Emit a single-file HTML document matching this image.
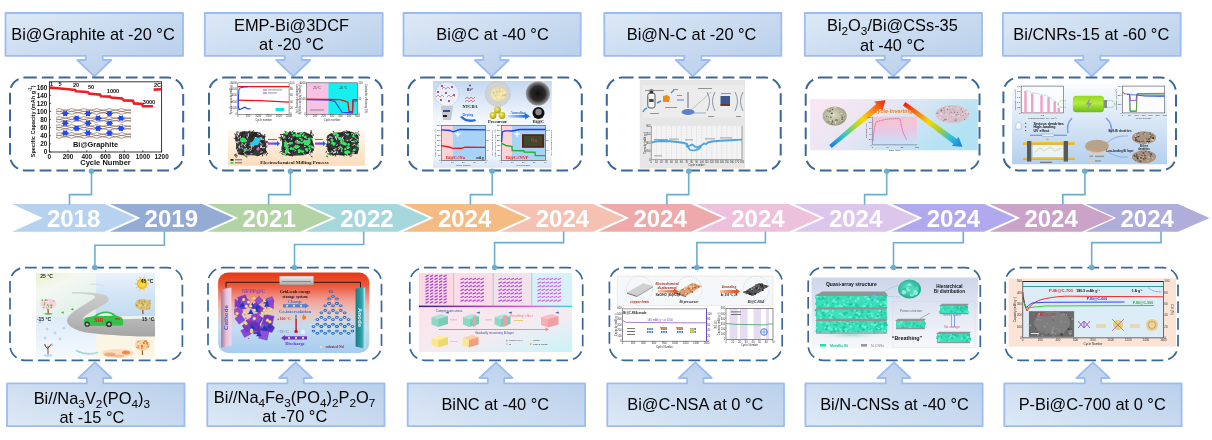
<!DOCTYPE html>
<html><head><meta charset="utf-8"><title>Bi anodes timeline</title>
<style>html,body{margin:0;padding:0;background:#fff;width:1212px;height:440px;overflow:hidden} svg{display:block}</style>
</head><body>
<svg width="1212" height="440" viewBox="0 0 1212 440">
<defs>
 <linearGradient id="cg" x1="0" y1="0" x2="1" y2="1">
  <stop offset="0" stop-color="#dde9f6"/>
  <stop offset="1" stop-color="#b3cbe9"/>
 </linearGradient>
 <linearGradient id="cgu" x1="0" y1="1" x2="1" y2="0">
  <stop offset="0" stop-color="#dde9f6"/>
  <stop offset="1" stop-color="#b3cbe9"/>
 </linearGradient>
</defs>
<path d="M5.5,13.0 H183.0 V55.8 H102.8 V60.0 H111.3 L94.3,76.4 L77.3,60.0 H85.8 V55.8 H5.5 Z" fill="url(#cg)" stroke="#9dbcf4" stroke-width="1.8" stroke-linejoin="round"/>
<path d="M204.8,13.0 H382.7 V55.8 H301.7 V60.0 H310.2 L293.2,76.4 L276.2,60.0 H284.7 V55.8 H204.8 Z" fill="url(#cg)" stroke="#9dbcf4" stroke-width="1.8" stroke-linejoin="round"/>
<path d="M403.5,13.0 H580.7 V55.8 H500.3 V60.0 H508.8 L491.8,76.4 L474.8,60.0 H483.3 V55.8 H403.5 Z" fill="url(#cg)" stroke="#9dbcf4" stroke-width="1.8" stroke-linejoin="round"/>
<path d="M604.3,13.0 H781.3 V55.8 H701.3 V60.0 H709.8 L692.8,76.4 L675.8,60.0 H684.3 V55.8 H604.3 Z" fill="url(#cg)" stroke="#9dbcf4" stroke-width="1.8" stroke-linejoin="round"/>
<path d="M804.8,13.0 H982.0 V55.8 H901.7 V60.0 H910.2 L893.2,76.4 L876.2,60.0 H884.7 V55.8 H804.8 Z" fill="url(#cg)" stroke="#9dbcf4" stroke-width="1.8" stroke-linejoin="round"/>
<path d="M1002.9,13.0 H1180.7 V55.8 H1100.3 V60.0 H1108.8 L1091.8,76.4 L1074.8,60.0 H1083.3 V55.8 H1002.9 Z" fill="url(#cg)" stroke="#9dbcf4" stroke-width="1.8" stroke-linejoin="round"/>
<path d="M7.0,383.4 H86.8 V378.0 H78.5 L95.0,362.3 L111.5,378.0 H103.2 V383.4 H184.5 V426.2 H7.0 Z" fill="url(#cgu)" stroke="#9dbcf4" stroke-width="1.8" stroke-linejoin="round"/>
<path d="M207.3,383.4 H287.40000000000003 V378.0 H279.1 L295.6,362.3 L312.1,378.0 H303.8 V383.4 H384.5 V426.2 H207.3 Z" fill="url(#cgu)" stroke="#9dbcf4" stroke-width="1.8" stroke-linejoin="round"/>
<path d="M407.7,383.4 H487.8 V378.0 H479.5 L496.0,362.3 L512.5,378.0 H504.2 V383.4 H585.1 V426.2 H407.7 Z" fill="url(#cgu)" stroke="#9dbcf4" stroke-width="1.8" stroke-linejoin="round"/>
<path d="M607.3,383.4 H687.0999999999999 V378.0 H678.8 L695.3,362.3 L711.8,378.0 H703.5 V383.4 H784.0 V426.2 H607.3 Z" fill="url(#cgu)" stroke="#9dbcf4" stroke-width="1.8" stroke-linejoin="round"/>
<path d="M805.4,383.4 H885.8 V378.0 H877.5 L894.0,362.3 L910.5,378.0 H902.2 V383.4 H982.6 V426.2 H805.4 Z" fill="url(#cgu)" stroke="#9dbcf4" stroke-width="1.8" stroke-linejoin="round"/>
<path d="M1004.3,383.4 H1084.8 V378.0 H1076.5 L1093.0,362.3 L1109.5,378.0 H1101.2 V383.4 H1181.6 V426.2 H1004.3 Z" fill="url(#cgu)" stroke="#9dbcf4" stroke-width="1.8" stroke-linejoin="round"/>
<text x="93.0" y="40.2" font-family="Liberation Sans, Arial, sans-serif" font-size="16.4" fill="#000" text-anchor="middle">Bi@Graphite at -20 °C</text>
<text x="291.5" y="30.8" font-family="Liberation Sans, Arial, sans-serif" font-size="16.4" fill="#000" text-anchor="middle">EMP-Bi@3DCF</text>
<text x="291.5" y="50.4" font-family="Liberation Sans, Arial, sans-serif" font-size="16.4" fill="#000" text-anchor="middle">at -20 °C</text>
<text x="492.5" y="40.2" font-family="Liberation Sans, Arial, sans-serif" font-size="16.4" fill="#000" text-anchor="middle">Bi@C at -40 °C</text>
<text x="691.6" y="40.2" font-family="Liberation Sans, Arial, sans-serif" font-size="16.4" fill="#000" text-anchor="middle">Bi@N-C at -20 °C</text>
<text x="892.4" y="30.9" font-family="Liberation Sans, Arial, sans-serif" font-size="16.4" fill="#000" text-anchor="middle">Bi<tspan font-size="11.8" dy="4">2</tspan><tspan dy="-4">O</tspan><tspan font-size="11.8" dy="4">3</tspan><tspan dy="-4">/Bi@CSs-35</tspan></text>
<text x="892.5" y="50.6" font-family="Liberation Sans, Arial, sans-serif" font-size="16.4" fill="#000" text-anchor="middle">at -40 °C</text>
<text x="1091.3" y="40.2" font-family="Liberation Sans, Arial, sans-serif" font-size="16.4" fill="#000" text-anchor="middle">Bi/CNRs-15 at -60 °C</text>
<text x="91.9" y="403.8" font-family="Liberation Sans, Arial, sans-serif" font-size="16.4" fill="#000" text-anchor="middle">Bi//Na<tspan font-size="11.8" dy="4">3</tspan><tspan dy="-4">V</tspan><tspan font-size="11.8" dy="4">2</tspan><tspan dy="-4">(PO</tspan><tspan font-size="11.8" dy="4">4</tspan><tspan dy="-4">)</tspan><tspan font-size="11.8" dy="4">3</tspan></text>
<text x="91.9" y="422.5" font-family="Liberation Sans, Arial, sans-serif" font-size="16.4" fill="#000" text-anchor="middle">at -15 °C</text>
<text x="294.6" y="403.0" font-family="Liberation Sans, Arial, sans-serif" font-size="16.4" fill="#000" text-anchor="middle">Bi//Na<tspan font-size="11.8" dy="4">4</tspan><tspan dy="-4">Fe</tspan><tspan font-size="11.8" dy="4">3</tspan><tspan dy="-4">(PO</tspan><tspan font-size="11.8" dy="4">4</tspan><tspan dy="-4">)</tspan><tspan font-size="11.8" dy="4">2</tspan><tspan dy="-4">P</tspan><tspan font-size="11.8" dy="4">2</tspan><tspan dy="-4">O</tspan><tspan font-size="11.8" dy="4">7</tspan></text>
<text x="294.8" y="422.3" font-family="Liberation Sans, Arial, sans-serif" font-size="16.4" fill="#000" text-anchor="middle">at -70 °C</text>
<text x="495.25" y="409.7" font-family="Liberation Sans, Arial, sans-serif" font-size="16.4" fill="#000" text-anchor="middle">BiNC at -40 °C</text>
<text x="695.3" y="409.7" font-family="Liberation Sans, Arial, sans-serif" font-size="16.4" fill="#000" text-anchor="middle">Bi@C-NSA at 0 °C</text>
<text x="894.5" y="409.7" font-family="Liberation Sans, Arial, sans-serif" font-size="16.4" fill="#000" text-anchor="middle">Bi/N-CNSs at -40 °C</text>
<text x="1092.2" y="409.7" font-family="Liberation Sans, Arial, sans-serif" font-size="16.4" fill="#000" text-anchor="middle">P-Bi@C-700 at 0 °C</text>
<polygon points="12.1,203.9 104.5,203.9 135.9,217.9 104.5,231.8 12.1,231.8 42.7,217.9" fill="#b6d2ee"/>
<text x="73.6" y="227.3" font-family="Liberation Sans, Arial, sans-serif" font-weight="bold" font-size="24" fill="#fff" text-anchor="middle">2018</text>
<polygon points="109.85,203.9 202.25,203.9 233.64999999999998,217.9 202.25,231.8 109.85,231.8 140.45,217.9" fill="#94acd4"/>
<text x="171.3" y="227.3" font-family="Liberation Sans, Arial, sans-serif" font-weight="bold" font-size="24" fill="#fff" text-anchor="middle">2019</text>
<polygon points="207.6,203.9 300.0,203.9 331.4,217.9 300.0,231.8 207.6,231.8 238.2,217.9" fill="#b2d3a3"/>
<text x="269.1" y="227.3" font-family="Liberation Sans, Arial, sans-serif" font-weight="bold" font-size="24" fill="#fff" text-anchor="middle">2021</text>
<polygon points="305.35,203.9 397.75,203.9 429.15000000000003,217.9 397.75,231.8 305.35,231.8 335.95000000000005,217.9" fill="#a6d7dc"/>
<text x="366.9" y="227.3" font-family="Liberation Sans, Arial, sans-serif" font-weight="bold" font-size="24" fill="#fff" text-anchor="middle">2022</text>
<polygon points="403.1,203.9 495.5,203.9 526.9,217.9 495.5,231.8 403.1,231.8 433.70000000000005,217.9" fill="#f4bb85"/>
<text x="464.6" y="227.3" font-family="Liberation Sans, Arial, sans-serif" font-weight="bold" font-size="24" fill="#fff" text-anchor="middle">2024</text>
<polygon points="500.85,203.9 593.25,203.9 624.65,217.9 593.25,231.8 500.85,231.8 531.45,217.9" fill="#f5c1b2"/>
<text x="562.4" y="227.3" font-family="Liberation Sans, Arial, sans-serif" font-weight="bold" font-size="24" fill="#fff" text-anchor="middle">2024</text>
<polygon points="598.6,203.9 691.0,203.9 722.4,217.9 691.0,231.8 598.6,231.8 629.2,217.9" fill="#eeaaab"/>
<text x="660.1" y="227.3" font-family="Liberation Sans, Arial, sans-serif" font-weight="bold" font-size="24" fill="#fff" text-anchor="middle">2024</text>
<polygon points="696.35,203.9 788.75,203.9 820.15,217.9 788.75,231.8 696.35,231.8 726.95,217.9" fill="#edc1dc"/>
<text x="757.9" y="227.3" font-family="Liberation Sans, Arial, sans-serif" font-weight="bold" font-size="24" fill="#fff" text-anchor="middle">2024</text>
<polygon points="794.1,203.9 886.5,203.9 917.9,217.9 886.5,231.8 794.1,231.8 824.7,217.9" fill="#dcc6ec"/>
<text x="855.6" y="227.3" font-family="Liberation Sans, Arial, sans-serif" font-weight="bold" font-size="24" fill="#fff" text-anchor="middle">2024</text>
<polygon points="891.85,203.9 984.25,203.9 1015.65,217.9 984.25,231.8 891.85,231.8 922.45,217.9" fill="#b1a9ee"/>
<text x="953.4" y="227.3" font-family="Liberation Sans, Arial, sans-serif" font-weight="bold" font-size="24" fill="#fff" text-anchor="middle">2024</text>
<polygon points="989.6,203.9 1082.0,203.9 1113.4,217.9 1082.0,231.8 989.6,231.8 1020.2,217.9" fill="#cba2c8"/>
<text x="1051.1" y="227.3" font-family="Liberation Sans, Arial, sans-serif" font-weight="bold" font-size="24" fill="#fff" text-anchor="middle">2024</text>
<polygon points="1085.7,203.9 1178.1000000000001,203.9 1209.5,217.9 1178.1000000000001,231.8 1085.7,231.8 1116.3,217.9" fill="#afadd9"/>
<text x="1147.2" y="227.3" font-family="Liberation Sans, Arial, sans-serif" font-weight="bold" font-size="24" fill="#fff" text-anchor="middle">2024</text>
<path d="M91.5,171.3 V194.6 H69.5 V204.5" fill="none" stroke="#6aaed0" stroke-width="1.6"/>
<path d="M290.4,171.3 V194.6 H268.6 V204.5" fill="none" stroke="#6aaed0" stroke-width="1.6"/>
<path d="M492.2,171.3 V194.6 H470.4 V204.5" fill="none" stroke="#6aaed0" stroke-width="1.6"/>
<path d="M688.7,171.3 V194.6 H666.9 V204.5" fill="none" stroke="#6aaed0" stroke-width="1.6"/>
<path d="M886.7,171.3 V194.6 H864.6 V204.5" fill="none" stroke="#6aaed0" stroke-width="1.6"/>
<path d="M1084.9,171.3 V194.6 H1062.8 V204.5" fill="none" stroke="#6aaed0" stroke-width="1.6"/>
<path d="M164.4,231.5 V245.3 H94.9 V267.5" fill="none" stroke="#6aaed0" stroke-width="1.6"/>
<path d="M363.7,231.5 V244.5 H294.5 V267.5" fill="none" stroke="#6aaed0" stroke-width="1.6"/>
<path d="M563.6,231.5 V242.6 H494.6 V267.5" fill="none" stroke="#6aaed0" stroke-width="1.6"/>
<path d="M765.4,231.5 V242.6 H696.9 V267.5" fill="none" stroke="#6aaed0" stroke-width="1.6"/>
<path d="M963.3,231.5 V242.8 H893.5 V267.5" fill="none" stroke="#6aaed0" stroke-width="1.6"/>
<path d="M1161.0,231.5 V242.6 H1091.7 V267.5" fill="none" stroke="#6aaed0" stroke-width="1.6"/>
<rect x="49.4" y="81.8" width="112.19999999999999" height="70.2" fill="#fff" stroke="#222" stroke-width="0.9"/>
<line x1="49.4" y1="152.0" x2="51.199999999999996" y2="152.0" stroke="#222" stroke-width="0.7"/>
<text x="47.4" y="154.3" font-family="Liberation Sans, Arial, sans-serif" font-size="6.4" fill="#111" text-anchor="end" font-weight="bold" >0</text>
<line x1="49.4" y1="143.9" x2="51.199999999999996" y2="143.9" stroke="#222" stroke-width="0.7"/>
<text x="47.4" y="146.2" font-family="Liberation Sans, Arial, sans-serif" font-size="6.4" fill="#111" text-anchor="end" font-weight="bold" >20</text>
<line x1="49.4" y1="135.8" x2="51.199999999999996" y2="135.8" stroke="#222" stroke-width="0.7"/>
<text x="47.4" y="138.1" font-family="Liberation Sans, Arial, sans-serif" font-size="6.4" fill="#111" text-anchor="end" font-weight="bold" >40</text>
<line x1="49.4" y1="127.7" x2="51.199999999999996" y2="127.7" stroke="#222" stroke-width="0.7"/>
<text x="47.4" y="130.0" font-family="Liberation Sans, Arial, sans-serif" font-size="6.4" fill="#111" text-anchor="end" font-weight="bold" >60</text>
<line x1="49.4" y1="119.6" x2="51.199999999999996" y2="119.6" stroke="#222" stroke-width="0.7"/>
<text x="47.4" y="121.9" font-family="Liberation Sans, Arial, sans-serif" font-size="6.4" fill="#111" text-anchor="end" font-weight="bold" >80</text>
<line x1="49.4" y1="111.5" x2="51.199999999999996" y2="111.5" stroke="#222" stroke-width="0.7"/>
<text x="47.4" y="113.8" font-family="Liberation Sans, Arial, sans-serif" font-size="6.4" fill="#111" text-anchor="end" font-weight="bold" >100</text>
<line x1="49.4" y1="103.4" x2="51.199999999999996" y2="103.4" stroke="#222" stroke-width="0.7"/>
<text x="47.4" y="105.7" font-family="Liberation Sans, Arial, sans-serif" font-size="6.4" fill="#111" text-anchor="end" font-weight="bold" >120</text>
<line x1="49.4" y1="95.3" x2="51.199999999999996" y2="95.3" stroke="#222" stroke-width="0.7"/>
<text x="47.4" y="97.6" font-family="Liberation Sans, Arial, sans-serif" font-size="6.4" fill="#111" text-anchor="end" font-weight="bold" >140</text>
<line x1="49.4" y1="87.2" x2="51.199999999999996" y2="87.2" stroke="#222" stroke-width="0.7"/>
<text x="47.4" y="89.5" font-family="Liberation Sans, Arial, sans-serif" font-size="6.4" fill="#111" text-anchor="end" font-weight="bold" >160</text>
<line x1="49.4" y1="152.0" x2="49.4" y2="150.2" stroke="#222" stroke-width="0.7"/>
<text x="49.4" y="159.3" font-family="Liberation Sans, Arial, sans-serif" font-size="6.4" fill="#111" text-anchor="middle" font-weight="bold" >0</text>
<line x1="68.1" y1="152.0" x2="68.1" y2="150.2" stroke="#222" stroke-width="0.7"/>
<text x="68.1" y="159.3" font-family="Liberation Sans, Arial, sans-serif" font-size="6.4" fill="#111" text-anchor="middle" font-weight="bold" >200</text>
<line x1="86.8" y1="152.0" x2="86.8" y2="150.2" stroke="#222" stroke-width="0.7"/>
<text x="86.8" y="159.3" font-family="Liberation Sans, Arial, sans-serif" font-size="6.4" fill="#111" text-anchor="middle" font-weight="bold" >400</text>
<line x1="105.5" y1="152.0" x2="105.5" y2="150.2" stroke="#222" stroke-width="0.7"/>
<text x="105.5" y="159.3" font-family="Liberation Sans, Arial, sans-serif" font-size="6.4" fill="#111" text-anchor="middle" font-weight="bold" >600</text>
<line x1="124.2" y1="152.0" x2="124.2" y2="150.2" stroke="#222" stroke-width="0.7"/>
<text x="124.2" y="159.3" font-family="Liberation Sans, Arial, sans-serif" font-size="6.4" fill="#111" text-anchor="middle" font-weight="bold" >800</text>
<line x1="142.9" y1="152.0" x2="142.9" y2="150.2" stroke="#222" stroke-width="0.7"/>
<text x="142.9" y="159.3" font-family="Liberation Sans, Arial, sans-serif" font-size="6.4" fill="#111" text-anchor="middle" font-weight="bold" >1000</text>
<line x1="161.6" y1="152.0" x2="161.6" y2="150.2" stroke="#222" stroke-width="0.7"/>
<text x="161.6" y="159.3" font-family="Liberation Sans, Arial, sans-serif" font-size="6.4" fill="#111" text-anchor="middle" font-weight="bold" >1200</text>
<text x="105.5" y="165.4" font-family="Liberation Sans, Arial, sans-serif" font-size="7.5" fill="#111" text-anchor="middle" font-weight="bold" >Cycle Number</text>
<text x="0" y="0" font-family="Liberation Sans, Arial, sans-serif" font-size="6.1" font-weight="bold" fill="#111" text-anchor="middle" textLength="71.8" lengthAdjust="spacingAndGlyphs" transform="translate(34.6,121.4) rotate(-90)">Specific Capacity (mAh g<tspan font-size="4.5" dy="-2.5">-1</tspan><tspan dy="2.5">)</tspan></text>
<polyline points="50,87.6 57,88.2 66,89.0 75,90.0 76,91.2 84,91.8 88,92.2 89,93.6 96,94.2 100,94.6 101,96.3 110,96.6 111,97.6 122,98.4 124,100.4 133,100.8 134,103.4 142,104.0 143,106.3 153,106.3" fill="none" stroke="#ee1c24" stroke-width="2.6"/>
<polyline points="153.6,89.6 161.4,89.3" fill="none" stroke="#ee1c24" stroke-width="2.6"/>
<text x="51.5" y="85.6" font-family="Liberation Sans, Arial, sans-serif" font-size="5.6" fill="#111" text-anchor="middle" font-weight="bold" >1</text>
<text x="60.0" y="86.0" font-family="Liberation Sans, Arial, sans-serif" font-size="5.6" fill="#111" text-anchor="middle" font-weight="bold" >5</text>
<text x="76.0" y="87.4" font-family="Liberation Sans, Arial, sans-serif" font-size="5.6" fill="#111" text-anchor="middle" font-weight="bold" >20</text>
<text x="91.0" y="88.6" font-family="Liberation Sans, Arial, sans-serif" font-size="5.6" fill="#111" text-anchor="middle" font-weight="bold" >50</text>
<text x="113.0" y="93.2" font-family="Liberation Sans, Arial, sans-serif" font-size="5.6" fill="#111" text-anchor="middle" font-weight="bold" >1000</text>
<text x="149.0" y="103.8" font-family="Liberation Sans, Arial, sans-serif" font-size="5.6" fill="#111" text-anchor="middle" font-weight="bold" >3000</text>
<text x="157.5" y="86.9" font-family="Liberation Sans, Arial, sans-serif" font-size="5.6" fill="#111" text-anchor="middle" font-weight="bold" >2C</text>
<path d="M56,109.5 Q59.1,107.7 62.2,109.5 Q65.3,111.3 68.5,109.5 Q71.6,107.7 74.8,109.5 Q77.8,111.3 81.0,109.5 Q84.1,107.7 87.2,109.5 Q90.3,111.3 93.5,109.5 Q96.6,107.7 99.8,109.5 Q102.8,111.3 106.0,109.5 Q109.1,107.7 112.2,109.5 Q115.3,111.3 118.5,109.5 Q121.6,107.7 124.8,109.5 Q127.8,111.3 131.0,109.5" fill="none" stroke="#8a6a58" stroke-width="0.7"/>
<path d="M56,110.8 Q59.1,112.6 62.2,110.8 Q65.3,109.0 68.5,110.8 Q71.6,112.6 74.8,110.8 Q77.8,109.0 81.0,110.8 Q84.1,112.6 87.2,110.8 Q90.3,109.0 93.5,110.8 Q96.6,112.6 99.8,110.8 Q102.8,109.0 106.0,110.8 Q109.1,112.6 112.2,110.8 Q115.3,109.0 118.5,110.8 Q121.6,112.6 124.8,110.8 Q127.8,109.0 131.0,110.8" fill="none" stroke="#8a6a58" stroke-width="0.7"/>
<path d="M56,112.1 Q59.1,110.3 62.2,112.1 Q65.3,113.9 68.5,112.1 Q71.6,110.3 74.8,112.1 Q77.8,113.9 81.0,112.1 Q84.1,110.3 87.2,112.1 Q90.3,113.9 93.5,112.1 Q96.6,110.3 99.8,112.1 Q102.8,113.9 106.0,112.1 Q109.1,110.3 112.2,112.1 Q115.3,113.9 118.5,112.1 Q121.6,110.3 124.8,112.1 Q127.8,113.9 131.0,112.1" fill="none" stroke="#8a6a58" stroke-width="0.7"/>
<path d="M56,113.4 Q59.1,115.2 62.2,113.4 Q65.3,111.6 68.5,113.4 Q71.6,115.2 74.8,113.4 Q77.8,111.6 81.0,113.4 Q84.1,115.2 87.2,113.4 Q90.3,111.6 93.5,113.4 Q96.6,115.2 99.8,113.4 Q102.8,111.6 106.0,113.4 Q109.1,115.2 112.2,113.4 Q115.3,111.6 118.5,113.4 Q121.6,115.2 124.8,113.4 Q127.8,111.6 131.0,113.4" fill="none" stroke="#8a6a58" stroke-width="0.7"/>
<path d="M56,117.5 Q59.1,115.7 62.2,117.5 Q65.3,119.3 68.5,117.5 Q71.6,115.7 74.8,117.5 Q77.8,119.3 81.0,117.5 Q84.1,115.7 87.2,117.5 Q90.3,119.3 93.5,117.5 Q96.6,115.7 99.8,117.5 Q102.8,119.3 106.0,117.5 Q109.1,115.7 112.2,117.5 Q115.3,119.3 118.5,117.5 Q121.6,115.7 124.8,117.5 Q127.8,119.3 131.0,117.5" fill="none" stroke="#8a6a58" stroke-width="0.7"/>
<path d="M56,118.8 Q59.1,120.6 62.2,118.8 Q65.3,117.0 68.5,118.8 Q71.6,120.6 74.8,118.8 Q77.8,117.0 81.0,118.8 Q84.1,120.6 87.2,118.8 Q90.3,117.0 93.5,118.8 Q96.6,120.6 99.8,118.8 Q102.8,117.0 106.0,118.8 Q109.1,120.6 112.2,118.8 Q115.3,117.0 118.5,118.8 Q121.6,120.6 124.8,118.8 Q127.8,117.0 131.0,118.8" fill="none" stroke="#8a6a58" stroke-width="0.7"/>
<path d="M56,120.1 Q59.1,118.3 62.2,120.1 Q65.3,121.9 68.5,120.1 Q71.6,118.3 74.8,120.1 Q77.8,121.9 81.0,120.1 Q84.1,118.3 87.2,120.1 Q90.3,121.9 93.5,120.1 Q96.6,118.3 99.8,120.1 Q102.8,121.9 106.0,120.1 Q109.1,118.3 112.2,120.1 Q115.3,121.9 118.5,120.1 Q121.6,118.3 124.8,120.1 Q127.8,121.9 131.0,120.1" fill="none" stroke="#8a6a58" stroke-width="0.7"/>
<path d="M56,121.4 Q59.1,123.2 62.2,121.4 Q65.3,119.6 68.5,121.4 Q71.6,123.2 74.8,121.4 Q77.8,119.6 81.0,121.4 Q84.1,123.2 87.2,121.4 Q90.3,119.6 93.5,121.4 Q96.6,123.2 99.8,121.4 Q102.8,119.6 106.0,121.4 Q109.1,123.2 112.2,121.4 Q115.3,119.6 118.5,121.4 Q121.6,123.2 124.8,121.4 Q127.8,119.6 131.0,121.4" fill="none" stroke="#8a6a58" stroke-width="0.7"/>
<path d="M56,125.5 Q59.1,123.7 62.2,125.5 Q65.3,127.3 68.5,125.5 Q71.6,123.7 74.8,125.5 Q77.8,127.3 81.0,125.5 Q84.1,123.7 87.2,125.5 Q90.3,127.3 93.5,125.5 Q96.6,123.7 99.8,125.5 Q102.8,127.3 106.0,125.5 Q109.1,123.7 112.2,125.5 Q115.3,127.3 118.5,125.5 Q121.6,123.7 124.8,125.5 Q127.8,127.3 131.0,125.5" fill="none" stroke="#8a6a58" stroke-width="0.7"/>
<path d="M56,126.8 Q59.1,128.6 62.2,126.8 Q65.3,125.0 68.5,126.8 Q71.6,128.6 74.8,126.8 Q77.8,125.0 81.0,126.8 Q84.1,128.6 87.2,126.8 Q90.3,125.0 93.5,126.8 Q96.6,128.6 99.8,126.8 Q102.8,125.0 106.0,126.8 Q109.1,128.6 112.2,126.8 Q115.3,125.0 118.5,126.8 Q121.6,128.6 124.8,126.8 Q127.8,125.0 131.0,126.8" fill="none" stroke="#8a6a58" stroke-width="0.7"/>
<path d="M56,128.1 Q59.1,126.3 62.2,128.1 Q65.3,129.9 68.5,128.1 Q71.6,126.3 74.8,128.1 Q77.8,129.9 81.0,128.1 Q84.1,126.3 87.2,128.1 Q90.3,129.9 93.5,128.1 Q96.6,126.3 99.8,128.1 Q102.8,129.9 106.0,128.1 Q109.1,126.3 112.2,128.1 Q115.3,129.9 118.5,128.1 Q121.6,126.3 124.8,128.1 Q127.8,129.9 131.0,128.1" fill="none" stroke="#8a6a58" stroke-width="0.7"/>
<path d="M56,129.4 Q59.1,131.2 62.2,129.4 Q65.3,127.6 68.5,129.4 Q71.6,131.2 74.8,129.4 Q77.8,127.6 81.0,129.4 Q84.1,131.2 87.2,129.4 Q90.3,127.6 93.5,129.4 Q96.6,131.2 99.8,129.4 Q102.8,127.6 106.0,129.4 Q109.1,131.2 112.2,129.4 Q115.3,127.6 118.5,129.4 Q121.6,131.2 124.8,129.4 Q127.8,127.6 131.0,129.4" fill="none" stroke="#8a6a58" stroke-width="0.7"/>
<path d="M56,133.5 Q59.1,131.7 62.2,133.5 Q65.3,135.3 68.5,133.5 Q71.6,131.7 74.8,133.5 Q77.8,135.3 81.0,133.5 Q84.1,131.7 87.2,133.5 Q90.3,135.3 93.5,133.5 Q96.6,131.7 99.8,133.5 Q102.8,135.3 106.0,133.5 Q109.1,131.7 112.2,133.5 Q115.3,135.3 118.5,133.5 Q121.6,131.7 124.8,133.5 Q127.8,135.3 131.0,133.5" fill="none" stroke="#8a6a58" stroke-width="0.7"/>
<path d="M56,134.8 Q59.1,136.6 62.2,134.8 Q65.3,133.0 68.5,134.8 Q71.6,136.6 74.8,134.8 Q77.8,133.0 81.0,134.8 Q84.1,136.6 87.2,134.8 Q90.3,133.0 93.5,134.8 Q96.6,136.6 99.8,134.8 Q102.8,133.0 106.0,134.8 Q109.1,136.6 112.2,134.8 Q115.3,133.0 118.5,134.8 Q121.6,136.6 124.8,134.8 Q127.8,133.0 131.0,134.8" fill="none" stroke="#8a6a58" stroke-width="0.7"/>
<path d="M56,136.1 Q59.1,134.3 62.2,136.1 Q65.3,137.9 68.5,136.1 Q71.6,134.3 74.8,136.1 Q77.8,137.9 81.0,136.1 Q84.1,134.3 87.2,136.1 Q90.3,137.9 93.5,136.1 Q96.6,134.3 99.8,136.1 Q102.8,137.9 106.0,136.1 Q109.1,134.3 112.2,136.1 Q115.3,137.9 118.5,136.1 Q121.6,134.3 124.8,136.1 Q127.8,137.9 131.0,136.1" fill="none" stroke="#8a6a58" stroke-width="0.7"/>
<path d="M56,137.4 Q59.1,139.2 62.2,137.4 Q65.3,135.6 68.5,137.4 Q71.6,139.2 74.8,137.4 Q77.8,135.6 81.0,137.4 Q84.1,139.2 87.2,137.4 Q90.3,135.6 93.5,137.4 Q96.6,139.2 99.8,137.4 Q102.8,135.6 106.0,137.4 Q109.1,139.2 112.2,137.4 Q115.3,135.6 118.5,137.4 Q121.6,139.2 124.8,137.4 Q127.8,135.6 131.0,137.4" fill="none" stroke="#8a6a58" stroke-width="0.7"/>
<polygon points="69.2,113.6 67.1,114.6 67.2,116.5 65.2,115.5 63.2,116.5 63.3,114.5 61.2,113.6 63.3,112.6 63.2,110.7 65.2,111.7 67.2,110.7 67.1,112.7" fill="#1c3cf0"/>
<circle cx="65.2" cy="113.6" r="2.3" fill="#2448f4"/>
<polygon points="92.0,113.6 89.9,114.6 90.0,116.5 88.0,115.5 86.0,116.5 86.1,114.5 84.0,113.6 86.1,112.6 86.0,110.7 88.0,111.7 90.0,110.7 89.9,112.7" fill="#1c3cf0"/>
<circle cx="88.0" cy="113.6" r="2.3" fill="#2448f4"/>
<polygon points="113.5,113.6 111.4,114.6 111.5,116.5 109.5,115.5 107.5,116.5 107.6,114.5 105.5,113.6 107.6,112.6 107.5,110.7 109.5,111.7 111.5,110.7 111.4,112.7" fill="#1c3cf0"/>
<circle cx="109.5" cy="113.6" r="2.3" fill="#2448f4"/>
<polygon points="80.6,118.2 78.5,119.2 78.6,121.1 76.6,120.1 74.6,121.1 74.7,119.1 72.6,118.2 74.7,117.2 74.6,115.3 76.6,116.3 78.6,115.3 78.5,117.3" fill="#1c3cf0"/>
<circle cx="76.6" cy="118.2" r="2.3" fill="#2448f4"/>
<polygon points="102.2,118.2 100.1,119.2 100.2,121.1 98.2,120.1 96.2,121.1 96.3,119.1 94.2,118.2 96.3,117.2 96.2,115.3 98.2,116.3 100.2,115.3 100.1,117.3" fill="#1c3cf0"/>
<circle cx="98.2" cy="118.2" r="2.3" fill="#2448f4"/>
<polygon points="124.9,118.2 122.8,119.2 122.9,121.1 120.9,120.1 118.9,121.1 119.0,119.1 116.9,118.2 119.0,117.2 118.9,115.3 120.9,116.3 122.9,115.3 122.8,117.3" fill="#1c3cf0"/>
<circle cx="120.9" cy="118.2" r="2.3" fill="#2448f4"/>
<polygon points="69.2,123.2 67.1,124.2 67.2,126.1 65.2,125.1 63.2,126.1 63.3,124.1 61.2,123.2 63.3,122.2 63.2,120.3 65.2,121.3 67.2,120.3 67.1,122.3" fill="#1c3cf0"/>
<circle cx="65.2" cy="123.2" r="2.3" fill="#2448f4"/>
<polygon points="92.0,123.2 89.9,124.2 90.0,126.1 88.0,125.1 86.0,126.1 86.1,124.1 84.0,123.2 86.1,122.2 86.0,120.3 88.0,121.3 90.0,120.3 89.9,122.3" fill="#1c3cf0"/>
<circle cx="88.0" cy="123.2" r="2.3" fill="#2448f4"/>
<polygon points="113.5,123.2 111.4,124.2 111.5,126.1 109.5,125.1 107.5,126.1 107.6,124.1 105.5,123.2 107.6,122.2 107.5,120.3 109.5,121.3 111.5,120.3 111.4,122.3" fill="#1c3cf0"/>
<circle cx="109.5" cy="123.2" r="2.3" fill="#2448f4"/>
<polygon points="80.6,128.4 78.5,129.4 78.6,131.3 76.6,130.3 74.6,131.3 74.7,129.3 72.6,128.4 74.7,127.4 74.6,125.5 76.6,126.5 78.6,125.5 78.5,127.5" fill="#1c3cf0"/>
<circle cx="76.6" cy="128.4" r="2.3" fill="#2448f4"/>
<polygon points="102.2,128.4 100.1,129.4 100.2,131.3 98.2,130.3 96.2,131.3 96.3,129.3 94.2,128.4 96.3,127.4 96.2,125.5 98.2,126.5 100.2,125.5 100.1,127.5" fill="#1c3cf0"/>
<circle cx="98.2" cy="128.4" r="2.3" fill="#2448f4"/>
<polygon points="124.9,128.4 122.8,129.4 122.9,131.3 120.9,130.3 118.9,131.3 119.0,129.3 116.9,128.4 119.0,127.4 118.9,125.5 120.9,126.5 122.9,125.5 122.8,127.5" fill="#1c3cf0"/>
<circle cx="120.9" cy="128.4" r="2.3" fill="#2448f4"/>
<polygon points="69.2,133.0 67.1,134.0 67.2,135.9 65.2,134.9 63.2,135.9 63.3,133.9 61.2,133.0 63.3,132.0 63.2,130.1 65.2,131.1 67.2,130.1 67.1,132.1" fill="#1c3cf0"/>
<circle cx="65.2" cy="133.0" r="2.3" fill="#2448f4"/>
<polygon points="92.0,133.0 89.9,134.0 90.0,135.9 88.0,134.9 86.0,135.9 86.1,133.9 84.0,133.0 86.1,132.0 86.0,130.1 88.0,131.1 90.0,130.1 89.9,132.1" fill="#1c3cf0"/>
<circle cx="88.0" cy="133.0" r="2.3" fill="#2448f4"/>
<polygon points="113.5,133.0 111.4,134.0 111.5,135.9 109.5,134.9 107.5,135.9 107.6,133.9 105.5,133.0 107.6,132.0 107.5,130.1 109.5,131.1 111.5,130.1 111.4,132.1" fill="#1c3cf0"/>
<circle cx="109.5" cy="133.0" r="2.3" fill="#2448f4"/>
<text x="95.5" y="146.7" font-family="Liberation Sans, Arial, sans-serif" font-size="7.4" fill="#111" text-anchor="middle" font-weight="bold" >Bi@Graphite</text>
<rect x="237.8" y="82.8" width="51.30000000000001" height="31.5" fill="#fff" stroke="#555" stroke-width="0.6"/>
<line x1="237.8" y1="86.6" x2="289.1" y2="86.6" stroke="#f21010" stroke-width="1.3"/>
<polyline points="237.8,100.2 260,100.6 289,102.2" fill="none" stroke="#f21010" stroke-width="1.2"/>
<polyline points="238.3,106 238.5,96 239,89 241,87.6 244,87 248,86.8" fill="none" stroke="#1830f0" stroke-width="0.9"/>
<polyline points="238.3,106 239,109.5 241,109 243,108 245,107.2 247,108.5 249,109 250.5,108.4" fill="none" stroke="#1830f0" stroke-width="1.1"/>
<rect x="275.6" y="107.9" width="8.6" height="3.2" fill="#00e8e8"/>
<line x1="263" y1="90" x2="267" y2="90" stroke="#f21010" stroke-width="0.8"/><line x1="263" y1="93" x2="267" y2="93" stroke="#1830f0" stroke-width="0.8"/>
<rect x="268" y="89.3" width="14" height="1.2" fill="#aaa"/><rect x="268" y="92.3" width="9" height="1.2" fill="#aaa"/>
<text x="237.0" y="115.2" font-family="Liberation Sans, Arial, sans-serif" font-size="2.7" fill="#333" text-anchor="end" font-weight="normal" >0</text>
<text x="237.0" y="108.9" font-family="Liberation Sans, Arial, sans-serif" font-size="2.7" fill="#333" text-anchor="end" font-weight="normal" >1000</text>
<text x="237.0" y="102.6" font-family="Liberation Sans, Arial, sans-serif" font-size="2.7" fill="#333" text-anchor="end" font-weight="normal" >2000</text>
<text x="237.0" y="96.3" font-family="Liberation Sans, Arial, sans-serif" font-size="2.7" fill="#333" text-anchor="end" font-weight="normal" >3000</text>
<text x="237.0" y="90.0" font-family="Liberation Sans, Arial, sans-serif" font-size="2.7" fill="#333" text-anchor="end" font-weight="normal" >4000</text>
<text x="237.0" y="83.7" font-family="Liberation Sans, Arial, sans-serif" font-size="2.7" fill="#333" text-anchor="end" font-weight="normal" >5000</text>
<text x="289.9" y="115.2" font-family="Liberation Sans, Arial, sans-serif" font-size="2.7" fill="#333" text-anchor="start" font-weight="normal" >0</text>
<text x="289.9" y="108.9" font-family="Liberation Sans, Arial, sans-serif" font-size="2.7" fill="#333" text-anchor="start" font-weight="normal" >20</text>
<text x="289.9" y="102.6" font-family="Liberation Sans, Arial, sans-serif" font-size="2.7" fill="#333" text-anchor="start" font-weight="normal" >40</text>
<text x="289.9" y="96.3" font-family="Liberation Sans, Arial, sans-serif" font-size="2.7" fill="#333" text-anchor="start" font-weight="normal" >60</text>
<text x="289.9" y="90.0" font-family="Liberation Sans, Arial, sans-serif" font-size="2.7" fill="#333" text-anchor="start" font-weight="normal" >80</text>
<text x="289.9" y="83.7" font-family="Liberation Sans, Arial, sans-serif" font-size="2.7" fill="#333" text-anchor="start" font-weight="normal" >100</text>
<text x="237.8" y="117.4" font-family="Liberation Sans, Arial, sans-serif" font-size="2.7" fill="#333" text-anchor="middle" font-weight="normal" >0</text>
<text x="248.1" y="117.4" font-family="Liberation Sans, Arial, sans-serif" font-size="2.7" fill="#333" text-anchor="middle" font-weight="normal" >500</text>
<text x="258.3" y="117.4" font-family="Liberation Sans, Arial, sans-serif" font-size="2.7" fill="#333" text-anchor="middle" font-weight="normal" >1000</text>
<text x="268.6" y="117.4" font-family="Liberation Sans, Arial, sans-serif" font-size="2.7" fill="#333" text-anchor="middle" font-weight="normal" >1500</text>
<text x="278.8" y="117.4" font-family="Liberation Sans, Arial, sans-serif" font-size="2.7" fill="#333" text-anchor="middle" font-weight="normal" >2000</text>
<text x="289.1" y="117.4" font-family="Liberation Sans, Arial, sans-serif" font-size="2.7" fill="#333" text-anchor="middle" font-weight="normal" >2500</text>
<text x="0" y="0" font-family="Liberation Sans, Arial, sans-serif" font-size="2.7" fill="#333" text-anchor="middle" transform="translate(231.9,98.5) rotate(-90)">Specific capacity (mAh g⁻¹)</text>
<text x="0" y="0" font-family="Liberation Sans, Arial, sans-serif" font-size="2.7" fill="#333" text-anchor="middle" transform="translate(296.1,98.5) rotate(90)">Coulombic efficiency (%)</text>
<text x="263.5" y="121.1" font-family="Liberation Sans, Arial, sans-serif" font-size="2.7" fill="#333" text-anchor="middle" font-weight="normal" >Cycle number</text>
<rect x="306.5" y="82.8" width="21.8" height="31.5" fill="#f9c2e4"/>
<rect x="328.3" y="82.8" width="29.19999999999999" height="31.5" fill="#14f0f0"/>
<rect x="306.5" y="82.8" width="51.0" height="31.5" fill="none" stroke="#555" stroke-width="0.6"/>
<polyline points="306.6,99.8 328,100 335,101.5 342,112.3 352.5,112.8 353,101 357.5,101" fill="none" stroke="#1c40f0" stroke-width="1.1"/>
<polyline points="306.6,99.2 320,99.4 328,99.5 340,99.6 345,101 348,102.4 349,111.5 352.5,111.8 353,99.6 357.4,99.6" fill="none" stroke="#f21010" stroke-width="1.3"/>
<text x="305.7" y="115.2" font-family="Liberation Sans, Arial, sans-serif" font-size="2.7" fill="#333" text-anchor="end" font-weight="normal" >0</text>
<text x="305.7" y="99.5" font-family="Liberation Sans, Arial, sans-serif" font-size="2.7" fill="#333" text-anchor="end" font-weight="normal" >500</text>
<text x="305.7" y="83.7" font-family="Liberation Sans, Arial, sans-serif" font-size="2.7" fill="#333" text-anchor="end" font-weight="normal" >1000</text>
<text x="358.3" y="115.2" font-family="Liberation Sans, Arial, sans-serif" font-size="2.7" fill="#333" text-anchor="start" font-weight="normal" >0</text>
<text x="358.3" y="99.5" font-family="Liberation Sans, Arial, sans-serif" font-size="2.7" fill="#333" text-anchor="start" font-weight="normal" >50</text>
<text x="358.3" y="83.7" font-family="Liberation Sans, Arial, sans-serif" font-size="2.7" fill="#333" text-anchor="start" font-weight="normal" >100</text>
<text x="306.5" y="117.4" font-family="Liberation Sans, Arial, sans-serif" font-size="2.7" fill="#333" text-anchor="middle" font-weight="normal" >0</text>
<text x="315.0" y="117.4" font-family="Liberation Sans, Arial, sans-serif" font-size="2.7" fill="#333" text-anchor="middle" font-weight="normal" >100</text>
<text x="323.5" y="117.4" font-family="Liberation Sans, Arial, sans-serif" font-size="2.7" fill="#333" text-anchor="middle" font-weight="normal" >200</text>
<text x="332.0" y="117.4" font-family="Liberation Sans, Arial, sans-serif" font-size="2.7" fill="#333" text-anchor="middle" font-weight="normal" >300</text>
<text x="340.5" y="117.4" font-family="Liberation Sans, Arial, sans-serif" font-size="2.7" fill="#333" text-anchor="middle" font-weight="normal" >400</text>
<text x="349.0" y="117.4" font-family="Liberation Sans, Arial, sans-serif" font-size="2.7" fill="#333" text-anchor="middle" font-weight="normal" >500</text>
<text x="357.5" y="117.4" font-family="Liberation Sans, Arial, sans-serif" font-size="2.7" fill="#333" text-anchor="middle" font-weight="normal" >600</text>
<text x="0" y="0" font-family="Liberation Sans, Arial, sans-serif" font-size="2.7" fill="#333" text-anchor="middle" transform="translate(300.6,98.5) rotate(-90)">Specific capacity (mAh g⁻¹)</text>
<text x="0" y="0" font-family="Liberation Sans, Arial, sans-serif" font-size="2.7" fill="#333" text-anchor="middle" transform="translate(364.5,98.5) rotate(90)">Coulombic efficiency (%)</text>
<text x="332.0" y="121.1" font-family="Liberation Sans, Arial, sans-serif" font-size="2.7" fill="#333" text-anchor="middle" font-weight="normal" >Cycle number</text>
<text x="317.0" y="88.5" font-family="Liberation Sans, Arial, sans-serif" font-size="3.0" fill="#333" text-anchor="middle" font-weight="normal" >25 °C</text>
<text x="343.0" y="88.5" font-family="Liberation Sans, Arial, sans-serif" font-size="3.0" fill="#333" text-anchor="middle" font-weight="normal" >-20 °C</text>
<rect x="310" y="109.5" width="14" height="1" fill="#889"/>
<defs><linearGradient id="t2b" x1="0" y1="0" x2="0" y2="1"><stop offset="0" stop-color="#fffaf4"/><stop offset="1" stop-color="#fbdcbc"/></linearGradient><linearGradient id="t2a" x1="0" y1="0" x2="1" y2="0"><stop offset="0" stop-color="#c040e0"/><stop offset="1" stop-color="#2060f0"/></linearGradient></defs>
<rect x="228" y="129.2" width="137" height="36.5" fill="url(#t2b)"/>
<polygon points="266.2,143.8 266.1,149.2 266.0,152.2 263.3,153.5 261.0,154.8 257.8,155.7 250.8,155.2 243.8,155.6 240.3,155.0 237.5,154.0 237.3,151.3 235.9,149.0 236.1,143.9 234.8,138.3 236.0,135.7 239.0,134.8 239.7,132.1 243.3,131.3 250.7,131.6 257.8,131.9 260.5,133.5 262.5,134.9 265.1,135.9 265.0,138.9" fill="#3a3a3a"/>
<path d="M241.0,137.7 Q240.8,139.1 243.4,138.2 M251.4,147.2 Q251.2,146.3 248.5,147.2 M266.4,155.6 Q265.7,154.5 268.0,153.1 M244.1,133.7 Q245.5,133.2 244.3,131.4 M265.2,152.1 Q266.8,152.0 267.1,152.1 M265.9,141.4 Q267.0,140.5 268.4,142.6 M237.7,139.9 Q236.2,138.9 240.7,139.2 M238.2,133.4 Q238.4,133.2 238.7,131.6 M241.0,149.3 Q239.5,149.0 242.9,151.4 M241.7,138.4 Q240.9,139.9 244.8,137.8 M241.6,141.3 Q240.0,143.3 243.3,139.1 M241.7,138.1 Q240.9,136.4 242.0,136.0 M237.8,145.8 Q237.3,145.6 238.0,148.5 M265.2,143.5 Q263.9,142.1 262.3,142.0 M263.6,151.4 Q264.6,153.1 263.6,153.3 M241.2,154.5 Q240.9,152.9 243.2,152.7 M236.2,154.8 Q235.2,156.1 236.4,157.7 M253.8,139.0 Q252.1,137.9 255.1,141.6 M252.6,152.2 Q254.3,151.0 251.1,150.8 M235.5,138.4 Q234.2,137.9 234.0,138.9 M253.0,135.1 Q254.9,135.7 250.9,137.6 M256.8,145.9 Q254.8,147.5 257.8,147.1 M257.1,154.8 Q257.0,155.7 259.8,155.2 M245.0,155.7 Q246.0,157.3 247.4,156.9 M258.2,148.7 Q257.6,149.4 259.1,145.5 M263.4,152.6 Q264.8,152.9 260.7,154.2 M254.7,141.1 Q253.0,141.6 252.3,139.7 M266.3,152.9 Q267.2,153.2 266.0,150.6 M248.9,151.9 Q247.0,152.3 251.5,153.4 M250.2,137.5 Q250.6,139.1 249.4,135.1 M243.1,132.3 Q241.9,130.9 242.2,135.0 M263.5,147.6 Q262.8,148.3 260.5,148.8 M241.3,142.2 Q242.8,141.7 242.4,139.1 M253.4,139.5 Q254.7,140.9 255.0,141.4 M257.4,154.5 Q257.2,153.6 257.1,156.3 M241.7,141.8 Q241.0,143.2 240.0,140.0 M265.9,142.7 Q267.4,140.9 267.3,143.4 M257.3,145.5 Q255.4,144.1 256.2,148.4 M249.3,132.6 Q247.9,130.8 250.3,130.9 M254.8,142.6 Q256.0,144.4 252.9,140.5 M256.6,136.7 Q254.6,136.6 254.7,137.0 M257.5,136.2 Q258.3,136.3 257.2,138.4 M254.4,149.9 Q256.0,148.3 251.9,151.8 M264.4,149.1 Q264.9,150.8 266.0,150.9 M246.9,145.5 Q248.6,145.3 249.1,143.4 M255.5,136.9 Q256.1,137.7 255.0,133.8 M241.7,153.3 Q241.9,154.5 245.1,152.9 M245.1,153.6 Q243.4,153.3 246.4,151.8 M252.3,150.2 Q253.6,148.5 250.8,150.3 M260.2,136.1 Q258.8,134.7 258.6,138.7 M251.3,149.1 Q253.1,149.1 252.8,146.7 M264.9,134.0 Q264.1,135.0 265.4,136.6 M255.1,144.4 Q254.4,143.9 256.6,142.2 M261.6,153.3 Q263.5,153.4 262.5,156.4 M253.0,136.8 Q253.5,134.9 250.6,136.2 M265.5,144.2 Q265.8,144.2 263.0,146.0 M256.8,133.6 Q258.6,135.3 254.5,133.0 M243.5,143.2 Q244.7,144.8 245.1,144.9 M250.0,139.5 Q251.7,138.0 251.0,142.1 M259.5,132.5 Q260.3,131.8 260.2,134.4 M246.2,146.7 Q244.7,146.7 248.5,148.5 M242.9,136.7 Q242.4,136.3 240.6,136.2 M251.7,135.8 Q252.2,135.9 252.5,138.4 M261.8,146.5 Q262.8,147.7 263.0,145.0 M263.4,139.5 Q262.3,141.5 262.1,142.6 M263.0,135.2 Q262.0,133.6 263.2,138.1 M261.2,142.0 Q260.8,142.7 261.6,140.3 M235.6,136.8 Q237.4,135.2 234.2,133.7 M250.9,150.0 Q249.7,148.3 248.1,149.9 M238.3,132.9 Q238.6,131.5 235.9,132.1 M240.8,136.8 Q242.5,135.2 242.7,133.9 M237.0,154.6 Q236.3,154.4 234.0,155.3 M251.2,142.2 Q252.0,143.6 250.0,141.3 M240.7,142.8 Q239.5,141.4 240.6,140.5 M251.1,132.4 Q252.0,133.8 253.6,130.4 M254.8,141.6 Q256.8,142.8 252.8,140.1 M243.1,153.6 Q244.4,153.2 243.0,150.5 M263.2,152.9 Q264.3,152.5 262.2,150.0 M257.8,133.7 Q255.8,133.1 256.4,135.7 M255.1,146.8 Q255.8,146.1 255.5,150.2 M255.8,145.5 Q257.8,146.1 253.6,145.0 M257.1,150.1 Q257.6,151.0 258.6,149.9 M243.1,141.5 Q242.6,139.9 244.9,142.1 M242.9,153.5 Q244.8,153.7 240.5,152.7 M266.3,147.1 Q266.7,148.2 266.9,145.6 M236.4,154.0 Q235.1,154.0 237.7,156.1 M254.3,133.4 Q254.4,133.8 256.5,132.6 M246.5,138.8 Q245.6,139.6 245.0,136.6 M244.3,132.3 Q243.0,133.4 244.4,133.9 M247.3,153.3 Q249.2,155.0 247.3,151.7 M237.3,153.5 Q239.2,152.4 235.1,154.5 M251.5,154.2 Q253.4,155.5 251.1,151.8 M254.0,134.7 Q252.8,132.9 252.3,133.0 M251.6,134.9 Q251.5,134.0 249.0,135.9 M253.3,141.9 Q255.3,143.8 253.8,139.4 M258.1,137.7 Q259.3,138.2 260.6,139.8 M246.3,138.4 Q246.7,139.0 245.3,136.0 M258.7,136.5 Q260.4,138.0 258.8,140.0 M236.2,133.4 Q236.7,131.9 235.9,135.8 M252.1,133.7 Q252.3,134.2 254.5,135.2 M246.8,143.3 Q247.7,144.7 247.3,145.5 M237.3,134.8 Q238.4,133.7 238.3,132.3 M248.4,138.1 Q249.0,140.1 249.2,136.0 M245.2,145.0 Q245.0,144.5 245.2,141.7 M238.1,152.7 Q238.3,152.7 239.5,153.5 M256.6,139.1 Q255.4,139.7 256.9,137.5 M237.6,139.2 Q236.7,137.8 237.1,136.3 M246.3,149.2 Q247.1,149.5 245.1,150.5 M263.9,154.3 Q265.1,153.5 266.0,153.0 M245.0,141.5 Q244.0,140.9 248.0,140.2" fill="none" stroke="#1e1e1e" stroke-width="0.9"/>
<path d="M246.8,140.9 l-1.3,1.0 M241.8,145.2 l0.5,-1.8 M260.7,145.2 l1.0,2.0 M262.0,139.1 l1.8,0.3 M252.1,145.3 l2.0,-0.4 M259.7,134.4 l-2.2,-0.7 M238.5,134.8 l-0.2,-2.4 M238.5,146.8 l1.4,1.7 M255.1,138.3 l0.4,2.2 M251.4,149.6 l-1.2,0.9 M264.6,147.6 l-1.9,0.1 M257.3,148.4 l1.4,-0.8 M260.4,147.5 l1.4,-1.8 M260.6,152.3 l2.0,-0.5 M251.5,148.4 l0.5,-1.6 M248.4,136.2 l-0.1,-2.6 M247.1,136.6 l0.5,1.6 M244.6,154.0 l1.4,0.5 M239.4,147.1 l0.2,-1.3 M237.8,143.0 l-2.1,-1.2 M237.1,135.4 l0.5,1.2 M242.9,148.6 l-1.1,-0.8 M241.5,139.1 l1.0,2.0 M245.2,144.9 l0.7,-1.6 M243.7,152.3 l1.3,-0.8 M252.1,153.8 l-1.3,0.1 M237.5,153.6 l0.5,-1.5 M251.6,144.2 l-0.4,2.6 M255.4,138.2 l1.8,0.1 M247.0,150.3 l-0.5,-1.9 M240.6,136.4 l-0.6,1.3 M261.6,144.2 l-1.7,-2.0 M243.9,144.6 l1.3,1.8 M236.0,150.8 l1.3,-1.9 M238.4,138.9 l-0.2,-1.1 M250.2,143.2 l1.9,-0.5 M261.3,139.6 l0.4,-1.6 M263.0,135.0 l0.6,-1.2 M252.0,144.4 l1.3,1.9 M245.2,139.7 l1.3,0.7 M249.8,148.5 l-1.3,1.6 M239.1,141.6 l-2.5,0.6 M260.5,147.2 l1.6,0.1 M256.9,138.2 l-1.6,-0.7 M236.3,154.5 l0.4,-1.3" fill="none" stroke="#f4f4f4" stroke-width="0.8" stroke-linecap="round"/>
<ellipse cx="243" cy="140" rx="3" ry="2.6" fill="#30e060"/><polygon points="249,146 255,138 262,137 258,145" fill="#30c8e8"/><circle cx="258" cy="149" r="1.6" fill="#e060c0"/><circle cx="245" cy="150" r="1.4" fill="#30e060"/>
<polygon points="313.4,143.8 313.5,149.3 312.5,151.9 309.8,153.0 307.2,154.0 304.4,155.3 297.4,155.4 289.8,156.1 286.4,155.1 284.0,153.7 282.4,151.8 281.2,149.3 282.1,143.9 281.7,138.6 283.3,136.4 283.4,133.6 287.4,133.6 289.8,131.6 297.3,132.7 304.7,131.8 307.7,133.2 310.3,134.3 312.9,135.6 312.0,138.9" fill="#3a3a3a"/>
<path d="M283.0,153.7 Q284.9,155.5 281.3,153.6 M284.7,142.0 Q285.2,140.7 286.1,143.6 M303.8,133.2 Q303.4,132.9 305.3,136.0 M300.5,143.3 Q301.4,145.2 299.3,144.3 M312.9,147.7 Q313.7,148.4 311.5,149.5 M284.7,137.6 Q286.0,137.6 283.1,139.5 M281.9,151.5 Q280.8,151.2 279.6,152.6 M293.7,150.3 Q292.4,151.1 295.8,151.9 M282.2,138.6 Q280.4,138.4 280.7,140.9 M287.8,138.7 Q287.8,140.5 284.4,139.2 M286.5,153.9 Q287.5,155.6 285.2,155.3 M281.2,138.4 Q280.2,136.4 281.5,136.2 M282.3,146.7 Q282.3,144.8 285.8,146.3 M291.5,150.7 Q290.5,150.8 292.9,148.2 M296.6,146.9 Q298.2,145.5 296.3,150.2 M290.5,152.7 Q290.6,153.5 289.9,156.0 M304.0,137.1 Q304.8,137.8 303.6,139.0 M285.3,153.0 Q285.0,154.9 283.6,154.0 M299.3,146.8 Q300.4,146.5 302.3,145.2 M300.2,153.4 Q299.6,152.8 300.9,150.8 M305.1,145.4 Q306.7,146.5 308.0,145.7 M310.3,153.6 Q309.9,152.0 307.3,152.9 M292.5,139.4 Q292.7,139.9 295.2,138.2 M285.1,144.7 Q284.1,144.3 284.4,142.5 M291.6,148.2 Q290.8,149.0 292.6,149.5 M305.8,147.6 Q304.0,147.6 307.9,146.7 M295.5,136.3 Q294.5,135.6 294.4,134.4 M311.9,132.2 Q310.7,131.9 310.5,133.8 M288.2,153.8 Q286.9,153.6 285.3,153.8 M300.8,152.0 Q302.3,153.3 300.8,154.4 M288.4,144.8 Q289.1,145.4 288.6,142.5 M312.8,145.1 Q313.7,144.4 311.9,143.1 M297.3,140.6 Q296.2,140.7 296.7,142.2 M289.2,133.1 Q291.0,133.5 289.9,131.1 M293.7,152.7 Q292.2,153.3 295.4,151.4 M308.6,146.4 Q309.0,145.5 309.1,144.2 M294.3,141.0 Q295.5,139.7 292.6,142.5 M287.7,138.0 Q285.9,139.4 290.2,137.6 M309.6,151.5 Q308.8,150.0 307.7,153.8 M309.3,151.7 Q307.4,151.0 310.1,154.9 M281.4,136.1 Q280.6,134.8 282.9,138.6 M287.0,139.4 Q285.4,140.1 288.8,137.3 M298.5,142.6 Q299.7,142.6 295.8,142.1 M301.8,143.1 Q301.4,143.1 300.3,141.4 M304.4,138.6 Q305.8,139.4 306.6,137.5 M312.3,148.2 Q312.7,149.2 310.2,149.2 M308.4,135.1 Q306.8,133.3 310.0,135.7 M281.3,137.9 Q281.7,139.8 283.4,139.8 M312.4,149.7 Q311.3,151.4 313.9,149.2 M296.5,136.9 Q296.7,136.2 296.6,134.6 M288.9,134.1 Q290.9,135.1 286.2,131.9 M311.5,140.6 Q311.9,141.3 310.5,143.8 M281.4,137.4 Q282.7,138.4 278.5,137.7 M292.1,141.0 Q292.0,139.8 294.4,138.4 M301.4,144.7 Q301.0,145.2 300.2,146.2 M285.1,144.8 Q284.2,144.5 288.0,143.9 M284.3,149.5 Q284.5,149.9 283.1,148.1 M299.9,141.0 Q301.9,140.3 299.1,143.0 M297.4,142.9 Q296.3,142.2 298.5,144.9 M293.0,140.3 Q292.3,140.9 294.9,139.5 M294.0,144.2 Q294.7,142.6 293.0,142.9 M289.2,151.2 Q287.9,150.9 292.0,151.0 M290.2,151.9 Q290.8,152.5 290.4,153.8 M300.3,143.3 Q302.0,142.9 302.6,142.7 M296.2,140.5 Q295.2,140.6 295.6,137.6 M304.8,143.9 Q305.6,143.3 303.3,141.6 M291.0,132.6 Q290.6,134.5 293.4,130.6 M310.5,135.6 Q309.8,134.6 311.7,133.6 M294.5,133.2 Q293.8,131.9 296.2,133.8 M285.0,151.7 Q285.4,153.4 283.2,153.4 M285.8,137.4 Q287.5,137.5 287.9,134.9 M293.0,136.5 Q293.2,137.6 295.6,134.9 M289.5,144.6 Q290.0,143.4 291.0,143.7 M308.4,151.9 Q306.5,151.9 306.9,150.0 M292.7,141.5 Q292.8,141.7 295.7,143.1 M308.5,153.2 Q309.9,152.7 306.1,152.4 M310.4,132.6 Q310.9,134.5 311.2,130.1 M288.2,141.7 Q288.3,142.8 289.1,138.8 M303.1,152.6 Q302.3,150.9 301.8,150.8 M285.0,133.0 Q285.4,131.5 286.8,132.7 M312.6,144.6 Q314.0,146.5 314.0,147.5 M288.3,141.5 Q288.6,142.3 287.2,139.8 M305.6,151.5 Q306.6,151.3 305.6,149.5 M286.5,132.5 Q284.9,132.5 284.9,131.0 M294.6,139.7 Q294.7,141.7 292.2,138.7 M310.6,139.1 Q312.3,137.3 312.1,137.5 M291.4,154.1 Q290.2,152.6 289.9,151.6 M312.4,133.6 Q313.7,134.3 313.4,135.7 M313.6,150.5 Q312.9,148.7 310.6,151.7 M312.4,152.9 Q311.2,151.8 311.1,150.8 M283.2,134.2 Q284.9,134.3 279.9,134.7 M303.0,143.1 Q305.0,144.5 303.5,140.2 M303.2,146.0 Q303.0,144.6 304.4,148.1 M287.6,141.7 Q286.9,143.7 288.8,144.2 M303.4,144.2 Q302.2,146.1 301.3,145.2 M310.9,147.4 Q311.0,146.1 309.8,146.0 M291.6,145.9 Q292.5,145.9 292.6,147.6 M310.1,135.8 Q310.5,136.5 313.0,137.6 M299.2,135.5 Q300.8,134.1 301.7,135.2 M290.0,145.0 Q289.0,143.3 290.0,148.2 M286.3,138.4 Q287.0,138.1 289.4,137.4 M282.4,151.7 Q282.1,153.2 283.7,153.1 M287.0,133.5 Q287.9,132.0 288.2,132.6 M290.8,136.9 Q292.1,137.1 287.7,138.2 M283.9,136.2 Q285.5,134.3 283.0,139.1 M291.9,154.8 Q291.0,156.3 292.9,156.1 M289.6,149.1 Q288.3,149.5 291.7,151.0 M305.3,152.8 Q304.9,154.6 302.1,154.2 M310.9,155.7 Q311.7,157.2 312.5,156.9 M289.4,150.2 Q287.7,148.2 287.9,150.4" fill="none" stroke="#1e1e1e" stroke-width="0.9"/>
<path d="M289.0,153.2 l-1.0,-2.2 M310.1,141.5 l-0.7,-1.9 M303.2,135.0 l1.0,-0.8 M295.7,147.9 l-0.1,-2.3 M291.6,139.5 l-0.2,-1.1 M308.8,139.8 l-1.2,0.9 M303.9,136.8 l0.7,0.8 M286.0,146.5 l1.0,-0.1 M296.2,140.7 l-0.6,1.4 M285.3,142.2 l-0.1,1.1 M286.1,153.1 l-0.5,-2.5 M307.0,149.0 l0.2,1.2 M312.2,147.9 l-0.2,-1.2 M306.3,144.6 l1.1,0.7 M311.7,146.5 l1.0,0.6 M305.0,140.6 l-1.2,0.2 M287.5,143.8 l-1.2,0.6 M286.6,142.7 l0.8,0.7 M296.5,134.1 l-0.2,-2.2 M303.7,153.6 l0.8,1.4 M294.7,134.6 l0.7,-0.8 M312.2,147.7 l1.1,-0.1 M309.4,153.9 l0.3,-1.9 M301.9,143.5 l1.2,-1.5 M298.8,141.8 l-1.3,-1.4 M310.9,149.8 l-1.0,1.9 M289.2,143.4 l-2.1,-0.4 M284.2,136.2 l0.8,1.8 M287.2,145.1 l1.2,-1.1 M288.9,146.0 l-1.4,0.9 M287.5,147.8 l-1.4,2.1 M297.2,147.8 l2.3,-1.2 M282.7,153.1 l2.0,1.5 M306.2,138.6 l-0.4,-1.9 M295.9,146.6 l-2.0,0.6 M303.3,133.1 l-1.4,-1.6 M308.6,144.6 l-1.2,-0.3 M288.0,152.4 l2.3,0.9 M285.8,141.3 l-0.8,-0.7 M295.7,150.3 l-1.0,0.9 M283.8,153.6 l1.6,1.3 M301.6,139.1 l-2.0,-0.7 M288.4,138.3 l1.2,-0.6 M297.0,142.9 l0.4,-2.3 M305.4,146.6 l-1.1,-0.3" fill="none" stroke="#f4f4f4" stroke-width="0.8" stroke-linecap="round"/>
<circle cx="299.6" cy="142.4" r="1.3" fill="#2cf060"/>
<circle cx="293.5" cy="135.6" r="1.1" fill="#2cf060"/>
<circle cx="307.5" cy="143.8" r="1.3" fill="#2cf060"/>
<circle cx="283.7" cy="137.8" r="1.0" fill="#2cf060"/>
<circle cx="296.9" cy="135.6" r="1.5" fill="#2cf060"/>
<circle cx="292.2" cy="133.0" r="1.0" fill="#2cf060"/>
<circle cx="297.4" cy="146.4" r="1.4" fill="#2cf060"/>
<circle cx="284.7" cy="154.1" r="1.4" fill="#2cf060"/>
<circle cx="297.8" cy="147.0" r="1.0" fill="#2cf060"/>
<circle cx="286.6" cy="133.2" r="1.5" fill="#2cf060"/>
<circle cx="309.3" cy="142.7" r="1.2" fill="#2cf060"/>
<circle cx="296.6" cy="147.9" r="0.9" fill="#2cf060"/>
<circle cx="305.2" cy="136.8" r="1.2" fill="#2cf060"/>
<circle cx="301.1" cy="151.4" r="1.2" fill="#2cf060"/>
<circle cx="287.5" cy="150.7" r="1.1" fill="#2cf060"/>
<circle cx="299.3" cy="150.4" r="1.5" fill="#2cf060"/>
<circle cx="285.2" cy="142.9" r="1.0" fill="#2cf060"/>
<circle cx="308.0" cy="141.6" r="1.4" fill="#2cf060"/>
<circle cx="306.4" cy="142.1" r="1.3" fill="#2cf060"/>
<circle cx="302.9" cy="135.5" r="1.0" fill="#2cf060"/>
<circle cx="286.2" cy="151.1" r="1.1" fill="#2cf060"/>
<circle cx="291.2" cy="148.6" r="1.5" fill="#2cf060"/>
<circle cx="286.3" cy="148.0" r="1.0" fill="#2cf060"/>
<circle cx="306.3" cy="149.2" r="1.3" fill="#2cf060"/>
<circle cx="299.9" cy="135.7" r="1.4" fill="#2cf060"/>
<circle cx="285.4" cy="145.6" r="1.5" fill="#2cf060"/>
<circle cx="290.2" cy="143.4" r="1.3" fill="#2cf060"/>
<circle cx="301.8" cy="140.0" r="1.1" fill="#2cf060"/>
<circle cx="309.5" cy="148.5" r="0.9" fill="#2cf060"/>
<circle cx="302.9" cy="151.5" r="1.2" fill="#2cf060"/>
<circle cx="309.5" cy="138.7" r="1.0" fill="#2cf060"/>
<circle cx="308.6" cy="138.6" r="0.9" fill="#2cf060"/>
<circle cx="286.6" cy="152.1" r="1.4" fill="#2cf060"/>
<circle cx="288.1" cy="149.1" r="0.9" fill="#2cf060"/>
<circle cx="301.1" cy="133.2" r="1.2" fill="#2cf060"/>
<circle cx="305.0" cy="144.0" r="1.2" fill="#2cf060"/>
<circle cx="285.6" cy="142.9" r="1.3" fill="#2cf060"/>
<circle cx="293.5" cy="149.1" r="1.2" fill="#2cf060"/>
<circle cx="306.8" cy="149.0" r="1.0" fill="#2cf060"/>
<circle cx="307.1" cy="150.7" r="1.1" fill="#2cf060"/>
<circle cx="304.1" cy="142.0" r="1.2" fill="#2cf060"/>
<circle cx="292.0" cy="143.0" r="1.0" fill="#2cf060"/>
<circle cx="309.5" cy="146.3" r="1.2" fill="#2cf060"/>
<circle cx="298.0" cy="143.1" r="0.9" fill="#2cf060"/>
<circle cx="301.9" cy="142.7" r="1.0" fill="#2cf060"/>
<circle cx="297.7" cy="135.8" r="1.3" fill="#2cf060"/>
<circle cx="306.0" cy="141.0" r="0.9" fill="#2cf060"/>
<circle cx="311.7" cy="146.4" r="1.0" fill="#2cf060"/>
<circle cx="284.8" cy="145.4" r="1.0" fill="#2cf060"/>
<circle cx="309.6" cy="148.6" r="1.0" fill="#2cf060"/>
<circle cx="294.5" cy="134.9" r="1.0" fill="#2cf060"/>
<circle cx="299.1" cy="152.2" r="1.1" fill="#2cf060"/>
<circle cx="311.6" cy="138.6" r="0.9" fill="#2cf060"/>
<circle cx="307.8" cy="141.2" r="1.0" fill="#2cf060"/>
<circle cx="295.6" cy="146.3" r="1.0" fill="#2cf060"/>
<polygon points="358.2,143.8 358.9,149.3 357.9,152.0 356.5,154.1 352.8,154.3 349.6,155.1 342.8,155.2 335.9,155.1 331.8,155.2 330.4,153.0 328.0,151.8 327.7,148.9 327.2,143.9 327.2,138.6 327.3,135.6 329.5,134.0 332.9,133.7 335.9,132.5 342.7,132.5 350.3,131.5 353.8,132.4 356.4,133.7 358.2,135.6 359.0,138.3" fill="#3a3a3a"/>
<path d="M357.4,150.8 Q357.3,151.8 357.2,154.0 M344.8,142.2 Q344.1,140.7 343.3,144.0 M353.1,150.9 Q353.4,151.9 356.0,150.7 M330.9,148.0 Q329.7,148.1 329.1,148.7 M334.7,142.9 Q333.3,142.9 332.9,141.5 M334.2,137.6 Q332.4,138.2 334.9,139.7 M357.5,141.2 Q355.7,139.8 356.8,137.9 M352.7,151.9 Q352.4,153.3 351.5,150.5 M355.3,151.0 Q354.8,151.9 356.2,154.1 M331.0,155.0 Q329.8,155.5 328.6,153.2 M345.4,146.0 Q344.7,145.2 343.5,148.3 M331.8,148.2 Q330.1,148.8 333.3,149.5 M344.6,144.9 Q343.9,143.2 346.9,145.5 M326.6,155.7 Q325.7,156.0 328.1,157.1 M329.0,143.1 Q327.0,142.5 326.9,145.5 M342.6,155.0 Q343.3,154.2 340.2,154.7 M327.5,143.9 Q326.6,144.6 330.0,142.3 M354.1,138.1 Q353.1,137.3 352.2,137.0 M333.1,140.3 Q331.5,141.3 335.4,140.9 M346.0,132.1 Q345.9,132.3 346.3,130.2 M337.3,138.9 Q338.8,137.3 335.7,139.6 M353.3,137.2 Q351.4,135.7 352.5,139.3 M338.2,142.5 Q336.4,142.6 340.7,140.0 M330.7,151.0 Q330.9,149.5 329.3,154.0 M326.7,137.9 Q326.6,137.4 327.9,136.6 M337.7,151.0 Q338.4,152.7 338.4,153.9 M343.4,153.8 Q343.9,155.2 340.9,154.8 M355.7,134.7 Q356.9,134.9 357.3,136.7 M336.2,154.8 Q334.4,152.9 335.7,156.4 M350.1,134.5 Q352.1,135.8 349.4,131.4 M340.3,146.7 Q339.5,147.8 341.8,144.2 M330.1,139.3 Q329.1,140.4 332.5,139.3 M341.1,132.1 Q340.5,133.8 343.1,132.5 M334.5,152.1 Q336.5,153.2 335.9,150.3 M342.2,138.2 Q342.4,137.0 339.0,139.0 M338.7,143.3 Q336.8,144.6 339.7,145.7 M332.3,134.4 Q333.8,134.4 330.5,133.3 M343.4,151.8 Q344.0,151.5 344.1,154.7 M357.7,132.5 Q359.0,131.1 358.8,131.2 M328.2,143.9 Q328.2,144.3 330.0,143.0 M334.4,144.6 Q335.5,143.9 336.8,144.7 M333.7,133.2 Q335.3,134.2 332.9,131.0 M329.8,153.7 Q331.1,154.4 332.6,152.4 M349.9,147.8 Q348.5,148.7 348.2,146.7 M345.9,133.3 Q345.9,134.4 344.2,131.2 M355.0,141.0 Q355.3,140.7 356.0,138.7 M356.8,142.5 Q357.5,144.2 358.9,141.9 M348.7,140.9 Q348.4,142.2 350.9,142.0 M352.0,155.4 Q352.2,156.4 349.8,156.1 M329.1,137.1 Q328.3,139.0 330.4,138.8 M333.3,154.1 Q335.1,152.5 332.7,156.0 M330.2,135.0 Q329.0,133.7 332.2,136.0 M327.0,148.5 Q327.3,150.1 328.9,149.1 M347.9,148.8 Q349.3,147.4 347.0,145.9 M328.3,146.7 Q329.4,145.4 325.7,146.4 M349.4,142.1 Q348.6,142.4 347.7,143.0 M344.5,153.5 Q342.9,154.1 344.0,156.4 M331.7,152.3 Q333.0,151.2 333.7,151.9 M336.4,134.4 Q337.2,134.7 334.8,135.1 M340.2,148.8 Q339.6,146.8 340.4,151.0 M355.3,134.1 Q356.6,133.9 357.8,135.9 M340.2,135.3 Q339.2,133.9 342.7,135.3 M355.9,132.5 Q356.9,130.9 354.0,134.7 M350.6,145.4 Q351.8,145.8 348.3,142.9 M351.5,143.7 Q352.0,143.2 348.5,142.7 M327.2,150.7 Q326.3,150.9 325.9,152.7 M339.5,151.8 Q340.7,151.5 337.4,150.3 M343.9,149.8 Q345.5,150.0 343.4,146.8 M344.5,136.5 Q344.5,138.1 344.7,138.8 M327.9,140.3 Q329.3,138.9 327.7,137.9 M351.6,142.2 Q351.2,143.4 350.1,141.6 M350.4,145.4 Q351.2,145.2 349.0,146.1 M350.0,146.5 Q348.6,148.3 347.4,148.4 M329.3,155.0 Q331.0,155.0 327.2,153.7 M343.0,133.4 Q342.0,131.9 343.8,130.8 M340.2,154.2 Q338.3,155.5 341.8,152.4 M333.1,149.3 Q331.7,150.5 329.6,149.3 M349.9,132.4 Q350.7,134.3 348.0,131.6 M348.1,143.7 Q348.0,142.2 346.6,142.5 M349.9,133.6 Q350.2,131.8 348.1,133.2 M327.4,146.8 Q328.1,148.8 326.8,143.6 M331.1,146.9 Q329.7,145.9 329.9,145.5 M343.5,150.7 Q341.8,151.5 342.9,148.1 M343.2,136.0 Q342.4,135.8 341.7,134.7 M350.9,134.5 Q351.6,135.8 349.1,135.2 M335.1,149.1 Q334.2,149.2 333.2,149.5 M352.7,146.3 Q353.0,146.0 355.8,146.3 M334.3,142.4 Q332.9,144.0 333.6,140.5 M340.9,133.7 Q340.3,134.1 342.2,132.6 M348.1,153.3 Q349.6,153.2 349.3,155.7 M349.7,143.1 Q349.1,144.0 349.0,139.7 M337.7,153.0 Q339.2,153.4 338.0,149.8 M357.4,135.7 Q357.7,136.4 355.9,134.9 M335.8,151.2 Q334.5,151.6 334.1,152.2 M339.0,133.1 Q338.9,133.8 337.8,136.3 M340.4,133.7 Q338.8,134.2 338.9,132.4 M348.5,132.3 Q347.1,131.6 349.9,131.7 M352.4,149.6 Q354.1,148.1 352.3,147.2 M357.7,133.2 Q358.8,133.9 359.4,135.7 M334.6,152.5 Q333.0,154.5 332.7,152.4 M328.3,137.2 Q329.6,138.6 326.3,139.8 M347.0,132.3 Q348.8,134.2 346.9,130.4 M328.6,149.3 Q330.1,149.1 328.7,151.0 M336.1,145.3 Q336.7,146.7 338.2,146.2 M330.5,153.2 Q329.8,151.9 332.0,154.4 M329.5,147.5 Q329.5,146.0 327.9,148.6 M348.6,154.9 Q348.2,154.3 346.3,155.3 M339.9,136.2 Q339.9,134.5 339.1,139.0 M331.2,151.9 Q331.7,152.4 329.3,154.5 M338.1,145.7 Q339.8,144.2 335.9,147.0" fill="none" stroke="#1e1e1e" stroke-width="0.9"/>
<path d="M334.0,152.6 l2.1,-1.0 M353.7,135.3 l-0.2,-1.2 M353.4,141.6 l-1.8,0.1 M333.8,145.3 l1.1,-1.3 M340.9,141.0 l0.5,1.4 M353.1,153.9 l-1.0,1.0 M337.8,151.7 l-0.1,1.3 M337.1,134.9 l0.8,1.1 M347.4,153.2 l-0.1,1.5 M345.4,133.6 l1.6,1.0 M341.7,140.6 l-0.9,0.5 M335.4,136.8 l0.1,1.1 M352.4,133.4 l-1.1,0.7 M333.7,149.5 l2.5,-0.6 M337.6,144.8 l-1.0,0.5 M340.4,146.3 l-1.8,1.3 M341.1,139.4 l1.5,-1.2 M335.3,152.6 l-1.9,0.2 M341.8,151.6 l-0.2,-1.7 M338.6,149.8 l1.0,-1.7 M354.1,144.5 l-1.3,0.8 M335.7,136.3 l1.7,-0.9 M330.0,137.5 l-2.0,1.1 M353.6,149.5 l-0.4,1.6 M356.4,141.4 l-0.6,-0.9 M342.1,144.0 l2.1,-1.4 M350.4,140.2 l1.7,-1.8 M329.8,142.2 l-1.4,-0.5 M334.8,150.0 l0.5,1.8 M328.1,143.0 l1.0,-0.2 M330.8,152.5 l1.6,-0.9 M336.5,139.5 l-0.2,-1.9 M341.1,148.0 l1.3,0.9 M354.3,152.8 l-2.2,0.2 M354.5,144.3 l0.7,0.9 M348.0,140.4 l-1.1,-0.2 M356.4,139.0 l-1.3,-1.5 M338.4,137.5 l-1.4,-0.6 M329.8,136.8 l2.4,0.6 M333.7,153.0 l-1.9,-1.7 M341.8,138.5 l1.7,1.0 M348.7,147.7 l1.0,-0.6 M347.2,148.3 l1.3,-0.5 M355.9,133.6 l-1.3,-0.8 M343.3,136.8 l-1.2,1.0" fill="none" stroke="#f4f4f4" stroke-width="0.8" stroke-linecap="round"/>
<circle cx="341.6" cy="141.8" r="1.0" fill="#2cf060"/>
<circle cx="332.6" cy="143.1" r="1.5" fill="#2cf060"/>
<circle cx="353.4" cy="136.3" r="1.2" fill="#2cf060"/>
<circle cx="332.0" cy="140.1" r="1.5" fill="#2cf060"/>
<circle cx="337.8" cy="135.2" r="1.2" fill="#2cf060"/>
<circle cx="345.4" cy="144.1" r="1.5" fill="#2cf060"/>
<circle cx="343.1" cy="140.9" r="0.9" fill="#2cf060"/>
<circle cx="345.2" cy="149.1" r="1.2" fill="#2cf060"/>
<circle cx="339.4" cy="138.5" r="1.4" fill="#2cf060"/>
<circle cx="357.7" cy="145.7" r="1.3" fill="#2cf060"/>
<circle cx="337.4" cy="136.4" r="0.8" fill="#2cf060"/>
<circle cx="346.3" cy="152.9" r="1.3" fill="#2cf060"/>
<circle cx="348.0" cy="151.6" r="1.1" fill="#2cf060"/>
<circle cx="340.6" cy="138.7" r="1.4" fill="#2cf060"/>
<circle cx="348.6" cy="144.4" r="1.3" fill="#2cf060"/>
<circle cx="355.3" cy="134.0" r="1.0" fill="#2cf060"/>
<circle cx="341.8" cy="148.5" r="1.0" fill="#2cf060"/>
<circle cx="341.0" cy="147.4" r="1.0" fill="#2cf060"/>
<circle cx="347.9" cy="134.3" r="1.1" fill="#2cf060"/>
<circle cx="347.0" cy="151.7" r="1.2" fill="#2cf060"/>
<circle cx="347.8" cy="147.4" r="1.3" fill="#2cf060"/>
<circle cx="341.3" cy="139.9" r="0.9" fill="#2cf060"/>
<circle cx="354.6" cy="149.8" r="1.3" fill="#2cf060"/>
<circle cx="350.5" cy="139.8" r="0.9" fill="#2cf060"/>
<circle cx="343.7" cy="143.1" r="1.3" fill="#2cf060"/>
<circle cx="354.1" cy="141.5" r="1.1" fill="#2cf060"/>
<circle cx="349.0" cy="152.2" r="1.2" fill="#2cf060"/>
<circle cx="345.6" cy="152.4" r="1.4" fill="#2cf060"/>
<circle cx="328.9" cy="154.1" r="0.9" fill="#2cf060"/>
<circle cx="344.3" cy="143.8" r="1.5" fill="#2cf060"/>
<circle cx="334.6" cy="134.0" r="1.5" fill="#2cf060"/>
<circle cx="341.4" cy="142.9" r="1.1" fill="#2cf060"/>
<circle cx="336.0" cy="133.6" r="1.2" fill="#2cf060"/>
<circle cx="334.1" cy="143.8" r="1.5" fill="#2cf060"/>
<circle cx="357.5" cy="139.7" r="1.0" fill="#2cf060"/>
<rect x="268" y="142.5" width="9" height="2.2" fill="url(#t2a)"/><polygon points="277,141 280,143.6 277,146.2" fill="#2060f0"/>
<rect x="315" y="142.5" width="8" height="2.2" fill="url(#t2a)"/><polygon points="323,141 326,143.6 323,146.2" fill="#2060f0"/>
<rect x="268" y="139" width="9" height="1" fill="#777"/><rect x="315" y="139" width="8" height="1" fill="#777"/>
<text x="294.5" y="163.7" font-family="Liberation Serif, Times New Roman, serif" font-size="5.0" fill="#222" text-anchor="middle" font-weight="bold" >Electrochemical Milling Process</text>
<rect x="230.5" y="159" width="3" height="1.8" fill="#222"/><rect x="230.5" y="162" width="3" height="1.8" fill="#2cdc40"/>
<rect x="235" y="159.3" width="7" height="1" fill="#666"/><rect x="235" y="162.3" width="7" height="1" fill="#666"/>
<defs><linearGradient id="t3g" x1="0" y1="0" x2="0" y2="1"><stop offset="0" stop-color="#c2d8f2"/><stop offset="0.45" stop-color="#f4f8fd"/><stop offset="0.8" stop-color="#fbfcff"/><stop offset="1" stop-color="#d6e5f6"/></linearGradient><radialGradient id="t3k" cx="0.5" cy="0.5" r="0.5"><stop offset="0" stop-color="#111"/><stop offset="0.6" stop-color="#2a2a2a"/><stop offset="1" stop-color="#9a9a9a"/></radialGradient><radialGradient id="t3y" cx="0.4" cy="0.35" r="0.6"><stop offset="0" stop-color="#f4f080"/><stop offset="1" stop-color="#b8a800"/></radialGradient><linearGradient id="t3ar" x1="0" y1="0" x2="1" y2="0"><stop offset="0" stop-color="#c8dcf8"/><stop offset="1" stop-color="#2a6ae8"/></linearGradient></defs>
<rect x="433" y="81" width="118.8" height="86.7" fill="url(#t3g)"/>
<circle cx="447" cy="94" r="12" fill="#ffffff" fill-opacity="0.45" stroke="#8aa0c8" stroke-width="0.6" stroke-dasharray="0.8 1"/>
<circle cx="442" cy="86" r="1.1" fill="#a0306a"/>
<circle cx="452" cy="87" r="1.1" fill="#a0306a"/>
<circle cx="438" cy="92" r="1.1" fill="#a0306a"/>
<circle cx="446" cy="93" r="1.1" fill="#a0306a"/>
<circle cx="454" cy="95" r="1.1" fill="#a0306a"/>
<circle cx="441" cy="100" r="1.1" fill="#a0306a"/>
<circle cx="449" cy="101" r="1.1" fill="#a0306a"/>
<path d="M442,89 l2,-2 l2,2 l2,-2 l2,2" fill="none" stroke="#d05050" stroke-width="0.6"/>
<path d="M436,97 l2,-2 l2,2 l2,-2 l2,2" fill="none" stroke="#d05050" stroke-width="0.6"/>
<path d="M447,97 l2,-2 l2,2 l2,-2 l2,2" fill="none" stroke="#d05050" stroke-width="0.6"/>
<polygon points="441,106 453,106 451,120 443,120" fill="#c4c8d0"/><rect x="443" y="110" width="7" height="2" fill="#3050a0"/><rect x="443" y="115" width="4" height="2" fill="#222"/>
<circle cx="470" cy="85.5" r="1" fill="#a0306a"/><text x="470.0" y="91.0" font-family="Liberation Sans, Arial, sans-serif" font-size="3.6" fill="#222" text-anchor="middle" font-weight="bold" >Bi³⁺</text>
<path d="M465,99 l2,-2 l2,2 l2,-2 l2,2 l2,-2" fill="none" stroke="#d05050" stroke-width="0.7"/><path d="M465,102 l2,-2 l2,2 l2,-2 l2,2 l2,-2" fill="none" stroke="#d05050" stroke-width="0.7"/>
<text x="470.0" y="107.5" font-family="Liberation Serif, Times New Roman, serif" font-size="4.2" fill="#111" text-anchor="middle" font-weight="bold" >NTCDA</text>
<circle cx="497.8" cy="94" r="12.5" fill="#d2d2ce" stroke="#8aa0c8" stroke-width="0.5" stroke-dasharray="0.8 1"/>
<ellipse cx="498.5" cy="94" rx="7.8" ry="7" fill="#ecdfa8"/>
<circle cx="494.3" cy="94.9" r="0.6" fill="#f0e4b0"/>
<circle cx="503.5" cy="94.2" r="1.0" fill="#f8f0c8"/>
<circle cx="495.1" cy="99.3" r="0.9" fill="#f0e4b0"/>
<circle cx="494.2" cy="97.6" r="0.8" fill="#f0e4b0"/>
<circle cx="496.0" cy="95.2" r="0.5" fill="#f8f0c8"/>
<circle cx="491.8" cy="93.8" r="0.9" fill="#f0e4b0"/>
<circle cx="494.0" cy="97.6" r="0.6" fill="#d8c888"/>
<circle cx="499.4" cy="96.9" r="1.0" fill="#f8f0c8"/>
<circle cx="499.4" cy="88.0" r="0.7" fill="#d8c888"/>
<circle cx="499.6" cy="91.4" r="1.0" fill="#d8c888"/>
<circle cx="502.6" cy="95.3" r="0.8" fill="#f8f0c8"/>
<circle cx="499.0" cy="99.4" r="1.0" fill="#f0e4b0"/>
<circle cx="504.6" cy="94.1" r="0.6" fill="#f8f0c8"/>
<circle cx="495.3" cy="99.2" r="0.6" fill="#f8f0c8"/>
<circle cx="493.2" cy="94.0" r="0.8" fill="#f8f0c8"/>
<circle cx="494.6" cy="95.9" r="0.9" fill="#f8f0c8"/>
<circle cx="497.7" cy="91.7" r="1.1" fill="#f0e4b0"/>
<circle cx="500.1" cy="93.6" r="0.8" fill="#f0e4b0"/>
<circle cx="502.1" cy="89.6" r="0.9" fill="#f0e4b0"/>
<circle cx="500.9" cy="94.0" r="0.9" fill="#f8f0c8"/>
<circle cx="501.1" cy="97.8" r="0.9" fill="#f0e4b0"/>
<circle cx="493.3" cy="93.3" r="0.9" fill="#d8c888"/>
<circle cx="503.6" cy="97.8" r="0.7" fill="#f8f0c8"/>
<circle cx="492.8" cy="97.6" r="0.8" fill="#f8f0c8"/>
<circle cx="494.5" cy="97.4" r="0.5" fill="#f8f0c8"/>
<circle cx="499.6" cy="98.1" r="0.7" fill="#f8f0c8"/>
<circle cx="497.2" cy="97.1" r="0.8" fill="#f8f0c8"/>
<circle cx="504.6" cy="94.9" r="1.0" fill="#d8c888"/>
<circle cx="495.0" cy="98.6" r="0.8" fill="#f8f0c8"/>
<circle cx="495.5" cy="95.4" r="1.1" fill="#d8c888"/>
<circle cx="491.7" cy="93.6" r="0.8" fill="#f8f0c8"/>
<circle cx="497.1" cy="91.7" r="1.0" fill="#d8c888"/>
<circle cx="505.2" cy="95.1" r="1.0" fill="#d8c888"/>
<circle cx="505.1" cy="91.9" r="0.9" fill="#f8f0c8"/>
<circle cx="503.0" cy="95.3" r="1.0" fill="#d8c888"/>
<circle cx="493.2" cy="90.0" r="0.7" fill="#f8f0c8"/>
<circle cx="494.8" cy="94.4" r="1.1" fill="#f0e4b0"/>
<circle cx="493.0" cy="92.2" r="0.5" fill="#d8c888"/>
<circle cx="501.8" cy="97.7" r="1.0" fill="#f0e4b0"/>
<circle cx="500.7" cy="92.3" r="0.9" fill="#f0e4b0"/>
<circle cx="537.9" cy="93.5" r="12" fill="url(#t3k)" stroke="#8aa0c8" stroke-width="0.5" stroke-dasharray="0.8 1"/>
<path d="M460,117 Q466,124 476,121 L475,119 Q467,121 462,116 Z" fill="#2a6ae8"/><text x="468.0" y="115.5" font-family="Liberation Serif, Times New Roman, serif" font-size="3.6" fill="#2a6ae8" text-anchor="middle" font-weight="bold" >Drying</text>
<circle cx="497.5" cy="110" r="3.4" fill="url(#t3y)"/>
<circle cx="493" cy="115.5" r="3.4" fill="url(#t3y)"/>
<circle cx="502" cy="115.5" r="3.4" fill="url(#t3y)"/>
<text x="497.5" y="122.8" font-family="Liberation Serif, Times New Roman, serif" font-size="4.5" fill="#222" text-anchor="middle" font-weight="bold" >Precursor</text>
<rect x="508" y="115" width="17" height="2.6" fill="url(#t3ar)"/><polygon points="525,113 530,116.3 525,119.6" fill="#2a6ae8"/><text x="518.0" y="114.0" font-family="Liberation Serif, Times New Roman, serif" font-size="3.4" fill="#2a6ae8" text-anchor="middle" font-weight="bold" >Annealing</text>
<circle cx="538.5" cy="113" r="6" fill="#111"/><circle cx="538.5" cy="112" r="3.2" fill="#888"/>
<text x="538.5" y="122.8" font-family="Liberation Serif, Times New Roman, serif" font-size="4.5" fill="#222" text-anchor="middle" font-weight="bold" >Bi@C</text>
<rect x="441.4" y="125.5" width="11.300000000000011" height="34.80000000000001" fill="#fcd4d8"/>
<rect x="452.7" y="125.5" width="32.80000000000001" height="34.80000000000001" fill="#a8d2f6"/>
<rect x="441.4" y="125.5" width="44.10000000000002" height="34.80000000000001" fill="none" stroke="#444" stroke-width="0.6"/>
<text x="440.6" y="161.1" font-family="Liberation Sans, Arial, sans-serif" font-size="2.3" fill="#333" text-anchor="end" font-weight="normal" >0</text>
<text x="440.6" y="156.1" font-family="Liberation Sans, Arial, sans-serif" font-size="2.3" fill="#333" text-anchor="end" font-weight="normal" >50</text>
<text x="440.6" y="151.2" font-family="Liberation Sans, Arial, sans-serif" font-size="2.3" fill="#333" text-anchor="end" font-weight="normal" >100</text>
<text x="440.6" y="146.2" font-family="Liberation Sans, Arial, sans-serif" font-size="2.3" fill="#333" text-anchor="end" font-weight="normal" >150</text>
<text x="440.6" y="141.2" font-family="Liberation Sans, Arial, sans-serif" font-size="2.3" fill="#333" text-anchor="end" font-weight="normal" >200</text>
<text x="440.6" y="136.2" font-family="Liberation Sans, Arial, sans-serif" font-size="2.3" fill="#333" text-anchor="end" font-weight="normal" >250</text>
<text x="440.6" y="131.3" font-family="Liberation Sans, Arial, sans-serif" font-size="2.3" fill="#333" text-anchor="end" font-weight="normal" >300</text>
<text x="440.6" y="126.3" font-family="Liberation Sans, Arial, sans-serif" font-size="2.3" fill="#333" text-anchor="end" font-weight="normal" >350</text>
<text x="486.3" y="161.1" font-family="Liberation Sans, Arial, sans-serif" font-size="2.3" fill="#333" text-anchor="start" font-weight="normal" >0</text>
<text x="486.3" y="156.1" font-family="Liberation Sans, Arial, sans-serif" font-size="2.3" fill="#333" text-anchor="start" font-weight="normal" ></text>
<text x="486.3" y="151.2" font-family="Liberation Sans, Arial, sans-serif" font-size="2.3" fill="#333" text-anchor="start" font-weight="normal" >40</text>
<text x="486.3" y="146.2" font-family="Liberation Sans, Arial, sans-serif" font-size="2.3" fill="#333" text-anchor="start" font-weight="normal" ></text>
<text x="486.3" y="141.2" font-family="Liberation Sans, Arial, sans-serif" font-size="2.3" fill="#333" text-anchor="start" font-weight="normal" >80</text>
<text x="486.3" y="136.2" font-family="Liberation Sans, Arial, sans-serif" font-size="2.3" fill="#333" text-anchor="start" font-weight="normal" ></text>
<text x="486.3" y="131.3" font-family="Liberation Sans, Arial, sans-serif" font-size="2.3" fill="#333" text-anchor="start" font-weight="normal" >100</text>
<text x="486.3" y="126.3" font-family="Liberation Sans, Arial, sans-serif" font-size="2.3" fill="#333" text-anchor="start" font-weight="normal" ></text>
<text x="441.4" y="163.0" font-family="Liberation Sans, Arial, sans-serif" font-size="2.3" fill="#333" text-anchor="middle" font-weight="normal" >0</text>
<text x="452.4" y="163.0" font-family="Liberation Sans, Arial, sans-serif" font-size="2.3" fill="#333" text-anchor="middle" font-weight="normal" >10</text>
<text x="463.4" y="163.0" font-family="Liberation Sans, Arial, sans-serif" font-size="2.3" fill="#333" text-anchor="middle" font-weight="normal" >20</text>
<text x="474.5" y="163.0" font-family="Liberation Sans, Arial, sans-serif" font-size="2.3" fill="#333" text-anchor="middle" font-weight="normal" >30</text>
<text x="485.5" y="163.0" font-family="Liberation Sans, Arial, sans-serif" font-size="2.3" fill="#333" text-anchor="middle" font-weight="normal" >40</text>
<text x="0" y="0" font-family="Liberation Sans, Arial, sans-serif" font-size="2.3" fill="#333" text-anchor="middle" transform="translate(436.3,142.9) rotate(-90)">Specific capacity (mAh g⁻¹)</text>
<text x="0" y="0" font-family="Liberation Sans, Arial, sans-serif" font-size="2.3" fill="#333" text-anchor="middle" transform="translate(491.5,142.9) rotate(90)">Coulombic efficiency (%)</text>
<text x="463.4" y="166.2" font-family="Liberation Sans, Arial, sans-serif" font-size="2.3" fill="#333" text-anchor="middle" font-weight="normal" >Cycle number</text>
<g fill="#fff"><circle cx="457.7" cy="134" r="1.6"/><rect x="454.7" y="133.6" width="6" height="0.8"/><rect x="457.3" y="131" width="0.8" height="6"/></g>
<polyline points="441.4,129.8 450,130.5 453,131.8 460,129.5 485.5,129.8" fill="none" stroke="#1c3ce8" stroke-width="1.3"/>
<polyline points="441.4,145.6 449,147 453,148.4 462,148.3 465,147.2 485.5,147.4" fill="none" stroke="#f01818" stroke-width="1.4"/>
<text x="446.0" y="158.5" font-family="Liberation Serif, Times New Roman, serif" font-size="4.3" fill="#f01818" text-anchor="start" font-weight="bold" >Bi@C//Na</text>
<text x="480.0" y="158.5" font-family="Liberation Sans, Arial, sans-serif" font-size="3.0" fill="#222" text-anchor="middle" font-weight="bold" >mA g</text>
<rect x="501.4" y="125.5" width="10.600000000000023" height="34.80000000000001" fill="#fcd4d8"/>
<rect x="512.0" y="125.5" width="33.299999999999955" height="34.80000000000001" fill="#a8d2f6"/>
<rect x="501.4" y="125.5" width="43.89999999999998" height="34.80000000000001" fill="none" stroke="#444" stroke-width="0.6"/>
<text x="500.6" y="161.1" font-family="Liberation Sans, Arial, sans-serif" font-size="2.3" fill="#333" text-anchor="end" font-weight="normal" >0</text>
<text x="500.6" y="156.1" font-family="Liberation Sans, Arial, sans-serif" font-size="2.3" fill="#333" text-anchor="end" font-weight="normal" >50</text>
<text x="500.6" y="151.2" font-family="Liberation Sans, Arial, sans-serif" font-size="2.3" fill="#333" text-anchor="end" font-weight="normal" >100</text>
<text x="500.6" y="146.2" font-family="Liberation Sans, Arial, sans-serif" font-size="2.3" fill="#333" text-anchor="end" font-weight="normal" >150</text>
<text x="500.6" y="141.2" font-family="Liberation Sans, Arial, sans-serif" font-size="2.3" fill="#333" text-anchor="end" font-weight="normal" >200</text>
<text x="500.6" y="136.2" font-family="Liberation Sans, Arial, sans-serif" font-size="2.3" fill="#333" text-anchor="end" font-weight="normal" >250</text>
<text x="500.6" y="131.3" font-family="Liberation Sans, Arial, sans-serif" font-size="2.3" fill="#333" text-anchor="end" font-weight="normal" >300</text>
<text x="500.6" y="126.3" font-family="Liberation Sans, Arial, sans-serif" font-size="2.3" fill="#333" text-anchor="end" font-weight="normal" >350</text>
<text x="546.1" y="161.1" font-family="Liberation Sans, Arial, sans-serif" font-size="2.3" fill="#333" text-anchor="start" font-weight="normal" >0</text>
<text x="546.1" y="156.1" font-family="Liberation Sans, Arial, sans-serif" font-size="2.3" fill="#333" text-anchor="start" font-weight="normal" ></text>
<text x="546.1" y="151.2" font-family="Liberation Sans, Arial, sans-serif" font-size="2.3" fill="#333" text-anchor="start" font-weight="normal" >40</text>
<text x="546.1" y="146.2" font-family="Liberation Sans, Arial, sans-serif" font-size="2.3" fill="#333" text-anchor="start" font-weight="normal" ></text>
<text x="546.1" y="141.2" font-family="Liberation Sans, Arial, sans-serif" font-size="2.3" fill="#333" text-anchor="start" font-weight="normal" >80</text>
<text x="546.1" y="136.2" font-family="Liberation Sans, Arial, sans-serif" font-size="2.3" fill="#333" text-anchor="start" font-weight="normal" ></text>
<text x="546.1" y="131.3" font-family="Liberation Sans, Arial, sans-serif" font-size="2.3" fill="#333" text-anchor="start" font-weight="normal" >100</text>
<text x="546.1" y="126.3" font-family="Liberation Sans, Arial, sans-serif" font-size="2.3" fill="#333" text-anchor="start" font-weight="normal" ></text>
<text x="501.4" y="163.0" font-family="Liberation Sans, Arial, sans-serif" font-size="2.3" fill="#333" text-anchor="middle" font-weight="normal" >0</text>
<text x="512.4" y="163.0" font-family="Liberation Sans, Arial, sans-serif" font-size="2.3" fill="#333" text-anchor="middle" font-weight="normal" >10</text>
<text x="523.3" y="163.0" font-family="Liberation Sans, Arial, sans-serif" font-size="2.3" fill="#333" text-anchor="middle" font-weight="normal" >20</text>
<text x="534.3" y="163.0" font-family="Liberation Sans, Arial, sans-serif" font-size="2.3" fill="#333" text-anchor="middle" font-weight="normal" >30</text>
<text x="545.3" y="163.0" font-family="Liberation Sans, Arial, sans-serif" font-size="2.3" fill="#333" text-anchor="middle" font-weight="normal" >40</text>
<text x="0" y="0" font-family="Liberation Sans, Arial, sans-serif" font-size="2.3" fill="#333" text-anchor="middle" transform="translate(496.3,142.9) rotate(-90)">Specific capacity (mAh g⁻¹)</text>
<text x="0" y="0" font-family="Liberation Sans, Arial, sans-serif" font-size="2.3" fill="#333" text-anchor="middle" transform="translate(551.3,142.9) rotate(90)">Coulombic efficiency (%)</text>
<text x="523.3" y="166.2" font-family="Liberation Sans, Arial, sans-serif" font-size="2.3" fill="#333" text-anchor="middle" font-weight="normal" >Cycle number</text>
<g fill="#fff"><circle cx="517.0" cy="134" r="1.6"/><rect x="514.0" y="133.6" width="6" height="0.8"/><rect x="516.6" y="131" width="0.8" height="6"/></g>
<polyline points="501.6,142 502.3,132 505,130.8 512,131 520,129.5 545.3,129.5" fill="none" stroke="#1c3ce8" stroke-width="1.3"/>
<polyline points="501.6,143.3 506,145.5 512,146.5 512.2,150.5 524,150.8 524.3,152 535,152.3 535.3,155.5 545.3,155.6" fill="none" stroke="#22b030" stroke-width="1.4"/>
<rect x="522" y="134.2" width="22.2" height="13.6" fill="#5a2218"/><rect x="524" y="136" width="18" height="10" fill="#3c4a30"/>
<text x="534.0" y="142.0" font-family="Liberation Sans, Arial, sans-serif" font-size="4.6" fill="#f02020" text-anchor="middle" font-weight="bold" >Na</text>
<text x="506.0" y="158.5" font-family="Liberation Serif, Times New Roman, serif" font-size="4.3" fill="#f01818" text-anchor="start" font-weight="bold" >Bi@C//NVP</text>
<rect x="639.8" y="80" width="105.2" height="88.5" fill="#e6e6e6"/>
<rect x="642" y="85" width="101.9" height="32.5" fill="#ececec"/>
<rect x="647.8" y="93" width="7.2" height="15" rx="2.2" fill="#f4f4f4" stroke="#333" stroke-width="0.8"/><rect x="649.2" y="99" width="4.4" height="3" fill="#444"/><rect x="649.6" y="89.5" width="3.6" height="4" fill="#333"/>
<path d="M643,112 q1,-3 4,-4" fill="none" stroke="#4a8ae0" stroke-width="1.4"/>
<polygon points="663,96 667,95 670,97 669,102 663,102" fill="#f0881c"/>
<path d="M657,103 l4,-2" stroke="#4a8ae0" stroke-width="1.4"/><path d="M671,93 l3,-3" stroke="#4a8ae0" stroke-width="1.2"/><path d="M677,100 h7" stroke="#4a8ae0" stroke-width="1"/>
<ellipse cx="688" cy="112" rx="6.5" ry="3" fill="#5a80c8"/><line x1="688" y1="92" x2="688" y2="108" stroke="#334" stroke-width="0.7"/>
<path d="M690,111 L711,92" stroke="#7090c0" stroke-width="0.5"/><path d="M691,113 H706" stroke="#7090c0" stroke-width="0.7"/>
<path d="M707,92 Q712,101 707,111 M715,92 Q710,101 715,111" fill="none" stroke="#4b5878" stroke-width="0.6"/>
<path d="M735,92 Q740,101 735,111 M743,92 Q738,101 743,111" fill="none" stroke="#4b5878" stroke-width="0.6"/>
<rect x="720.5" y="96" width="9.5" height="9.5" fill="#3c5890"/><rect x="720.5" y="104" width="9.5" height="2" fill="#6a3a30"/>
<rect x="645" y="90" width="19" height="0.9" fill="#8a8a8a"/>
<rect x="673" y="89" width="5" height="0.9" fill="#8a8a8a"/>
<rect x="677" y="95" width="5" height="0.9" fill="#8a8a8a"/>
<rect x="665" y="107" width="12" height="0.9" fill="#8a8a8a"/>
<rect x="698" y="88" width="14" height="0.9" fill="#8a8a8a"/>
<rect x="721" y="93" width="10" height="0.9" fill="#8a8a8a"/>
<rect x="650" y="113" width="9" height="0.9" fill="#8a8a8a"/>
<rect x="708" y="116" width="6" height="0.9" fill="#8a8a8a"/>
<rect x="736" y="116" width="5" height="0.9" fill="#8a8a8a"/>
<rect x="651.3" y="126" width="90.70000000000005" height="33.599999999999994" fill="#f3f3f3"/>
<line x1="656.3" y1="126" x2="656.3" y2="159.6" stroke="#b0b0b0" stroke-width="0.35" stroke-dasharray="0.8 0.8"/>
<line x1="661.4" y1="126" x2="661.4" y2="159.6" stroke="#b0b0b0" stroke-width="0.35" stroke-dasharray="0.8 0.8"/>
<line x1="666.4" y1="126" x2="666.4" y2="159.6" stroke="#b0b0b0" stroke-width="0.35" stroke-dasharray="0.8 0.8"/>
<line x1="671.5" y1="126" x2="671.5" y2="159.6" stroke="#b0b0b0" stroke-width="0.35" stroke-dasharray="0.8 0.8"/>
<line x1="676.5" y1="126" x2="676.5" y2="159.6" stroke="#b0b0b0" stroke-width="0.35" stroke-dasharray="0.8 0.8"/>
<line x1="681.5" y1="126" x2="681.5" y2="159.6" stroke="#b0b0b0" stroke-width="0.35" stroke-dasharray="0.8 0.8"/>
<line x1="686.6" y1="126" x2="686.6" y2="159.6" stroke="#b0b0b0" stroke-width="0.35" stroke-dasharray="0.8 0.8"/>
<line x1="691.6" y1="126" x2="691.6" y2="159.6" stroke="#b0b0b0" stroke-width="0.35" stroke-dasharray="0.8 0.8"/>
<line x1="696.6" y1="126" x2="696.6" y2="159.6" stroke="#b0b0b0" stroke-width="0.35" stroke-dasharray="0.8 0.8"/>
<line x1="701.7" y1="126" x2="701.7" y2="159.6" stroke="#b0b0b0" stroke-width="0.35" stroke-dasharray="0.8 0.8"/>
<line x1="706.7" y1="126" x2="706.7" y2="159.6" stroke="#b0b0b0" stroke-width="0.35" stroke-dasharray="0.8 0.8"/>
<line x1="711.8" y1="126" x2="711.8" y2="159.6" stroke="#b0b0b0" stroke-width="0.35" stroke-dasharray="0.8 0.8"/>
<line x1="716.8" y1="126" x2="716.8" y2="159.6" stroke="#b0b0b0" stroke-width="0.35" stroke-dasharray="0.8 0.8"/>
<line x1="721.8" y1="126" x2="721.8" y2="159.6" stroke="#b0b0b0" stroke-width="0.35" stroke-dasharray="0.8 0.8"/>
<line x1="726.9" y1="126" x2="726.9" y2="159.6" stroke="#b0b0b0" stroke-width="0.35" stroke-dasharray="0.8 0.8"/>
<line x1="731.9" y1="126" x2="731.9" y2="159.6" stroke="#b0b0b0" stroke-width="0.35" stroke-dasharray="0.8 0.8"/>
<line x1="737.0" y1="126" x2="737.0" y2="159.6" stroke="#b0b0b0" stroke-width="0.35" stroke-dasharray="0.8 0.8"/>
<path d="M651.3,126 V159.6 H742 V126" fill="none" stroke="#666" stroke-width="0.6"/>
<text x="650.5" y="160.5" font-family="Liberation Sans, Arial, sans-serif" font-size="2.6" fill="#333" text-anchor="end" font-weight="normal" >0</text>
<text x="650.5" y="152.1" font-family="Liberation Sans, Arial, sans-serif" font-size="2.6" fill="#333" text-anchor="end" font-weight="normal" >150</text>
<text x="650.5" y="143.7" font-family="Liberation Sans, Arial, sans-serif" font-size="2.6" fill="#333" text-anchor="end" font-weight="normal" >300</text>
<text x="650.5" y="135.3" font-family="Liberation Sans, Arial, sans-serif" font-size="2.6" fill="#333" text-anchor="end" font-weight="normal" >450</text>
<text x="650.5" y="126.9" font-family="Liberation Sans, Arial, sans-serif" font-size="2.6" fill="#333" text-anchor="end" font-weight="normal" >600</text>
<text x="651.3" y="162.6" font-family="Liberation Sans, Arial, sans-serif" font-size="2.6" fill="#333" text-anchor="middle" font-weight="normal" >0</text>
<text x="656.3" y="162.6" font-family="Liberation Sans, Arial, sans-serif" font-size="2.6" fill="#333" text-anchor="middle" font-weight="normal" >10</text>
<text x="661.4" y="162.6" font-family="Liberation Sans, Arial, sans-serif" font-size="2.6" fill="#333" text-anchor="middle" font-weight="normal" >20</text>
<text x="666.4" y="162.6" font-family="Liberation Sans, Arial, sans-serif" font-size="2.6" fill="#333" text-anchor="middle" font-weight="normal" >30</text>
<text x="671.5" y="162.6" font-family="Liberation Sans, Arial, sans-serif" font-size="2.6" fill="#333" text-anchor="middle" font-weight="normal" >40</text>
<text x="676.5" y="162.6" font-family="Liberation Sans, Arial, sans-serif" font-size="2.6" fill="#333" text-anchor="middle" font-weight="normal" >50</text>
<text x="681.5" y="162.6" font-family="Liberation Sans, Arial, sans-serif" font-size="2.6" fill="#333" text-anchor="middle" font-weight="normal" >60</text>
<text x="686.6" y="162.6" font-family="Liberation Sans, Arial, sans-serif" font-size="2.6" fill="#333" text-anchor="middle" font-weight="normal" >70</text>
<text x="691.6" y="162.6" font-family="Liberation Sans, Arial, sans-serif" font-size="2.6" fill="#333" text-anchor="middle" font-weight="normal" >80</text>
<text x="696.6" y="162.6" font-family="Liberation Sans, Arial, sans-serif" font-size="2.6" fill="#333" text-anchor="middle" font-weight="normal" >90</text>
<text x="701.7" y="162.6" font-family="Liberation Sans, Arial, sans-serif" font-size="2.6" fill="#333" text-anchor="middle" font-weight="normal" >100</text>
<text x="706.7" y="162.6" font-family="Liberation Sans, Arial, sans-serif" font-size="2.6" fill="#333" text-anchor="middle" font-weight="normal" >110</text>
<text x="711.8" y="162.6" font-family="Liberation Sans, Arial, sans-serif" font-size="2.6" fill="#333" text-anchor="middle" font-weight="normal" >120</text>
<text x="716.8" y="162.6" font-family="Liberation Sans, Arial, sans-serif" font-size="2.6" fill="#333" text-anchor="middle" font-weight="normal" >130</text>
<text x="721.8" y="162.6" font-family="Liberation Sans, Arial, sans-serif" font-size="2.6" fill="#333" text-anchor="middle" font-weight="normal" >140</text>
<text x="726.9" y="162.6" font-family="Liberation Sans, Arial, sans-serif" font-size="2.6" fill="#333" text-anchor="middle" font-weight="normal" >150</text>
<text x="731.9" y="162.6" font-family="Liberation Sans, Arial, sans-serif" font-size="2.6" fill="#333" text-anchor="middle" font-weight="normal" >160</text>
<text x="737.0" y="162.6" font-family="Liberation Sans, Arial, sans-serif" font-size="2.6" fill="#333" text-anchor="middle" font-weight="normal" >170</text>
<text x="742.0" y="162.6" font-family="Liberation Sans, Arial, sans-serif" font-size="2.6" fill="#333" text-anchor="middle" font-weight="normal" >180</text>
<text x="0" y="0" font-family="Liberation Sans, Arial, sans-serif" font-size="2.6" fill="#333" text-anchor="middle" transform="translate(645.6,142.8) rotate(-90)">Capacity (mAh g⁻¹)</text>
<text x="696.6" y="166.2" font-family="Liberation Sans, Arial, sans-serif" font-size="2.6" fill="#333" text-anchor="middle" font-weight="normal" >Cycle number</text>
<polyline points="651.5,142.6 655,141.5 660,141 670,141.3 678,142 684,143 687,144 688,146.5 690,145.5 692,144.5 695,146.5 697,147.6 700,146 702,145 704,143.5 706,144 708,142.5 712,141.5 720,140.8 730,140.2 742,139.6" fill="none" stroke="#4aa4e4" stroke-width="1.9"/>
<polyline points="686,145.5 688,147 690,150 694,150.5 698,149.5 700,148 701,146" fill="none" stroke="#4aa4e4" stroke-width="1.7"/>
<rect x="654" y="139" width="14" height="0.8" fill="#8a8a8a"/>
<rect x="669" y="138.7" width="10" height="0.8" fill="#8a8a8a"/>
<rect x="685" y="139.5" width="8" height="0.8" fill="#8a8a8a"/>
<rect x="705" y="138.5" width="10" height="0.8" fill="#8a8a8a"/>
<rect x="720" y="137.5" width="12" height="0.8" fill="#8a8a8a"/>
<rect x="654" y="155.5" width="8" height="0.8" fill="#8a8a8a"/>
<defs><linearGradient id="t5g" x1="0" y1="0" x2="1" y2="0.4"><stop offset="0" stop-color="#fce6f2"/><stop offset="0.45" stop-color="#e8e6f4"/><stop offset="1" stop-color="#b2e2f4"/></linearGradient><linearGradient id="t5a" gradientUnits="userSpaceOnUse" x1="830" y1="147" x2="885" y2="100"><stop offset="0" stop-color="#1a78e0"/><stop offset="0.25" stop-color="#30c8c8"/><stop offset="0.45" stop-color="#a8d830"/><stop offset="0.6" stop-color="#f8d800"/><stop offset="0.8" stop-color="#f88018"/><stop offset="1" stop-color="#f02010"/></linearGradient><linearGradient id="t5b" gradientUnits="userSpaceOnUse" x1="904" y1="104" x2="962" y2="147"><stop offset="0" stop-color="#f02010"/><stop offset="0.2" stop-color="#f87018"/><stop offset="0.42" stop-color="#f8d800"/><stop offset="0.6" stop-color="#a8d030"/><stop offset="0.8" stop-color="#30c0d8"/><stop offset="1" stop-color="#1a78e0"/></linearGradient><linearGradient id="t5c" x1="0" y1="0" x2="0" y2="1"><stop offset="0" stop-color="#f8c4cc"/><stop offset="0.5" stop-color="#e8c8e4"/><stop offset="1" stop-color="#c4e4f8"/></linearGradient><radialGradient id="t5s" cx="0.45" cy="0.45" r="0.6"><stop offset="0" stop-color="#dcdcc4"/><stop offset="1" stop-color="#9a9c80"/></radialGradient></defs>
<rect x="810.2" y="99.1" width="167.6" height="51.2" fill="url(#t5g)"/>
<ellipse cx="834.7" cy="116.1" rx="12" ry="9.6" fill="url(#t5s)"/>
<circle cx="827.9" cy="110.9" r="0.7" fill="#707258"/>
<circle cx="830.1" cy="111.0" r="0.7" fill="#5a5c48"/>
<circle cx="828.5" cy="109.5" r="0.4" fill="#f0f0e0"/>
<circle cx="839.3" cy="112.2" r="0.4" fill="#5a5c48"/>
<circle cx="839.8" cy="116.4" r="0.4" fill="#f0f0e0"/>
<circle cx="840.0" cy="122.6" r="0.4" fill="#707258"/>
<circle cx="830.9" cy="117.2" r="0.8" fill="#5a5c48"/>
<circle cx="836.0" cy="120.0" r="0.8" fill="#5a5c48"/>
<circle cx="832.1" cy="124.3" r="0.6" fill="#707258"/>
<circle cx="831.4" cy="113.5" r="0.8" fill="#5a5c48"/>
<circle cx="844.9" cy="114.4" r="0.4" fill="#f0f0e0"/>
<circle cx="825.5" cy="120.3" r="0.4" fill="#f0f0e0"/>
<circle cx="832.0" cy="122.4" r="0.3" fill="#707258"/>
<circle cx="834.0" cy="114.0" r="0.5" fill="#f0f0e0"/>
<circle cx="828.6" cy="116.7" r="0.5" fill="#707258"/>
<circle cx="837.2" cy="120.0" r="0.8" fill="#707258"/>
<circle cx="830.3" cy="120.4" r="0.6" fill="#f0f0e0"/>
<circle cx="829.1" cy="121.0" r="0.3" fill="#5a5c48"/>
<circle cx="832.4" cy="109.5" r="0.8" fill="#5a5c48"/>
<circle cx="835.1" cy="107.8" r="0.8" fill="#f0f0e0"/>
<circle cx="824.3" cy="115.5" r="0.4" fill="#f0f0e0"/>
<circle cx="842.1" cy="120.8" r="0.7" fill="#f0f0e0"/>
<circle cx="845.1" cy="118.0" r="0.3" fill="#f0f0e0"/>
<circle cx="828.1" cy="115.7" r="0.4" fill="#f0f0e0"/>
<circle cx="841.9" cy="113.2" r="0.5" fill="#f0f0e0"/>
<circle cx="831.3" cy="123.3" r="0.6" fill="#707258"/>
<circle cx="830.6" cy="108.1" r="0.4" fill="#5a5c48"/>
<circle cx="842.1" cy="119.3" r="0.8" fill="#5a5c48"/>
<circle cx="835.4" cy="122.7" r="0.7" fill="#f0f0e0"/>
<circle cx="832.3" cy="113.4" r="0.8" fill="#707258"/>
<circle cx="842.3" cy="117.3" r="0.7" fill="#5a5c48"/>
<circle cx="842.9" cy="115.3" r="0.4" fill="#f0f0e0"/>
<circle cx="840.4" cy="119.6" r="0.4" fill="#f0f0e0"/>
<circle cx="832.6" cy="121.7" r="0.8" fill="#5a5c48"/>
<circle cx="842.0" cy="115.2" r="0.5" fill="#707258"/>
<circle cx="832.3" cy="120.2" r="0.5" fill="#5a5c48"/>
<circle cx="842.3" cy="121.2" r="0.6" fill="#5a5c48"/>
<circle cx="829.3" cy="111.8" r="0.5" fill="#5a5c48"/>
<circle cx="826.8" cy="116.4" r="0.6" fill="#707258"/>
<circle cx="828.4" cy="121.9" r="0.7" fill="#707258"/>
<polygon points="831.7,147.9 880.3,108.8 882.3,111.1 885.5,100.2 874.2,101.5 876.2,103.9 829.3,145.1" fill="url(#t5a)"/>
<polygon points="903.0,105.5 953.4,143.9 951.7,146.1 962.4,146.8 958.6,136.8 956.9,139.0 905.4,102.1" fill="url(#t5b)"/>
<ellipse cx="952.5" cy="114.1" rx="17" ry="9" fill="#d8c0c8"/>
<circle cx="950.0" cy="113.3" r="0.6" fill="#8a7a80"/>
<circle cx="950.1" cy="109.9" r="0.6" fill="#8a7a80"/>
<circle cx="949.2" cy="106.3" r="0.6" fill="#a88890"/>
<circle cx="951.0" cy="113.7" r="0.7" fill="#f4eaee"/>
<circle cx="948.7" cy="117.9" r="0.5" fill="#8a7a80"/>
<circle cx="943.9" cy="108.2" r="0.6" fill="#8a7a80"/>
<circle cx="943.7" cy="120.7" r="0.6" fill="#a88890"/>
<circle cx="961.6" cy="109.1" r="0.9" fill="#f4eaee"/>
<circle cx="940.9" cy="113.4" r="0.5" fill="#f4eaee"/>
<circle cx="962.7" cy="111.9" r="0.7" fill="#8a7a80"/>
<circle cx="947.6" cy="109.4" r="0.7" fill="#8a7a80"/>
<circle cx="937.1" cy="113.3" r="0.6" fill="#8a7a80"/>
<circle cx="954.5" cy="107.6" r="0.8" fill="#a88890"/>
<circle cx="956.6" cy="120.0" r="0.7" fill="#a88890"/>
<circle cx="955.1" cy="120.8" r="0.7" fill="#a88890"/>
<circle cx="968.3" cy="113.4" r="0.5" fill="#a88890"/>
<circle cx="964.6" cy="119.3" r="0.6" fill="#8a7a80"/>
<circle cx="963.1" cy="115.3" r="0.6" fill="#8a7a80"/>
<circle cx="959.0" cy="115.7" r="0.8" fill="#f4eaee"/>
<circle cx="962.7" cy="114.1" r="0.5" fill="#f4eaee"/>
<circle cx="961.4" cy="109.0" r="0.7" fill="#a88890"/>
<circle cx="944.1" cy="112.7" r="0.5" fill="#8a7a80"/>
<circle cx="946.0" cy="119.4" r="0.9" fill="#a88890"/>
<circle cx="939.9" cy="117.7" r="0.7" fill="#f4eaee"/>
<circle cx="946.3" cy="114.8" r="0.6" fill="#f4eaee"/>
<circle cx="967.7" cy="112.0" r="0.7" fill="#f4eaee"/>
<circle cx="958.1" cy="108.1" r="0.6" fill="#f4eaee"/>
<circle cx="941.0" cy="111.5" r="0.5" fill="#8a7a80"/>
<circle cx="961.1" cy="109.8" r="0.6" fill="#a88890"/>
<circle cx="941.4" cy="114.3" r="0.8" fill="#f4eaee"/>
<circle cx="967.3" cy="112.2" r="0.7" fill="#f4eaee"/>
<circle cx="952.0" cy="109.6" r="0.5" fill="#a88890"/>
<circle cx="945.8" cy="121.5" r="0.6" fill="#f4eaee"/>
<circle cx="954.0" cy="115.1" r="0.7" fill="#f4eaee"/>
<circle cx="952.6" cy="115.7" r="0.5" fill="#f4eaee"/>
<circle cx="964.1" cy="114.6" r="0.5" fill="#f4eaee"/>
<circle cx="954.1" cy="110.1" r="0.5" fill="#a88890"/>
<circle cx="951.0" cy="109.8" r="0.6" fill="#f4eaee"/>
<circle cx="937.7" cy="113.2" r="0.8" fill="#a88890"/>
<circle cx="958.2" cy="114.4" r="0.5" fill="#8a7a80"/>
<circle cx="948.0" cy="117.9" r="0.7" fill="#f4eaee"/>
<circle cx="944.8" cy="119.6" r="0.8" fill="#a88890"/>
<circle cx="960.3" cy="115.0" r="0.6" fill="#a88890"/>
<circle cx="961.5" cy="110.2" r="0.4" fill="#f4eaee"/>
<circle cx="941.5" cy="110.3" r="0.9" fill="#8a7a80"/>
<circle cx="937.3" cy="115.0" r="0.6" fill="#f4eaee"/>
<circle cx="946.9" cy="107.8" r="0.8" fill="#f4eaee"/>
<circle cx="954.5" cy="112.3" r="0.8" fill="#8a7a80"/>
<circle cx="954.7" cy="107.9" r="0.7" fill="#f4eaee"/>
<circle cx="957.6" cy="112.5" r="0.6" fill="#8a7a80"/>
<circle cx="964.6" cy="108.9" r="0.7" fill="#f4eaee"/>
<circle cx="940.1" cy="110.3" r="0.4" fill="#a88890"/>
<circle cx="952.0" cy="116.5" r="0.4" fill="#a88890"/>
<circle cx="947.3" cy="118.8" r="0.4" fill="#f4eaee"/>
<circle cx="951.4" cy="112.4" r="0.8" fill="#a88890"/>
<circle cx="941.6" cy="109.2" r="0.5" fill="#a88890"/>
<circle cx="965.9" cy="113.8" r="0.6" fill="#a88890"/>
<circle cx="944.6" cy="110.7" r="0.5" fill="#8a7a80"/>
<circle cx="955.2" cy="120.0" r="0.7" fill="#8a7a80"/>
<circle cx="956.0" cy="115.0" r="0.7" fill="#8a7a80"/>
<rect x="872.4" y="116.8" width="44.6" height="28" fill="url(#t5c)"/><path d="M872.4,116.8 V144.8 H917" fill="none" stroke="#556" stroke-width="0.5"/>
<text x="871.6" y="145.7" font-family="Liberation Sans, Arial, sans-serif" font-size="2.5" fill="#333" text-anchor="end" font-weight="normal" >0</text>
<text x="871.6" y="140.1" font-family="Liberation Sans, Arial, sans-serif" font-size="2.5" fill="#333" text-anchor="end" font-weight="normal" >20</text>
<text x="871.6" y="134.5" font-family="Liberation Sans, Arial, sans-serif" font-size="2.5" fill="#333" text-anchor="end" font-weight="normal" >40</text>
<text x="871.6" y="128.9" font-family="Liberation Sans, Arial, sans-serif" font-size="2.5" fill="#333" text-anchor="end" font-weight="normal" >60</text>
<text x="871.6" y="123.3" font-family="Liberation Sans, Arial, sans-serif" font-size="2.5" fill="#333" text-anchor="end" font-weight="normal" >80</text>
<text x="871.6" y="117.7" font-family="Liberation Sans, Arial, sans-serif" font-size="2.5" fill="#333" text-anchor="end" font-weight="normal" >100</text>
<text x="872.4" y="147.7" font-family="Liberation Sans, Arial, sans-serif" font-size="2.5" fill="#333" text-anchor="middle" font-weight="normal" >0</text>
<text x="887.3" y="147.7" font-family="Liberation Sans, Arial, sans-serif" font-size="2.5" fill="#333" text-anchor="middle" font-weight="normal" >40</text>
<text x="902.1" y="147.7" font-family="Liberation Sans, Arial, sans-serif" font-size="2.5" fill="#333" text-anchor="middle" font-weight="normal" >80</text>
<text x="917.0" y="147.7" font-family="Liberation Sans, Arial, sans-serif" font-size="2.5" fill="#333" text-anchor="middle" font-weight="normal" >120</text>
<text x="0" y="0" font-family="Liberation Sans, Arial, sans-serif" font-size="2.5" fill="#333" text-anchor="middle" transform="translate(866.9,130.8) rotate(-90)">Capacity (%)</text>
<text x="894.7" y="151.2" font-family="Liberation Sans, Arial, sans-serif" font-size="2.5" fill="#333" text-anchor="middle" font-weight="normal" >Time (min)</text>
<path d="M873,141 Q874,124 877,121.5 Q883,120 888,119 L899,118.6 Q900,118.6 900.5,121 Q903,135 907,140" fill="none" stroke="#e040a0" stroke-width="0.8" stroke-dasharray="1.4 0.6"/>
<text x="893.0" y="112.5" font-family="Liberation Sans, Arial, sans-serif" font-size="5.4" fill="#f08020" text-anchor="middle" font-weight="bold" font-style="italic">Cycle-Inverting</text>
<defs><linearGradient id="t6g" x1="0" y1="0" x2="0" y2="1"><stop offset="0" stop-color="#fafcff"/><stop offset="0.3" stop-color="#e4eef9"/><stop offset="1" stop-color="#b4d0ee"/></linearGradient><linearGradient id="t6bat" x1="0" y1="0" x2="0" y2="1"><stop offset="0" stop-color="#98d820"/><stop offset="0.45" stop-color="#b4ec40"/><stop offset="1" stop-color="#6cbc18"/></linearGradient><linearGradient id="t6y" x1="0" y1="0" x2="0" y2="1"><stop offset="0" stop-color="#f8d040"/><stop offset="1" stop-color="#e8a810"/></linearGradient></defs>
<rect x="1012" y="83.6" width="155" height="80.7" fill="url(#t6g)"/>
<rect x="1021.2" y="86.1" width="42.5" height="26.8" fill="#fbfcff" stroke="#555" stroke-width="0.6"/>
<rect x="1024.3" y="91" width="2.4" height="21.9" fill="#f0a0c0"/>
<rect x="1031" y="93.4" width="2.4" height="19.5" fill="#f0a0c0"/>
<rect x="1040.3" y="95.3" width="2.4" height="17.6" fill="#f0a0c0"/>
<rect x="1047.3" y="97.2" width="2.4" height="15.7" fill="#f0a0c0"/>
<rect x="1053.5" y="101.5" width="2.4" height="11.4" fill="#f0a0c0"/>
<rect x="1057.6" y="107.8" width="2.4" height="5.1" fill="#f0a0c0"/>
<polyline points="1025.5,90.2 1032,92.5 1041.5,94.5 1048.5,96.4 1054.5,100.5 1058.8,106" fill="none" stroke="#40b0e0" stroke-width="0.5" stroke-dasharray="1 0.6"/>
<text x="1020.4" y="113.8" font-family="Liberation Sans, Arial, sans-serif" font-size="2.5" fill="#333" text-anchor="end" font-weight="normal" >0</text>
<text x="1020.4" y="108.4" font-family="Liberation Sans, Arial, sans-serif" font-size="2.5" fill="#333" text-anchor="end" font-weight="normal" >0.5</text>
<text x="1020.4" y="103.1" font-family="Liberation Sans, Arial, sans-serif" font-size="2.5" fill="#333" text-anchor="end" font-weight="normal" >1.0</text>
<text x="1020.4" y="97.7" font-family="Liberation Sans, Arial, sans-serif" font-size="2.5" fill="#333" text-anchor="end" font-weight="normal" >1.5</text>
<text x="1020.4" y="92.3" font-family="Liberation Sans, Arial, sans-serif" font-size="2.5" fill="#333" text-anchor="end" font-weight="normal" >2.0</text>
<text x="1020.4" y="87.0" font-family="Liberation Sans, Arial, sans-serif" font-size="2.5" fill="#333" text-anchor="end" font-weight="normal" >2.5</text>
<text x="1021.2" y="115.8" font-family="Liberation Sans, Arial, sans-serif" font-size="2.5" fill="#333" text-anchor="middle" font-weight="normal" ></text>
<text x="1042.5" y="115.8" font-family="Liberation Sans, Arial, sans-serif" font-size="2.5" fill="#333" text-anchor="middle" font-weight="normal" >0.5</text>
<text x="1063.7" y="115.8" font-family="Liberation Sans, Arial, sans-serif" font-size="2.5" fill="#333" text-anchor="middle" font-weight="normal" ></text>
<text x="0" y="0" font-family="Liberation Sans, Arial, sans-serif" font-size="2.5" fill="#333" text-anchor="middle" transform="translate(1015.7,99.5) rotate(-90)">Capacity (mAh g⁻¹)</text>
<text x="1042.5" y="119.2" font-family="Liberation Sans, Arial, sans-serif" font-size="2.5" fill="#333" text-anchor="middle" font-weight="normal" >Current density (mA cm⁻²)</text>
<path d="M1058,104 q2,-5 8,-3 M1058,104 q2,5 8,3" fill="none" stroke="#50b030" stroke-width="0.7" stroke-dasharray="1 0.7"/>
<path d="M1115,104 q-2,-5 -8,-3 M1115,104 q-2,5 -8,3" fill="none" stroke="#50b030" stroke-width="0.7" stroke-dasharray="1 0.7"/>
<rect x="1072.9" y="95.8" width="31.1" height="16.4" rx="3.5" fill="url(#t6bat)"/><rect x="1103.5" y="100" width="3.5" height="8" fill="#888"/>
<polygon points="1090.5,97.5 1085.5,104.6 1088.6,104.4 1086.5,110.5 1092,102.8 1089,103" fill="#9a9a9a"/>
<rect x="1122.4" y="86.1" width="42.3" height="26.8" fill="#fbfcff" stroke="#555" stroke-width="0.6"/>
<polyline points="1123,91.5 1124,93.8 1129.5,94.1 1130,111.5 1136.5,111.5 1137,93.6 1164.5,93.3" fill="none" stroke="#f03030" stroke-width="0.8"/>
<polyline points="1129.8,95 1130.2,110.8 1136.3,110.8 1136.8,94.2 1164.5,94.2" fill="none" stroke="#30b040" stroke-width="0.8"/>
<polyline points="1129.6,94.8 1130.5,100.5 1136,100.6 1136.6,95.2 1164.5,95.5" fill="none" stroke="#a040e0" stroke-width="0.8"/>
<polyline points="1127,94.5 1137,95 1145,96.2 1164.5,96.6" fill="none" stroke="#3050e0" stroke-width="0.8"/>
<text x="1121.6" y="113.8" font-family="Liberation Sans, Arial, sans-serif" font-size="2.5" fill="#333" text-anchor="end" font-weight="normal" >0</text>
<text x="1121.6" y="104.8" font-family="Liberation Sans, Arial, sans-serif" font-size="2.5" fill="#333" text-anchor="end" font-weight="normal" >100</text>
<text x="1121.6" y="95.9" font-family="Liberation Sans, Arial, sans-serif" font-size="2.5" fill="#333" text-anchor="end" font-weight="normal" >200</text>
<text x="1121.6" y="87.0" font-family="Liberation Sans, Arial, sans-serif" font-size="2.5" fill="#333" text-anchor="end" font-weight="normal" >400</text>
<text x="1122.4" y="115.8" font-family="Liberation Sans, Arial, sans-serif" font-size="2.5" fill="#333" text-anchor="middle" font-weight="normal" >0</text>
<text x="1129.5" y="115.8" font-family="Liberation Sans, Arial, sans-serif" font-size="2.5" fill="#333" text-anchor="middle" font-weight="normal" >50</text>
<text x="1136.5" y="115.8" font-family="Liberation Sans, Arial, sans-serif" font-size="2.5" fill="#333" text-anchor="middle" font-weight="normal" >100</text>
<text x="1143.6" y="115.8" font-family="Liberation Sans, Arial, sans-serif" font-size="2.5" fill="#333" text-anchor="middle" font-weight="normal" >150</text>
<text x="1150.6" y="115.8" font-family="Liberation Sans, Arial, sans-serif" font-size="2.5" fill="#333" text-anchor="middle" font-weight="normal" >200</text>
<text x="1157.7" y="115.8" font-family="Liberation Sans, Arial, sans-serif" font-size="2.5" fill="#333" text-anchor="middle" font-weight="normal" >250</text>
<text x="1164.7" y="115.8" font-family="Liberation Sans, Arial, sans-serif" font-size="2.5" fill="#333" text-anchor="middle" font-weight="normal" >300</text>
<text x="0" y="0" font-family="Liberation Sans, Arial, sans-serif" font-size="2.5" fill="#333" text-anchor="middle" transform="translate(1116.9,99.5) rotate(-90)">Capacity (mAh g⁻¹)</text>
<text x="1143.6" y="119.2" font-family="Liberation Sans, Arial, sans-serif" font-size="2.5" fill="#333" text-anchor="middle" font-weight="normal" >Cycle number</text>
<path d="M1072,118 Q1066,124 1068,133" fill="none" stroke="#7aa0e8" stroke-width="1.6"/><path d="M1106,118 Q1113,124 1111,133" fill="none" stroke="#7aa0e8" stroke-width="1.6"/>
<path d="M1016,124 l3,-2 l2,2 v5 h-5 z" fill="#fff" stroke="#9ab" stroke-width="0.5"/>
<text x="1033.5" y="124.6" font-family="Liberation Sans, Arial, sans-serif" font-size="3.6" fill="#111" text-anchor="start" font-weight="bold" >Serious dendrites</text><rect x="1025" y="122.8" width="1.2" height="1" fill="#444"/>
<text x="1033.5" y="128.3" font-family="Liberation Sans, Arial, sans-serif" font-size="3.6" fill="#111" text-anchor="start" font-weight="bold" >High-loading</text><rect x="1025" y="126.50000000000001" width="1.2" height="1" fill="#444"/>
<text x="1033.5" y="131.9" font-family="Liberation Sans, Arial, sans-serif" font-size="3.6" fill="#111" text-anchor="start" font-weight="bold" >UV effect</text><rect x="1025" y="130.1" width="1.2" height="1" fill="#444"/>
<rect x="1030" y="134.8" width="37" height="0.8" fill="#4a70c8"/><rect x="1042" y="134" width="12" height="2.4" fill="#e8eef8" stroke="#4a70c8" stroke-width="0.3"/>
<circle cx="1047.5" cy="139.3" r="1.2" fill="#f0c020"/>
<rect x="1033" y="145" width="30" height="12" fill="#eaf4fc"/>
<path d="M1035,152 l5,-4 l4,3 l6,-4 l5,4 l6,-3" fill="none" stroke="#e8e0b0" stroke-width="1.4"/>
<rect x="1023" y="141.7" width="51.7" height="3" fill="url(#t6y)"/><rect x="1023" y="157" width="51.7" height="3" fill="url(#t6y)"/>
<rect x="1027" y="141" width="4.3" height="20.5" fill="#5a5a5a"/><rect x="1063.7" y="141" width="4.3" height="20.5" fill="#5a5a5a"/>
<rect x="1040" y="161.8" width="12" height="0.9" fill="#555"/>
<ellipse cx="1097" cy="147.2" rx="11.8" ry="6.2" fill="#e8c0a0"/><ellipse cx="1097" cy="145.9" rx="11.8" ry="6.2" fill="#b8a28a"/>
<rect x="1089.5" y="155.3" width="3.5" height="1.8" fill="#b0a088"/><rect x="1089.5" y="160" width="3.5" height="1.8" fill="#f0c8a8"/>
<rect x="1095" y="155.8" width="9" height="0.9" fill="#777"/><rect x="1095" y="160.5" width="6" height="0.9" fill="#777"/>
<ellipse cx="1144" cy="137.7" rx="12" ry="6.5" fill="#a89480"/>
<circle cx="1148.7" cy="141.8" r="0.8" fill="#d8ccc0"/>
<circle cx="1150.1" cy="132.9" r="0.7" fill="#6a5a4a"/>
<circle cx="1147.2" cy="141.6" r="0.9" fill="#3a3028"/>
<circle cx="1138.2" cy="140.9" r="0.4" fill="#3a3028"/>
<circle cx="1152.1" cy="135.4" r="0.7" fill="#6a5a4a"/>
<circle cx="1144.9" cy="134.0" r="0.7" fill="#d8ccc0"/>
<circle cx="1135.1" cy="136.5" r="0.8" fill="#d8ccc0"/>
<circle cx="1153.4" cy="138.4" r="0.5" fill="#3a3028"/>
<circle cx="1136.2" cy="139.0" r="0.6" fill="#d8ccc0"/>
<circle cx="1149.2" cy="141.5" r="0.7" fill="#3a3028"/>
<circle cx="1148.4" cy="138.9" r="0.8" fill="#6a5a4a"/>
<circle cx="1144.3" cy="132.6" r="0.7" fill="#6a5a4a"/>
<circle cx="1151.4" cy="139.6" r="0.7" fill="#d8ccc0"/>
<circle cx="1147.2" cy="143.0" r="0.9" fill="#d8ccc0"/>
<circle cx="1141.2" cy="143.2" r="0.7" fill="#d8ccc0"/>
<circle cx="1150.8" cy="137.6" r="0.4" fill="#3a3028"/>
<circle cx="1149.0" cy="141.8" r="1.0" fill="#3a3028"/>
<circle cx="1135.9" cy="137.9" r="0.8" fill="#3a3028"/>
<circle cx="1138.4" cy="136.3" r="1.0" fill="#3a3028"/>
<circle cx="1145.9" cy="139.9" r="0.6" fill="#d8ccc0"/>
<circle cx="1139.2" cy="141.4" r="0.6" fill="#3a3028"/>
<circle cx="1149.2" cy="142.6" r="0.5" fill="#d8ccc0"/>
<circle cx="1137.6" cy="141.1" r="0.8" fill="#6a5a4a"/>
<circle cx="1150.8" cy="136.7" r="1.0" fill="#6a5a4a"/>
<circle cx="1135.3" cy="134.8" r="0.7" fill="#d8ccc0"/>
<circle cx="1138.7" cy="132.8" r="0.5" fill="#6a5a4a"/>
<circle cx="1152.9" cy="139.9" r="0.9" fill="#d8ccc0"/>
<circle cx="1149.5" cy="138.8" r="0.9" fill="#6a5a4a"/>
<circle cx="1142.2" cy="141.3" r="0.5" fill="#3a3028"/>
<circle cx="1150.1" cy="134.3" r="0.5" fill="#3a3028"/>
<circle cx="1143.8" cy="133.7" r="0.6" fill="#6a5a4a"/>
<circle cx="1134.7" cy="136.9" r="0.4" fill="#3a3028"/>
<circle cx="1149.4" cy="135.6" r="0.5" fill="#d8ccc0"/>
<circle cx="1138.2" cy="135.4" r="0.7" fill="#d8ccc0"/>
<circle cx="1141.1" cy="141.7" r="0.6" fill="#6a5a4a"/>
<circle cx="1153.1" cy="138.0" r="1.0" fill="#3a3028"/>
<circle cx="1143.4" cy="141.0" r="0.5" fill="#6a5a4a"/>
<circle cx="1136.0" cy="140.0" r="0.9" fill="#3a3028"/>
<circle cx="1146.3" cy="139.0" r="0.5" fill="#3a3028"/>
<circle cx="1137.9" cy="133.7" r="0.4" fill="#3a3028"/>
<ellipse cx="1144" cy="156.8" rx="12" ry="6.5" fill="#a89480"/>
<circle cx="1148.0" cy="156.2" r="0.4" fill="#d8ccc0"/>
<circle cx="1145.5" cy="158.6" r="0.8" fill="#d8ccc0"/>
<circle cx="1144.8" cy="155.2" r="0.6" fill="#3a3028"/>
<circle cx="1140.4" cy="160.9" r="1.0" fill="#6a5a4a"/>
<circle cx="1143.2" cy="153.0" r="0.9" fill="#6a5a4a"/>
<circle cx="1150.2" cy="153.8" r="0.6" fill="#3a3028"/>
<circle cx="1145.6" cy="158.6" r="0.7" fill="#6a5a4a"/>
<circle cx="1145.6" cy="151.2" r="0.7" fill="#6a5a4a"/>
<circle cx="1141.1" cy="159.8" r="0.5" fill="#d8ccc0"/>
<circle cx="1140.3" cy="161.5" r="1.0" fill="#6a5a4a"/>
<circle cx="1138.2" cy="156.5" r="0.6" fill="#6a5a4a"/>
<circle cx="1145.0" cy="158.0" r="0.7" fill="#3a3028"/>
<circle cx="1139.2" cy="158.2" r="0.6" fill="#d8ccc0"/>
<circle cx="1135.6" cy="160.2" r="0.5" fill="#6a5a4a"/>
<circle cx="1138.1" cy="160.0" r="0.6" fill="#6a5a4a"/>
<circle cx="1136.6" cy="155.2" r="0.9" fill="#6a5a4a"/>
<circle cx="1141.0" cy="157.6" r="0.7" fill="#3a3028"/>
<circle cx="1137.7" cy="158.3" r="1.0" fill="#3a3028"/>
<circle cx="1137.1" cy="156.5" r="0.5" fill="#3a3028"/>
<circle cx="1147.9" cy="160.6" r="0.6" fill="#d8ccc0"/>
<circle cx="1151.4" cy="154.3" r="0.7" fill="#3a3028"/>
<circle cx="1134.4" cy="155.7" r="0.8" fill="#3a3028"/>
<circle cx="1142.0" cy="155.3" r="0.5" fill="#3a3028"/>
<circle cx="1149.0" cy="151.9" r="0.7" fill="#3a3028"/>
<circle cx="1136.0" cy="156.8" r="0.8" fill="#6a5a4a"/>
<circle cx="1143.7" cy="152.8" r="0.8" fill="#6a5a4a"/>
<circle cx="1141.6" cy="151.3" r="0.5" fill="#6a5a4a"/>
<circle cx="1143.8" cy="158.8" r="0.5" fill="#d8ccc0"/>
<circle cx="1139.7" cy="154.3" r="0.5" fill="#6a5a4a"/>
<circle cx="1136.4" cy="154.0" r="0.5" fill="#3a3028"/>
<circle cx="1150.4" cy="156.1" r="0.5" fill="#3a3028"/>
<circle cx="1136.5" cy="155.9" r="0.4" fill="#3a3028"/>
<circle cx="1143.4" cy="158.6" r="0.7" fill="#3a3028"/>
<circle cx="1140.9" cy="157.9" r="0.9" fill="#6a5a4a"/>
<circle cx="1145.1" cy="155.8" r="0.6" fill="#6a5a4a"/>
<circle cx="1148.9" cy="157.3" r="0.7" fill="#d8ccc0"/>
<circle cx="1152.7" cy="158.3" r="0.7" fill="#d8ccc0"/>
<circle cx="1144.0" cy="159.6" r="0.6" fill="#3a3028"/>
<circle cx="1151.5" cy="155.0" r="0.5" fill="#6a5a4a"/>
<circle cx="1143.2" cy="157.7" r="0.5" fill="#d8ccc0"/>
<path d="M1107,143 Q1115,135 1128,136" fill="none" stroke="#8aaae0" stroke-width="0.9"/><path d="M1107,151 Q1115,158 1128,157" fill="none" stroke="#8aaae0" stroke-width="0.9"/>
<text x="1120.0" y="132.2" font-family="Liberation Sans, Arial, sans-serif" font-size="2.8" fill="#222" text-anchor="middle" font-weight="bold" >Bulk Bi dendrites</text>
<text x="1120.0" y="151.6" font-family="Liberation Sans, Arial, sans-serif" font-size="2.8" fill="#222" text-anchor="middle" font-weight="bold" >Low-loading Bi layer</text>
<text x="1144.0" y="147.3" font-family="Liberation Sans, Arial, sans-serif" font-size="2.6" fill="#222" text-anchor="middle" font-weight="bold" >Bi-free</text>
<text x="1144.0" y="149.9" font-family="Liberation Sans, Arial, sans-serif" font-size="2.6" fill="#222" text-anchor="middle" font-weight="bold" >dendrites</text>
<defs><linearGradient id="b1tl" x1="0" y1="0" x2="0.6" y2="1"><stop offset="0" stop-color="#e8f2c8"/><stop offset="0.35" stop-color="#f4f8f2"/><stop offset="1" stop-color="#dff0ea"/></linearGradient><linearGradient id="b1tr" x1="0" y1="0" x2="0" y2="1"><stop offset="0" stop-color="#eaf3fb"/><stop offset="0.5" stop-color="#d2e5f6"/><stop offset="1" stop-color="#c2dbf2"/></linearGradient><linearGradient id="b1bl" x1="0" y1="0" x2="0" y2="1"><stop offset="0" stop-color="#dcebf9"/><stop offset="1" stop-color="#f6f9fd"/></linearGradient><linearGradient id="b1br" x1="0" y1="0" x2="0" y2="1"><stop offset="0" stop-color="#f6f4e8"/><stop offset="1" stop-color="#fdf6e4"/></linearGradient><linearGradient id="b1rd" x1="0" y1="0" x2="0" y2="1"><stop offset="0" stop-color="#cfcfcf"/><stop offset="0.6" stop-color="#b8b8b8"/><stop offset="1" stop-color="#a4a4a4"/></linearGradient></defs>
<rect x="36" y="272.8" width="60" height="43.7" fill="url(#b1tl)"/>
<rect x="96" y="272.8" width="59" height="43.7" fill="url(#b1tr)"/>
<rect x="36" y="316.5" width="60" height="41.5" fill="url(#b1bl)"/>
<rect x="96" y="316.5" width="59" height="41.5" fill="url(#b1br)"/>
<path d="M72,292.2 C85,292 100,292.5 106,295.5 C111,298.5 109,302 104,304.5 L94,310 C89,313 84,316 83,318.6 C85,320.5 92,320.4 100,320.2 C120,319.5 140,318.6 155,318.6 L155,336.6 C135,336.6 110,335.5 86,332.5 C74,330 66,325 67,320 C68,316 72,312.5 76,310 L90,301 C95,298 97,296.5 93,295.2 C87,293.8 78,293.4 72,293.4 Z" fill="url(#b1rd)"/>
<path d="M90,284.5 Q98,283.5 104,286" fill="none" stroke="#d8dde4" stroke-width="1.2"/>
<path d="M84,324 Q83,318.5 86,317.5 L94,316 Q99,311.8 106,311.6 Q112,311.6 116,315.5 L121,317 Q123.5,318.5 123.2,322.5 L122.5,325.5 L86,326 Z" fill="#36c048"/>
<path d="M97,316 Q101,313 106,313 Q110.5,313 113,315.8 Z" fill="#e4f4fa"/>
<rect x="115" y="318.3" width="5" height="1.2" fill="#e02828"/>
<circle cx="87.2" cy="324.2" r="2.6" fill="#333"/><circle cx="87.2" cy="324.2" r="1.3" fill="#bbb"/>
<circle cx="109" cy="324.2" r="2.9" fill="#333"/><circle cx="109" cy="324.2" r="1.4" fill="#bbb"/>
<text x="98.7" y="322.0" font-family="Liberation Sans, Arial, sans-serif" font-size="5.6" fill="#e02828" text-anchor="middle" font-weight="bold" font-style="italic">SIB</text>
<circle cx="142" cy="283.8" r="5.2" fill="#f8b818"/><circle cx="142" cy="283.8" r="3.6" fill="#fbd840"/>
<line x1="147.4" y1="283.8" x2="149.2" y2="283.8" stroke="#f8b818" stroke-width="1"/>
<line x1="146.4" y1="287.0" x2="147.8" y2="288.0" stroke="#f8b818" stroke-width="1"/>
<line x1="143.7" y1="288.9" x2="144.2" y2="290.6" stroke="#f8b818" stroke-width="1"/>
<line x1="140.3" y1="288.9" x2="139.8" y2="290.6" stroke="#f8b818" stroke-width="1"/>
<line x1="137.6" y1="287.0" x2="136.2" y2="288.0" stroke="#f8b818" stroke-width="1"/>
<line x1="136.6" y1="283.8" x2="134.8" y2="283.8" stroke="#f8b818" stroke-width="1"/>
<line x1="137.6" y1="280.6" x2="136.2" y2="279.6" stroke="#f8b818" stroke-width="1"/>
<line x1="140.3" y1="278.7" x2="139.8" y2="277.0" stroke="#f8b818" stroke-width="1"/>
<line x1="143.7" y1="278.7" x2="144.2" y2="276.9" stroke="#f8b818" stroke-width="1"/>
<line x1="146.4" y1="280.6" x2="147.8" y2="279.6" stroke="#f8b818" stroke-width="1"/>
<path d="M48.3,314 L47.8,306 M48,309 L44.5,306 M48.2,308 L52,305" stroke="#a0522d" stroke-width="1.3" fill="none"/><ellipse cx="48.3" cy="313.8" rx="4" ry="0.9" fill="#60b040"/>
<ellipse cx="48.3" cy="304" rx="8.2" ry="5" fill="#f4d4dc"/>
<circle cx="44.6" cy="304.4" r="0.9" fill="#70b050"/>
<circle cx="54.1" cy="303.8" r="0.9" fill="#f8e8ec"/>
<circle cx="42.2" cy="300.1" r="0.9" fill="#70b050"/>
<circle cx="44.9" cy="301.9" r="0.9" fill="#f8e8ec"/>
<circle cx="47.9" cy="306.7" r="0.9" fill="#70b050"/>
<circle cx="46.9" cy="306.9" r="0.9" fill="#e890a8"/>
<circle cx="50.2" cy="306.9" r="0.9" fill="#f8e8ec"/>
<circle cx="46.8" cy="300.1" r="0.9" fill="#e890a8"/>
<circle cx="43.5" cy="307.7" r="0.9" fill="#e890a8"/>
<circle cx="45.5" cy="300.2" r="0.9" fill="#70b050"/>
<circle cx="47.9" cy="305.8" r="0.9" fill="#70b050"/>
<circle cx="51.3" cy="307.4" r="0.9" fill="#70b050"/>
<circle cx="51.5" cy="304.6" r="0.9" fill="#e890a8"/>
<circle cx="53.6" cy="300.8" r="0.9" fill="#e890a8"/>
<circle cx="48.2" cy="302.1" r="0.9" fill="#f8e8ec"/>
<circle cx="47.4" cy="305.0" r="0.9" fill="#70b050"/>
<circle cx="47.2" cy="306.7" r="0.9" fill="#f8e8ec"/>
<circle cx="46.2" cy="304.7" r="0.9" fill="#f8e8ec"/>
<circle cx="44.6" cy="302.7" r="0.9" fill="#e890a8"/>
<circle cx="53.3" cy="307.9" r="0.9" fill="#f8e8ec"/>
<circle cx="51.0" cy="305.6" r="0.9" fill="#70b050"/>
<circle cx="54.8" cy="307.2" r="0.9" fill="#f8e8ec"/>
<path d="M143,314 L142.5,306 M142.8,309 L139,306 M143,308 L147,305" stroke="#9a5a28" stroke-width="1.3" fill="none"/>
<ellipse cx="143" cy="304.5" rx="8" ry="5.5" fill="#d8c078"/>
<circle cx="137.5" cy="305.9" r="0.9" fill="#f0d8a0"/>
<circle cx="147.6" cy="305.2" r="0.9" fill="#e0a040"/>
<circle cx="137.7" cy="304.3" r="0.9" fill="#f0d8a0"/>
<circle cx="149.9" cy="300.8" r="0.9" fill="#a8a040"/>
<circle cx="141.7" cy="301.4" r="0.9" fill="#e0a040"/>
<circle cx="142.0" cy="303.7" r="0.9" fill="#a8a040"/>
<circle cx="136.6" cy="305.5" r="0.9" fill="#a8a040"/>
<circle cx="141.3" cy="305.3" r="0.9" fill="#f0d8a0"/>
<circle cx="148.3" cy="308.8" r="0.9" fill="#f0d8a0"/>
<circle cx="139.3" cy="300.3" r="0.9" fill="#a8a040"/>
<circle cx="137.1" cy="305.4" r="0.9" fill="#a8a040"/>
<circle cx="149.3" cy="308.7" r="0.9" fill="#e0a040"/>
<circle cx="144.5" cy="301.4" r="0.9" fill="#a8a040"/>
<circle cx="149.7" cy="303.1" r="0.9" fill="#e0a040"/>
<circle cx="149.4" cy="308.1" r="0.9" fill="#e0a040"/>
<circle cx="141.3" cy="307.8" r="0.9" fill="#e0a040"/>
<circle cx="145.0" cy="305.4" r="0.9" fill="#f0d8a0"/>
<circle cx="137.4" cy="308.8" r="0.9" fill="#f0d8a0"/>
<circle cx="139.8" cy="305.7" r="0.9" fill="#f0d8a0"/>
<circle cx="139.3" cy="302.7" r="0.9" fill="#e0a040"/>
<circle cx="143.3" cy="304.9" r="0.9" fill="#a8a040"/>
<circle cx="147.0" cy="308.9" r="0.9" fill="#e0a040"/>
<path d="M142.5,355 L142.3,347 M142.5,350 L139,347 M142.6,349 L146,346" stroke="#9a5a28" stroke-width="1.2" fill="none"/>
<ellipse cx="142.5" cy="345" rx="7.5" ry="5.5" fill="#f6d0a0"/>
<circle cx="136.3" cy="346.0" r="0.9" fill="#f8e0b0"/>
<circle cx="137.7" cy="346.2" r="0.9" fill="#e06020"/>
<circle cx="142.1" cy="346.6" r="0.9" fill="#e06020"/>
<circle cx="143.9" cy="343.0" r="0.9" fill="#e06020"/>
<circle cx="136.3" cy="341.0" r="0.9" fill="#f8e0b0"/>
<circle cx="136.3" cy="343.8" r="0.9" fill="#f8e0b0"/>
<circle cx="141.9" cy="345.8" r="0.9" fill="#e06020"/>
<circle cx="138.3" cy="342.2" r="0.9" fill="#e06020"/>
<circle cx="147.0" cy="342.9" r="0.9" fill="#e06020"/>
<circle cx="137.4" cy="347.8" r="0.9" fill="#f8e0b0"/>
<circle cx="144.9" cy="341.7" r="0.9" fill="#f8e0b0"/>
<circle cx="138.9" cy="347.7" r="0.9" fill="#f09030"/>
<circle cx="140.3" cy="346.6" r="0.9" fill="#f8e0b0"/>
<circle cx="145.1" cy="341.4" r="0.9" fill="#e06020"/>
<circle cx="148.3" cy="346.6" r="0.9" fill="#f09030"/>
<circle cx="141.7" cy="348.2" r="0.9" fill="#f09030"/>
<circle cx="137.0" cy="347.2" r="0.9" fill="#f09030"/>
<circle cx="147.5" cy="344.6" r="0.9" fill="#f09030"/>
<circle cx="146.2" cy="340.8" r="0.9" fill="#f09030"/>
<circle cx="140.1" cy="348.0" r="0.9" fill="#f8e0b0"/>
<circle cx="138.4" cy="343.0" r="0.9" fill="#f8e0b0"/>
<circle cx="137.1" cy="346.1" r="0.9" fill="#f8e0b0"/>
<path d="M48,355 V346 M48,349 l-3.5,-3.5 M48,348 l3.5,-4 M46,346.5 l-1.5,-2.5 M50,345.5 l2,-1.5" stroke="#8a4a28" stroke-width="1" fill="none"/>
<ellipse cx="48" cy="355.5" rx="4.5" ry="1.2" fill="#b8d8f0"/>
<ellipse cx="118" cy="353" rx="16" ry="4" fill="#fad8b8" opacity="0.9"/><ellipse cx="110" cy="354.5" rx="6" ry="2" fill="#f4a878"/><ellipse cx="126" cy="352.5" rx="4" ry="2" fill="#f08a50"/><ellipse cx="119" cy="356" rx="5" ry="1.5" fill="#f8b890"/>
<path d="M76,350.5 Q86,356 98,352.5" fill="none" stroke="#a8d8d0" stroke-width="1.8"/>
<path d="M38.5,322 h3 M40,320.5 v3" stroke="#a8cef0" stroke-width="1"/>
<path d="M45.5,329 h3 M47,327.5 v3" stroke="#a8cef0" stroke-width="1"/>
<path d="M53.5,333 h3 M55,331.5 v3" stroke="#a8cef0" stroke-width="1"/>
<path d="M43.5,338 h3 M45,336.5 v3" stroke="#a8cef0" stroke-width="1"/>
<path d="M58.5,339 h3 M60,337.5 v3" stroke="#a8cef0" stroke-width="1"/>
<path d="M50.5,345 h3 M52,343.5 v3" stroke="#a8cef0" stroke-width="1"/>
<path d="M62.5,328 h3 M64,326.5 v3" stroke="#a8cef0" stroke-width="1"/>
<path d="M70.5,309.5 l2.4,-1.4 l0.8,2.4 z M61,312.5 l2.4,-1.2 l0.6,2.4 z" fill="#40b040"/>
<text x="46.5" y="277.5" font-family="Liberation Sans, Arial, sans-serif" font-size="5.0" fill="#222" text-anchor="middle" font-weight="bold" >25 °C</text>
<text x="147.0" y="282.5" font-family="Liberation Sans, Arial, sans-serif" font-size="5.0" fill="#222" text-anchor="middle" font-weight="bold" >45 °C</text>
<text x="44.0" y="320.5" font-family="Liberation Sans, Arial, sans-serif" font-size="5.0" fill="#222" text-anchor="middle" font-weight="bold" >-15 °C</text>
<text x="148.0" y="320.7" font-family="Liberation Sans, Arial, sans-serif" font-size="5.0" fill="#222" text-anchor="middle" font-weight="bold" >15 °C</text>
<defs><linearGradient id="b2g" x1="0" y1="0" x2="0" y2="1"><stop offset="0" stop-color="#e63814"/><stop offset="0.17" stop-color="#ec5a3c"/><stop offset="0.36" stop-color="#f2a49c"/><stop offset="0.5" stop-color="#e8c8c4"/><stop offset="0.68" stop-color="#c4dcf0"/><stop offset="1" stop-color="#a6ccf0"/></linearGradient><linearGradient id="b2c" x1="0" y1="0" x2="1" y2="0"><stop offset="0" stop-color="#a07898"/><stop offset="0.5" stop-color="#e8c0dc"/><stop offset="1" stop-color="#f4d8ec"/></linearGradient><linearGradient id="b2a" x1="0" y1="0" x2="1" y2="0"><stop offset="0" stop-color="#1a7880"/><stop offset="0.7" stop-color="#30a8b0"/><stop offset="1" stop-color="#d8f0f4"/></linearGradient><linearGradient id="b2d" x1="0" y1="0" x2="0" y2="1"><stop offset="0" stop-color="#f0f0f0"/><stop offset="1" stop-color="#a8a8a8"/></linearGradient></defs>
<rect x="218.1" y="272.5" width="151.2" height="80.4" rx="10" fill="url(#b2g)"/>
<path d="M226,287.5 V282.3 H280 M313.5,282.3 H360.5 V287.5" fill="none" stroke="#111" stroke-width="0.9"/>
<rect x="279.5" y="276.2" width="34" height="8.6" fill="url(#b2d)"/><rect x="282" y="281" width="29" height="1" fill="#888"/>
<polygon points="221.2,289.5 231.4,287.4 231.4,345.5 221.2,347.8" fill="url(#b2c)"/>
<text x="0" y="0" font-family="Liberation Sans, Arial, sans-serif" font-size="6.2" font-weight="bold" fill="#3068c0" text-anchor="middle" transform="translate(228.4,317.5) rotate(-90)">Cathode</text>
<polygon points="355.6,288.5 365.2,287.4 365.2,348.8 355.6,346.5" fill="url(#b2a)"/>
<text x="0" y="0" font-family="Liberation Sans, Arial, sans-serif" font-size="6.2" font-weight="bold" fill="#e8f4f8" text-anchor="middle" transform="translate(357.8,317.5) rotate(90)">Anode</text>
<text x="253.5" y="293.0" font-family="Liberation Serif, Times New Roman, serif" font-size="5.6" fill="#8a40d0" text-anchor="middle" font-weight="bold" >NFPP@C</text>
<polygon points="242.4,303.3 234.9,307.6 234.9,299.0" fill="#8a48d8" stroke="#5a2aa0" stroke-width="0.3"/>
<polygon points="272.4,324.2 264.4,322.5 266.2,314.5 274.2,316.2" fill="#8a48d8" stroke="#5a2aa0" stroke-width="0.3"/>
<polygon points="268.7,304.0 266.6,298.5 272.1,296.5 274.2,302.0" fill="#9050d8" stroke="#5a2aa0" stroke-width="0.3"/>
<polygon points="249.5,307.6 256.9,301.7 258.3,311.1" fill="#7a38c8" stroke="#5a2aa0" stroke-width="0.3"/>
<polygon points="260.0,329.1 266.9,329.6 266.4,336.4 259.5,335.9" fill="#6a30b8" stroke="#5a2aa0" stroke-width="0.3"/>
<polygon points="251.6,317.3 254.8,323.0 249.0,326.1 245.9,320.4" fill="#9050d8" stroke="#5a2aa0" stroke-width="0.3"/>
<polygon points="263.0,318.0 258.7,325.9 250.8,321.6 255.1,313.7" fill="#6a30b8" stroke="#5a2aa0" stroke-width="0.3"/>
<polygon points="246.1,308.5 239.2,310.1 235.6,304.1 240.2,298.8 246.7,301.5" fill="#7a38c8" stroke="#5a2aa0" stroke-width="0.3"/>
<polygon points="239.2,324.2 234.9,318.4 240.7,314.1 245.0,319.9" fill="#8a48d8" stroke="#5a2aa0" stroke-width="0.3"/>
<polygon points="260.0,328.6 262.2,322.6 268.2,324.9 265.9,330.8" fill="#9050d8" stroke="#5a2aa0" stroke-width="0.3"/>
<polygon points="234.4,309.1 239.7,307.1 243.2,311.5 240.1,316.3 234.7,314.8" fill="#9050d8" stroke="#5a2aa0" stroke-width="0.3"/>
<polygon points="259.0,324.4 264.5,334.0 253.4,334.0" fill="#6a30b8" stroke="#5a2aa0" stroke-width="0.3"/>
<polygon points="272.8,316.9 270.9,325.6 262.1,323.7 264.1,314.9" fill="#7a38c8" stroke="#5a2aa0" stroke-width="0.3"/>
<polygon points="248.3,302.6 240.4,305.5 237.5,297.6 245.4,294.7" fill="#7a38c8" stroke="#5a2aa0" stroke-width="0.3"/>
<polygon points="260.4,314.5 255.0,310.5 259.1,305.1 264.5,309.2" fill="#7a38c8" stroke="#5a2aa0" stroke-width="0.3"/>
<polygon points="248.6,332.7 251.5,324.4 257.3,331.1" fill="#7a38c8" stroke="#5a2aa0" stroke-width="0.3"/>
<polygon points="240.7,330.6 247.7,326.8 251.5,333.8 244.5,337.5" fill="#8a48d8" stroke="#5a2aa0" stroke-width="0.3"/>
<polygon points="246.7,320.2 253.5,322.7 253.2,329.9 246.3,331.9 242.3,325.9" fill="#7a38c8" stroke="#5a2aa0" stroke-width="0.3"/>
<polygon points="257.0,325.4 257.5,332.1 250.8,332.5 250.4,325.9" fill="#9050d8" stroke="#5a2aa0" stroke-width="0.3"/>
<polygon points="262.9,301.1 258.0,304.7 254.4,299.8 259.3,296.2" fill="#9050d8" stroke="#5a2aa0" stroke-width="0.3"/>
<polygon points="272.0,332.4 266.6,331.3 266.1,325.9 271.0,323.6 274.7,327.7" fill="#6a30b8" stroke="#5a2aa0" stroke-width="0.3"/>
<polygon points="242.1,307.2 239.8,301.2 244.8,297.2 250.2,300.7 248.5,306.9" fill="#8a48d8" stroke="#5a2aa0" stroke-width="0.3"/>
<polygon points="265.3,304.0 273.5,299.4 273.4,308.7" fill="#8a48d8" stroke="#5a2aa0" stroke-width="0.3"/>
<polygon points="260.5,329.8 269.0,331.7 267.1,340.2 258.6,338.3" fill="#9050d8" stroke="#5a2aa0" stroke-width="0.3"/>
<polygon points="258.4,313.3 261.7,319.2 257.1,324.2 250.9,321.3 251.8,314.6" fill="#8a48d8" stroke="#5a2aa0" stroke-width="0.3"/>
<polygon points="259.9,325.6 257.0,330.9 251.1,329.8 250.3,323.8 255.7,321.2" fill="#6a30b8" stroke="#5a2aa0" stroke-width="0.3"/>
<polygon points="242.5,301.9 245.3,306.9 239.7,306.9" fill="#1838c8"/>
<polygon points="264.6,325.5 267.4,330.5 261.8,330.5" fill="#1838c8"/>
<polygon points="270.1,323.4 272.9,328.4 267.3,328.4" fill="#1838c8"/>
<polygon points="257.7,303.5 260.5,308.5 254.9,308.5" fill="#1838c8"/>
<polygon points="267.0,301.7 269.8,306.7 264.2,306.7" fill="#1838c8"/>
<polygon points="252.4,302.5 255.2,307.5 249.6,307.5" fill="#1838c8"/>
<polygon points="250.9,308.9 253.7,313.9 248.1,313.9" fill="#1838c8"/>
<polygon points="252.5,324.2 255.3,329.2 249.7,329.2" fill="#1838c8"/>
<polygon points="256.4,306.4 259.2,311.4 253.6,311.4" fill="#1838c8"/>
<polygon points="264.5,325.1 267.3,330.1 261.7,330.1" fill="#1838c8"/>
<polygon points="266.1,298.5 268.9,303.5 263.3,303.5" fill="#1838c8"/>
<polygon points="258.9,331.2 261.7,336.2 256.1,336.2" fill="#1838c8"/>
<circle cx="246.3" cy="306.3" r="1.5" fill="#f4e48a" stroke="#c8a830" stroke-width="0.3"/>
<circle cx="266.3" cy="312.9" r="1.5" fill="#f4e48a" stroke="#c8a830" stroke-width="0.3"/>
<circle cx="251.4" cy="331.5" r="1.5" fill="#f4e48a" stroke="#c8a830" stroke-width="0.3"/>
<circle cx="250.8" cy="306.1" r="1.5" fill="#f4e48a" stroke="#c8a830" stroke-width="0.3"/>
<circle cx="244.7" cy="312.2" r="1.5" fill="#f4e48a" stroke="#c8a830" stroke-width="0.3"/>
<circle cx="262.1" cy="313.1" r="1.5" fill="#f4e48a" stroke="#c8a830" stroke-width="0.3"/>
<circle cx="264.8" cy="300.7" r="1.5" fill="#f4e48a" stroke="#c8a830" stroke-width="0.3"/>
<circle cx="246.0" cy="323.6" r="1.5" fill="#f4e48a" stroke="#c8a830" stroke-width="0.3"/>
<circle cx="254.3" cy="318.5" r="1.5" fill="#f4e48a" stroke="#c8a830" stroke-width="0.3"/>
<circle cx="270.7" cy="309.4" r="1.5" fill="#f4e48a" stroke="#c8a830" stroke-width="0.3"/>
<circle cx="243.5" cy="299.4" r="1.5" fill="#f4e48a" stroke="#c8a830" stroke-width="0.3"/>
<circle cx="254.4" cy="310.2" r="1.5" fill="#f4e48a" stroke="#c8a830" stroke-width="0.3"/>
<circle cx="254.1" cy="298.2" r="1.5" fill="#f4e48a" stroke="#c8a830" stroke-width="0.3"/>
<circle cx="237.0" cy="313.6" r="1.5" fill="#f4e48a" stroke="#c8a830" stroke-width="0.3"/>
<circle cx="264.3" cy="310.3" r="1.5" fill="#f4e48a" stroke="#c8a830" stroke-width="0.3"/>
<circle cx="269.9" cy="321.8" r="1.5" fill="#f4e48a" stroke="#c8a830" stroke-width="0.3"/>
<circle cx="251.5" cy="329.9" r="1.5" fill="#f4e48a" stroke="#c8a830" stroke-width="0.3"/>
<circle cx="245.4" cy="322.8" r="1.5" fill="#f4e48a" stroke="#c8a830" stroke-width="0.3"/>
<circle cx="267.5" cy="320.2" r="1.5" fill="#f4e48a" stroke="#c8a830" stroke-width="0.3"/>
<circle cx="248.5" cy="301.9" r="1.5" fill="#f4e48a" stroke="#c8a830" stroke-width="0.3"/>
<circle cx="257.7" cy="305.7" r="0.6" fill="#e02020"/>
<circle cx="250.4" cy="320.2" r="0.6" fill="#e02020"/>
<circle cx="270.9" cy="325.6" r="0.6" fill="#e02020"/>
<circle cx="255.7" cy="333.2" r="0.6" fill="#e02020"/>
<circle cx="248.1" cy="313.9" r="0.6" fill="#e02020"/>
<circle cx="261.4" cy="320.7" r="0.6" fill="#e02020"/>
<circle cx="245.0" cy="314.8" r="0.6" fill="#e02020"/>
<circle cx="266.6" cy="307.9" r="0.6" fill="#e02020"/>
<circle cx="262.4" cy="300.0" r="0.6" fill="#e02020"/>
<circle cx="271.4" cy="326.0" r="0.6" fill="#e02020"/>
<circle cx="248.7" cy="338.3" r="0.6" fill="#e02020"/>
<circle cx="265.7" cy="300.5" r="0.6" fill="#e02020"/>
<circle cx="245.9" cy="318.2" r="0.6" fill="#e02020"/>
<circle cx="272.9" cy="303.8" r="0.6" fill="#e02020"/>
<circle cx="238.7" cy="310.8" r="0.6" fill="#e02020"/>
<circle cx="238.6" cy="314.8" r="0.6" fill="#e02020"/>
<circle cx="256.4" cy="316.1" r="0.6" fill="#e02020"/>
<circle cx="242.1" cy="298.9" r="0.6" fill="#e02020"/>
<text x="295.0" y="292.5" font-family="Liberation Serif, Times New Roman, serif" font-size="4.0" fill="#111" text-anchor="middle" font-weight="bold" >Grid-scale energy</text>
<text x="295.0" y="297.5" font-family="Liberation Serif, Times New Roman, serif" font-size="4.0" fill="#111" text-anchor="middle" font-weight="bold" >storage system</text>
<text x="295.0" y="302.5" font-family="Liberation Serif, Times New Roman, serif" font-size="4.6" fill="#4070c8" text-anchor="middle" font-weight="bold" >Charge</text>
<rect x="283" y="304.2" width="22" height="3.2" fill="#5080d0"/><polygon points="305,303 309,305.8 305,308.6" fill="#5080d0"/>
<circle cx="287" cy="305.8" r="1.1" fill="#f4e48a"/>
<circle cx="294" cy="305.8" r="1.1" fill="#f4e48a"/>
<circle cx="301" cy="305.8" r="1.1" fill="#f4e48a"/>
<text x="295.0" y="312.5" font-family="Liberation Serif, Times New Roman, serif" font-size="4.6" fill="#4070c8" text-anchor="middle" font-weight="bold" >Co-intercalation</text>
<text x="284.0" y="319.5" font-family="Liberation Serif, Times New Roman, serif" font-size="4.0" fill="#e03020" text-anchor="middle" font-weight="bold" >+100 °C</text>
<rect x="295.3" y="315" width="1.6" height="16" fill="#c03030"/><circle cx="296.1" cy="331.5" r="1.8" fill="#c02020"/><rect x="295.5" y="314" width="1.2" height="5" fill="#80c0e0"/>
<path d="M303,320 q-2,-3 1,-6 q0,3 2,2 q1,3 -3,4z" fill="#f08020"/>
<text x="283.0" y="333.0" font-family="Liberation Serif, Times New Roman, serif" font-size="4.0" fill="#8090b0" text-anchor="middle" font-weight="bold" >−70 °C</text>
<circle cx="303" cy="332" r="2.2" fill="#e8eef8"/>
<rect x="285" y="336.3" width="22" height="3.2" fill="#7030c0"/><polygon points="285,335 281,337.9 285,340.8" fill="#7030c0"/>
<circle cx="289" cy="337.9" r="1.1" fill="#f4e48a"/>
<circle cx="296" cy="337.9" r="1.1" fill="#f4e48a"/>
<circle cx="303" cy="337.9" r="1.1" fill="#f4e48a"/>
<text x="295.0" y="345.0" font-family="Liberation Serif, Times New Roman, serif" font-size="4.6" fill="#7030c0" text-anchor="middle" font-weight="bold" >Discharge</text>
<text x="331.0" y="293.0" font-family="Liberation Serif, Times New Roman, serif" font-size="4.6" fill="#4060c0" text-anchor="middle" font-weight="bold" >Bi</text>
<ellipse cx="336.9" cy="303.4" rx="1.8" ry="1.4" fill="#2068c8"/><ellipse cx="336.9" cy="303.4" rx="0.75" ry="0.5" fill="#d8e8f8"/>
<ellipse cx="333.0" cy="305.8" rx="1.8" ry="1.4" fill="#2068c8"/><ellipse cx="333.0" cy="305.8" rx="0.75" ry="0.5" fill="#d8e8f8"/>
<ellipse cx="329.1" cy="303.4" rx="1.8" ry="1.4" fill="#2068c8"/><ellipse cx="329.1" cy="303.4" rx="0.75" ry="0.5" fill="#d8e8f8"/>
<ellipse cx="329.1" cy="298.9" rx="1.8" ry="1.4" fill="#2068c8"/><ellipse cx="329.1" cy="298.9" rx="0.75" ry="0.5" fill="#d8e8f8"/>
<ellipse cx="333.0" cy="296.7" rx="1.8" ry="1.4" fill="#2068c8"/><ellipse cx="333.0" cy="296.7" rx="0.75" ry="0.5" fill="#d8e8f8"/>
<ellipse cx="336.9" cy="298.9" rx="1.8" ry="1.4" fill="#2068c8"/><ellipse cx="336.9" cy="298.9" rx="0.75" ry="0.5" fill="#d8e8f8"/>
<ellipse cx="333.0" cy="310.5" rx="1.8" ry="1.4" fill="#2068c8"/><ellipse cx="333.0" cy="310.5" rx="0.75" ry="0.5" fill="#d8e8f8"/>
<ellipse cx="329.1" cy="312.8" rx="1.8" ry="1.4" fill="#2068c8"/><ellipse cx="329.1" cy="312.8" rx="0.75" ry="0.5" fill="#d8e8f8"/>
<ellipse cx="325.2" cy="310.5" rx="1.8" ry="1.4" fill="#2068c8"/><ellipse cx="325.2" cy="310.5" rx="0.75" ry="0.5" fill="#d8e8f8"/>
<ellipse cx="325.2" cy="305.8" rx="1.8" ry="1.4" fill="#2068c8"/><ellipse cx="325.2" cy="305.8" rx="0.75" ry="0.5" fill="#d8e8f8"/>
<ellipse cx="329.1" cy="303.6" rx="1.8" ry="1.4" fill="#2068c8"/><ellipse cx="329.1" cy="303.6" rx="0.75" ry="0.5" fill="#d8e8f8"/>
<ellipse cx="340.8" cy="310.5" rx="1.8" ry="1.4" fill="#2068c8"/><ellipse cx="340.8" cy="310.5" rx="0.75" ry="0.5" fill="#d8e8f8"/>
<ellipse cx="336.9" cy="312.8" rx="1.8" ry="1.4" fill="#2068c8"/><ellipse cx="336.9" cy="312.8" rx="0.75" ry="0.5" fill="#d8e8f8"/>
<ellipse cx="336.9" cy="303.6" rx="1.8" ry="1.4" fill="#2068c8"/><ellipse cx="336.9" cy="303.6" rx="0.75" ry="0.5" fill="#d8e8f8"/>
<ellipse cx="340.8" cy="305.8" rx="1.8" ry="1.4" fill="#2068c8"/><ellipse cx="340.8" cy="305.8" rx="0.75" ry="0.5" fill="#d8e8f8"/>
<ellipse cx="329.1" cy="317.4" rx="1.8" ry="1.4" fill="#2068c8"/><ellipse cx="329.1" cy="317.4" rx="0.75" ry="0.5" fill="#d8e8f8"/>
<ellipse cx="325.2" cy="319.6" rx="1.8" ry="1.4" fill="#2068c8"/><ellipse cx="325.2" cy="319.6" rx="0.75" ry="0.5" fill="#d8e8f8"/>
<ellipse cx="321.3" cy="317.4" rx="1.8" ry="1.4" fill="#2068c8"/><ellipse cx="321.3" cy="317.4" rx="0.75" ry="0.5" fill="#d8e8f8"/>
<ellipse cx="321.3" cy="312.8" rx="1.8" ry="1.4" fill="#2068c8"/><ellipse cx="321.3" cy="312.8" rx="0.75" ry="0.5" fill="#d8e8f8"/>
<ellipse cx="336.9" cy="317.4" rx="1.8" ry="1.4" fill="#2068c8"/><ellipse cx="336.9" cy="317.4" rx="0.75" ry="0.5" fill="#d8e8f8"/>
<ellipse cx="333.0" cy="319.6" rx="1.8" ry="1.4" fill="#2068c8"/><ellipse cx="333.0" cy="319.6" rx="0.75" ry="0.5" fill="#d8e8f8"/>
<ellipse cx="344.7" cy="317.4" rx="1.8" ry="1.4" fill="#2068c8"/><ellipse cx="344.7" cy="317.4" rx="0.75" ry="0.5" fill="#d8e8f8"/>
<ellipse cx="340.8" cy="319.6" rx="1.8" ry="1.4" fill="#2068c8"/><ellipse cx="340.8" cy="319.6" rx="0.75" ry="0.5" fill="#d8e8f8"/>
<ellipse cx="344.7" cy="312.8" rx="1.8" ry="1.4" fill="#2068c8"/><ellipse cx="344.7" cy="312.8" rx="0.75" ry="0.5" fill="#d8e8f8"/>
<ellipse cx="325.2" cy="324.3" rx="1.8" ry="1.4" fill="#2068c8"/><ellipse cx="325.2" cy="324.3" rx="0.75" ry="0.5" fill="#d8e8f8"/>
<ellipse cx="321.3" cy="326.4" rx="1.8" ry="1.4" fill="#2068c8"/><ellipse cx="321.3" cy="326.4" rx="0.75" ry="0.5" fill="#d8e8f8"/>
<ellipse cx="317.4" cy="324.3" rx="1.8" ry="1.4" fill="#2068c8"/><ellipse cx="317.4" cy="324.3" rx="0.75" ry="0.5" fill="#d8e8f8"/>
<ellipse cx="317.4" cy="319.6" rx="1.8" ry="1.4" fill="#2068c8"/><ellipse cx="317.4" cy="319.6" rx="0.75" ry="0.5" fill="#d8e8f8"/>
<ellipse cx="333.0" cy="324.3" rx="1.8" ry="1.4" fill="#2068c8"/><ellipse cx="333.0" cy="324.3" rx="0.75" ry="0.5" fill="#d8e8f8"/>
<ellipse cx="329.1" cy="326.4" rx="1.8" ry="1.4" fill="#2068c8"/><ellipse cx="329.1" cy="326.4" rx="0.75" ry="0.5" fill="#d8e8f8"/>
<ellipse cx="340.8" cy="324.3" rx="1.8" ry="1.4" fill="#2068c8"/><ellipse cx="340.8" cy="324.3" rx="0.75" ry="0.5" fill="#d8e8f8"/>
<ellipse cx="336.9" cy="326.4" rx="1.8" ry="1.4" fill="#2068c8"/><ellipse cx="336.9" cy="326.4" rx="0.75" ry="0.5" fill="#d8e8f8"/>
<ellipse cx="348.6" cy="324.3" rx="1.8" ry="1.4" fill="#2068c8"/><ellipse cx="348.6" cy="324.3" rx="0.75" ry="0.5" fill="#d8e8f8"/>
<ellipse cx="344.7" cy="326.4" rx="1.8" ry="1.4" fill="#2068c8"/><ellipse cx="344.7" cy="326.4" rx="0.75" ry="0.5" fill="#d8e8f8"/>
<ellipse cx="348.6" cy="319.6" rx="1.8" ry="1.4" fill="#2068c8"/><ellipse cx="348.6" cy="319.6" rx="0.75" ry="0.5" fill="#d8e8f8"/>
<ellipse cx="321.3" cy="331.1" rx="1.8" ry="1.4" fill="#2068c8"/><ellipse cx="321.3" cy="331.1" rx="0.75" ry="0.5" fill="#d8e8f8"/>
<ellipse cx="317.4" cy="333.3" rx="1.8" ry="1.4" fill="#2068c8"/><ellipse cx="317.4" cy="333.3" rx="0.75" ry="0.5" fill="#d8e8f8"/>
<ellipse cx="313.5" cy="331.1" rx="1.8" ry="1.4" fill="#2068c8"/><ellipse cx="313.5" cy="331.1" rx="0.75" ry="0.5" fill="#d8e8f8"/>
<ellipse cx="313.5" cy="326.6" rx="1.8" ry="1.4" fill="#2068c8"/><ellipse cx="313.5" cy="326.6" rx="0.75" ry="0.5" fill="#d8e8f8"/>
<ellipse cx="321.3" cy="326.6" rx="1.8" ry="1.4" fill="#2068c8"/><ellipse cx="321.3" cy="326.6" rx="0.75" ry="0.5" fill="#d8e8f8"/>
<ellipse cx="329.1" cy="331.1" rx="1.8" ry="1.4" fill="#2068c8"/><ellipse cx="329.1" cy="331.1" rx="0.75" ry="0.5" fill="#d8e8f8"/>
<ellipse cx="325.2" cy="333.3" rx="1.8" ry="1.4" fill="#2068c8"/><ellipse cx="325.2" cy="333.3" rx="0.75" ry="0.5" fill="#d8e8f8"/>
<ellipse cx="329.1" cy="326.6" rx="1.8" ry="1.4" fill="#2068c8"/><ellipse cx="329.1" cy="326.6" rx="0.75" ry="0.5" fill="#d8e8f8"/>
<ellipse cx="336.9" cy="331.1" rx="1.8" ry="1.4" fill="#2068c8"/><ellipse cx="336.9" cy="331.1" rx="0.75" ry="0.5" fill="#d8e8f8"/>
<ellipse cx="333.0" cy="333.3" rx="1.8" ry="1.4" fill="#2068c8"/><ellipse cx="333.0" cy="333.3" rx="0.75" ry="0.5" fill="#d8e8f8"/>
<ellipse cx="336.9" cy="326.6" rx="1.8" ry="1.4" fill="#2068c8"/><ellipse cx="336.9" cy="326.6" rx="0.75" ry="0.5" fill="#d8e8f8"/>
<ellipse cx="344.7" cy="331.1" rx="1.8" ry="1.4" fill="#2068c8"/><ellipse cx="344.7" cy="331.1" rx="0.75" ry="0.5" fill="#d8e8f8"/>
<ellipse cx="340.8" cy="333.3" rx="1.8" ry="1.4" fill="#2068c8"/><ellipse cx="340.8" cy="333.3" rx="0.75" ry="0.5" fill="#d8e8f8"/>
<ellipse cx="344.7" cy="326.6" rx="1.8" ry="1.4" fill="#2068c8"/><ellipse cx="344.7" cy="326.6" rx="0.75" ry="0.5" fill="#d8e8f8"/>
<ellipse cx="352.5" cy="331.1" rx="1.8" ry="1.4" fill="#2068c8"/><ellipse cx="352.5" cy="331.1" rx="0.75" ry="0.5" fill="#d8e8f8"/>
<ellipse cx="348.6" cy="333.3" rx="1.8" ry="1.4" fill="#2068c8"/><ellipse cx="348.6" cy="333.3" rx="0.75" ry="0.5" fill="#d8e8f8"/>
<ellipse cx="352.5" cy="326.6" rx="1.8" ry="1.4" fill="#2068c8"/><ellipse cx="352.5" cy="326.6" rx="0.75" ry="0.5" fill="#d8e8f8"/>
<circle cx="333.0" cy="301.2" r="0.9" fill="#f4e48a"/>
<circle cx="329.1" cy="308.1" r="0.9" fill="#f4e48a"/>
<circle cx="336.9" cy="308.1" r="0.9" fill="#f4e48a"/>
<circle cx="325.2" cy="315.0" r="0.9" fill="#f4e48a"/>
<circle cx="333.0" cy="315.0" r="0.9" fill="#f4e48a"/>
<circle cx="340.8" cy="315.0" r="0.9" fill="#f4e48a"/>
<circle cx="321.3" cy="321.9" r="0.9" fill="#f4e48a"/>
<circle cx="329.1" cy="321.9" r="0.9" fill="#f4e48a"/>
<circle cx="336.9" cy="321.9" r="0.9" fill="#f4e48a"/>
<circle cx="344.7" cy="321.9" r="0.9" fill="#f4e48a"/>
<circle cx="317.4" cy="328.8" r="0.9" fill="#f4e48a"/>
<circle cx="325.2" cy="328.8" r="0.9" fill="#f4e48a"/>
<circle cx="333.0" cy="328.8" r="0.9" fill="#f4e48a"/>
<circle cx="340.8" cy="328.8" r="0.9" fill="#f4e48a"/>
<circle cx="348.6" cy="328.8" r="0.9" fill="#f4e48a"/>
<circle cx="321" cy="347" r="1.2" fill="#f4e48a"/><text x="335.0" y="348.2" font-family="Liberation Serif, Times New Roman, serif" font-size="3.6" fill="#8a2040" text-anchor="middle" font-weight="bold" >solvated Na⁺</text>
<defs><linearGradient id="b3l" x1="0" y1="0" x2="1" y2="0"><stop offset="0" stop-color="#2a1c8a"/><stop offset="0.45" stop-color="#b040c0"/><stop offset="0.75" stop-color="#e060d8"/><stop offset="1" stop-color="#30dce8"/></linearGradient><linearGradient id="b3b" x1="0" y1="0" x2="1" y2="1"><stop offset="0" stop-color="#fde2ea"/><stop offset="0.55" stop-color="#f4ecf2"/><stop offset="1" stop-color="#c8f4f8"/></linearGradient><linearGradient id="b3t" x1="0" y1="0" x2="1" y2="0"><stop offset="0" stop-color="#6acab8"/><stop offset="1" stop-color="#9ae0d0"/></linearGradient></defs>
<rect x="418.9" y="272.9" width="34.7" height="32.8" fill="#fcd8e2"/>
<rect x="453.6" y="272.9" width="39.6" height="32.8" fill="#fcdce6"/>
<rect x="493.2" y="272.9" width="38.5" height="32.8" fill="#f2e2ea"/>
<rect x="531.7" y="272.9" width="40.5" height="32.8" fill="#d6f2f8"/>
<line x1="453.6" y1="273" x2="453.6" y2="305.5" stroke="#8cc4ec" stroke-width="0.8"/>
<line x1="493.2" y1="273" x2="493.2" y2="305.5" stroke="#8cc4ec" stroke-width="0.8"/>
<line x1="531.7" y1="273" x2="531.7" y2="305.5" stroke="#8cc4ec" stroke-width="0.8"/>
<path d="M425.5,276.6 l3.2,-1.6" stroke="#a040d0" stroke-width="1.2"/>
<path d="M430.0,276.6 l3.2,-1.6" stroke="#a040d0" stroke-width="1.2"/>
<path d="M434.5,276.6 l3.2,-1.6" stroke="#a040d0" stroke-width="1.2"/>
<path d="M439.0,276.6 l3.2,-1.6" stroke="#a040d0" stroke-width="1.2"/>
<path d="M443.5,276.6 l3.2,-1.6" stroke="#a040d0" stroke-width="1.2"/>
<path d="M425.5,279.6 l3.2,-1.6" stroke="#a040d0" stroke-width="1.2"/>
<path d="M430.0,279.6 l3.2,-1.6" stroke="#a040d0" stroke-width="1.2"/>
<path d="M434.5,279.6 l3.2,-1.6" stroke="#a040d0" stroke-width="1.2"/>
<path d="M439.0,279.6 l3.2,-1.6" stroke="#a040d0" stroke-width="1.2"/>
<path d="M443.5,279.6 l3.2,-1.6" stroke="#a040d0" stroke-width="1.2"/>
<path d="M425.5,282.5 l3.2,-1.6" stroke="#a040d0" stroke-width="1.2"/>
<path d="M430.0,282.5 l3.2,-1.6" stroke="#a040d0" stroke-width="1.2"/>
<path d="M434.5,282.5 l3.2,-1.6" stroke="#a040d0" stroke-width="1.2"/>
<path d="M439.0,282.5 l3.2,-1.6" stroke="#a040d0" stroke-width="1.2"/>
<path d="M443.5,282.5 l3.2,-1.6" stroke="#a040d0" stroke-width="1.2"/>
<path d="M425.5,285.5 l3.2,-1.6" stroke="#a040d0" stroke-width="1.2"/>
<path d="M430.0,285.5 l3.2,-1.6" stroke="#a040d0" stroke-width="1.2"/>
<path d="M434.5,285.5 l3.2,-1.6" stroke="#a040d0" stroke-width="1.2"/>
<path d="M439.0,285.5 l3.2,-1.6" stroke="#a040d0" stroke-width="1.2"/>
<path d="M443.5,285.5 l3.2,-1.6" stroke="#a040d0" stroke-width="1.2"/>
<path d="M425.5,288.4 l3.2,-1.6" stroke="#a040d0" stroke-width="1.2"/>
<path d="M430.0,288.4 l3.2,-1.6" stroke="#a040d0" stroke-width="1.2"/>
<path d="M434.5,288.4 l3.2,-1.6" stroke="#a040d0" stroke-width="1.2"/>
<path d="M439.0,288.4 l3.2,-1.6" stroke="#a040d0" stroke-width="1.2"/>
<path d="M443.5,288.4 l3.2,-1.6" stroke="#a040d0" stroke-width="1.2"/>
<path d="M425.5,291.4 l3.2,-1.6" stroke="#a040d0" stroke-width="1.2"/>
<path d="M430.0,291.4 l3.2,-1.6" stroke="#a040d0" stroke-width="1.2"/>
<path d="M434.5,291.4 l3.2,-1.6" stroke="#a040d0" stroke-width="1.2"/>
<path d="M439.0,291.4 l3.2,-1.6" stroke="#a040d0" stroke-width="1.2"/>
<path d="M443.5,291.4 l3.2,-1.6" stroke="#a040d0" stroke-width="1.2"/>
<path d="M425.5,294.3 l3.2,-1.6" stroke="#a040d0" stroke-width="1.2"/>
<path d="M430.0,294.3 l3.2,-1.6" stroke="#a040d0" stroke-width="1.2"/>
<path d="M434.5,294.3 l3.2,-1.6" stroke="#a040d0" stroke-width="1.2"/>
<path d="M439.0,294.3 l3.2,-1.6" stroke="#a040d0" stroke-width="1.2"/>
<path d="M443.5,294.3 l3.2,-1.6" stroke="#a040d0" stroke-width="1.2"/>
<path d="M425.5,297.2 l3.2,-1.6" stroke="#a040d0" stroke-width="1.2"/>
<path d="M430.0,297.2 l3.2,-1.6" stroke="#a040d0" stroke-width="1.2"/>
<path d="M434.5,297.2 l3.2,-1.6" stroke="#a040d0" stroke-width="1.2"/>
<path d="M439.0,297.2 l3.2,-1.6" stroke="#a040d0" stroke-width="1.2"/>
<path d="M443.5,297.2 l3.2,-1.6" stroke="#a040d0" stroke-width="1.2"/>
<path d="M425.5,300.2 l3.2,-1.6" stroke="#a040d0" stroke-width="1.2"/>
<path d="M430.0,300.2 l3.2,-1.6" stroke="#a040d0" stroke-width="1.2"/>
<path d="M434.5,300.2 l3.2,-1.6" stroke="#a040d0" stroke-width="1.2"/>
<path d="M439.0,300.2 l3.2,-1.6" stroke="#a040d0" stroke-width="1.2"/>
<path d="M443.5,300.2 l3.2,-1.6" stroke="#a040d0" stroke-width="1.2"/>
<path d="M425.5,303.2 l3.2,-1.6" stroke="#a040d0" stroke-width="1.2"/>
<path d="M430.0,303.2 l3.2,-1.6" stroke="#a040d0" stroke-width="1.2"/>
<path d="M434.5,303.2 l3.2,-1.6" stroke="#a040d0" stroke-width="1.2"/>
<path d="M439.0,303.2 l3.2,-1.6" stroke="#a040d0" stroke-width="1.2"/>
<path d="M443.5,303.2 l3.2,-1.6" stroke="#a040d0" stroke-width="1.2"/>
<path d="M460.5,279.8 l3.4,-1.6" stroke="#b040d8" stroke-width="1.2"/>
<path d="M464.5,279.8 l3.4,-1.6" stroke="#b040d8" stroke-width="1.2"/>
<path d="M468.5,279.8 l3.4,-1.6" stroke="#b040d8" stroke-width="1.2"/>
<path d="M472.5,279.8 l3.4,-1.6" stroke="#b040d8" stroke-width="1.2"/>
<path d="M476.5,279.8 l3.4,-1.6" stroke="#b040d8" stroke-width="1.2"/>
<path d="M480.5,279.8 l3.4,-1.6" stroke="#b040d8" stroke-width="1.2"/>
<path d="M460.5,283.4 l3.4,-1.6" stroke="#b040d8" stroke-width="1.2"/>
<path d="M464.5,283.4 l3.4,-1.6" stroke="#b040d8" stroke-width="1.2"/>
<path d="M468.5,283.4 l3.4,-1.6" stroke="#b040d8" stroke-width="1.2"/>
<path d="M472.5,283.4 l3.4,-1.6" stroke="#b040d8" stroke-width="1.2"/>
<path d="M476.5,283.4 l3.4,-1.6" stroke="#b040d8" stroke-width="1.2"/>
<path d="M480.5,283.4 l3.4,-1.6" stroke="#b040d8" stroke-width="1.2"/>
<path d="M460.5,287.0 l3.4,-1.6" stroke="#b040d8" stroke-width="1.2"/>
<path d="M464.5,287.0 l3.4,-1.6" stroke="#b040d8" stroke-width="1.2"/>
<path d="M468.5,287.0 l3.4,-1.6" stroke="#b040d8" stroke-width="1.2"/>
<path d="M472.5,287.0 l3.4,-1.6" stroke="#b040d8" stroke-width="1.2"/>
<path d="M476.5,287.0 l3.4,-1.6" stroke="#b040d8" stroke-width="1.2"/>
<path d="M480.5,287.0 l3.4,-1.6" stroke="#b040d8" stroke-width="1.2"/>
<path d="M460.5,290.6 l3.4,-1.6" stroke="#b040d8" stroke-width="1.2"/>
<path d="M464.5,290.6 l3.4,-1.6" stroke="#b040d8" stroke-width="1.2"/>
<path d="M468.5,290.6 l3.4,-1.6" stroke="#b040d8" stroke-width="1.2"/>
<path d="M472.5,290.6 l3.4,-1.6" stroke="#b040d8" stroke-width="1.2"/>
<path d="M476.5,290.6 l3.4,-1.6" stroke="#b040d8" stroke-width="1.2"/>
<path d="M480.5,290.6 l3.4,-1.6" stroke="#b040d8" stroke-width="1.2"/>
<path d="M460.5,294.2 l3.4,-1.6" stroke="#b040d8" stroke-width="1.2"/>
<path d="M464.5,294.2 l3.4,-1.6" stroke="#b040d8" stroke-width="1.2"/>
<path d="M468.5,294.2 l3.4,-1.6" stroke="#b040d8" stroke-width="1.2"/>
<path d="M472.5,294.2 l3.4,-1.6" stroke="#b040d8" stroke-width="1.2"/>
<path d="M476.5,294.2 l3.4,-1.6" stroke="#b040d8" stroke-width="1.2"/>
<path d="M480.5,294.2 l3.4,-1.6" stroke="#b040d8" stroke-width="1.2"/>
<path d="M460.5,297.8 l3.4,-1.6" stroke="#b040d8" stroke-width="1.2"/>
<path d="M464.5,297.8 l3.4,-1.6" stroke="#b040d8" stroke-width="1.2"/>
<path d="M468.5,297.8 l3.4,-1.6" stroke="#b040d8" stroke-width="1.2"/>
<path d="M472.5,297.8 l3.4,-1.6" stroke="#b040d8" stroke-width="1.2"/>
<path d="M476.5,297.8 l3.4,-1.6" stroke="#b040d8" stroke-width="1.2"/>
<path d="M480.5,297.8 l3.4,-1.6" stroke="#b040d8" stroke-width="1.2"/>
<path d="M460.5,301.4 l3.4,-1.6" stroke="#b040d8" stroke-width="1.2"/>
<path d="M464.5,301.4 l3.4,-1.6" stroke="#b040d8" stroke-width="1.2"/>
<path d="M468.5,301.4 l3.4,-1.6" stroke="#b040d8" stroke-width="1.2"/>
<path d="M472.5,301.4 l3.4,-1.6" stroke="#b040d8" stroke-width="1.2"/>
<path d="M476.5,301.4 l3.4,-1.6" stroke="#b040d8" stroke-width="1.2"/>
<path d="M480.5,301.4 l3.4,-1.6" stroke="#b040d8" stroke-width="1.2"/>
<path d="M498.5,279.8 l3.4,-1.6" stroke="#b848e0" stroke-width="1.2"/>
<path d="M502.5,279.8 l3.4,-1.6" stroke="#b848e0" stroke-width="1.2"/>
<path d="M506.5,279.8 l3.4,-1.6" stroke="#b848e0" stroke-width="1.2"/>
<path d="M510.5,279.8 l3.4,-1.6" stroke="#b848e0" stroke-width="1.2"/>
<path d="M514.5,279.8 l3.4,-1.6" stroke="#b848e0" stroke-width="1.2"/>
<path d="M518.5,279.8 l3.4,-1.6" stroke="#b848e0" stroke-width="1.2"/>
<path d="M498.5,283.4 l3.4,-1.6" stroke="#b848e0" stroke-width="1.2"/>
<path d="M502.5,283.4 l3.4,-1.6" stroke="#b848e0" stroke-width="1.2"/>
<path d="M506.5,283.4 l3.4,-1.6" stroke="#b848e0" stroke-width="1.2"/>
<path d="M510.5,283.4 l3.4,-1.6" stroke="#b848e0" stroke-width="1.2"/>
<path d="M514.5,283.4 l3.4,-1.6" stroke="#b848e0" stroke-width="1.2"/>
<path d="M518.5,283.4 l3.4,-1.6" stroke="#b848e0" stroke-width="1.2"/>
<path d="M498.5,287.0 l3.4,-1.6" stroke="#b848e0" stroke-width="1.2"/>
<path d="M502.5,287.0 l3.4,-1.6" stroke="#b848e0" stroke-width="1.2"/>
<path d="M506.5,287.0 l3.4,-1.6" stroke="#b848e0" stroke-width="1.2"/>
<path d="M510.5,287.0 l3.4,-1.6" stroke="#b848e0" stroke-width="1.2"/>
<path d="M514.5,287.0 l3.4,-1.6" stroke="#b848e0" stroke-width="1.2"/>
<path d="M518.5,287.0 l3.4,-1.6" stroke="#b848e0" stroke-width="1.2"/>
<path d="M498.5,290.6 l3.4,-1.6" stroke="#b848e0" stroke-width="1.2"/>
<path d="M502.5,290.6 l3.4,-1.6" stroke="#b848e0" stroke-width="1.2"/>
<path d="M506.5,290.6 l3.4,-1.6" stroke="#b848e0" stroke-width="1.2"/>
<path d="M510.5,290.6 l3.4,-1.6" stroke="#b848e0" stroke-width="1.2"/>
<path d="M514.5,290.6 l3.4,-1.6" stroke="#b848e0" stroke-width="1.2"/>
<path d="M518.5,290.6 l3.4,-1.6" stroke="#b848e0" stroke-width="1.2"/>
<path d="M498.5,294.2 l3.4,-1.6" stroke="#b848e0" stroke-width="1.2"/>
<path d="M502.5,294.2 l3.4,-1.6" stroke="#b848e0" stroke-width="1.2"/>
<path d="M506.5,294.2 l3.4,-1.6" stroke="#b848e0" stroke-width="1.2"/>
<path d="M510.5,294.2 l3.4,-1.6" stroke="#b848e0" stroke-width="1.2"/>
<path d="M514.5,294.2 l3.4,-1.6" stroke="#b848e0" stroke-width="1.2"/>
<path d="M518.5,294.2 l3.4,-1.6" stroke="#b848e0" stroke-width="1.2"/>
<path d="M498.5,297.8 l3.4,-1.6" stroke="#b848e0" stroke-width="1.2"/>
<path d="M502.5,297.8 l3.4,-1.6" stroke="#b848e0" stroke-width="1.2"/>
<path d="M506.5,297.8 l3.4,-1.6" stroke="#b848e0" stroke-width="1.2"/>
<path d="M510.5,297.8 l3.4,-1.6" stroke="#b848e0" stroke-width="1.2"/>
<path d="M514.5,297.8 l3.4,-1.6" stroke="#b848e0" stroke-width="1.2"/>
<path d="M518.5,297.8 l3.4,-1.6" stroke="#b848e0" stroke-width="1.2"/>
<path d="M498.5,301.4 l3.4,-1.6" stroke="#b848e0" stroke-width="1.2"/>
<path d="M502.5,301.4 l3.4,-1.6" stroke="#b848e0" stroke-width="1.2"/>
<path d="M506.5,301.4 l3.4,-1.6" stroke="#b848e0" stroke-width="1.2"/>
<path d="M510.5,301.4 l3.4,-1.6" stroke="#b848e0" stroke-width="1.2"/>
<path d="M514.5,301.4 l3.4,-1.6" stroke="#b848e0" stroke-width="1.2"/>
<path d="M518.5,301.4 l3.4,-1.6" stroke="#b848e0" stroke-width="1.2"/>
<path d="M537.5,279.8 l3.6,-1.6" stroke="#d860e8" stroke-width="1.2"/>
<path d="M541.5,279.8 l3.6,-1.6" stroke="#d860e8" stroke-width="1.2"/>
<path d="M545.5,279.8 l3.6,-1.6" stroke="#d860e8" stroke-width="1.2"/>
<path d="M549.5,279.8 l3.6,-1.6" stroke="#d860e8" stroke-width="1.2"/>
<path d="M553.5,279.8 l3.6,-1.6" stroke="#d860e8" stroke-width="1.2"/>
<path d="M557.5,279.8 l3.6,-1.6" stroke="#d860e8" stroke-width="1.2"/>
<path d="M537.5,283.4 l3.6,-1.6" stroke="#d860e8" stroke-width="1.2"/>
<path d="M541.5,283.4 l3.6,-1.6" stroke="#d860e8" stroke-width="1.2"/>
<path d="M545.5,283.4 l3.6,-1.6" stroke="#d860e8" stroke-width="1.2"/>
<path d="M549.5,283.4 l3.6,-1.6" stroke="#d860e8" stroke-width="1.2"/>
<path d="M553.5,283.4 l3.6,-1.6" stroke="#d860e8" stroke-width="1.2"/>
<path d="M557.5,283.4 l3.6,-1.6" stroke="#d860e8" stroke-width="1.2"/>
<path d="M537.5,287.0 l3.6,-1.6" stroke="#d860e8" stroke-width="1.2"/>
<path d="M541.5,287.0 l3.6,-1.6" stroke="#d860e8" stroke-width="1.2"/>
<path d="M545.5,287.0 l3.6,-1.6" stroke="#d860e8" stroke-width="1.2"/>
<path d="M549.5,287.0 l3.6,-1.6" stroke="#d860e8" stroke-width="1.2"/>
<path d="M553.5,287.0 l3.6,-1.6" stroke="#d860e8" stroke-width="1.2"/>
<path d="M557.5,287.0 l3.6,-1.6" stroke="#d860e8" stroke-width="1.2"/>
<path d="M537.5,290.6 l3.6,-1.6" stroke="#d860e8" stroke-width="1.2"/>
<path d="M541.5,290.6 l3.6,-1.6" stroke="#d860e8" stroke-width="1.2"/>
<path d="M545.5,290.6 l3.6,-1.6" stroke="#d860e8" stroke-width="1.2"/>
<path d="M549.5,290.6 l3.6,-1.6" stroke="#d860e8" stroke-width="1.2"/>
<path d="M553.5,290.6 l3.6,-1.6" stroke="#d860e8" stroke-width="1.2"/>
<path d="M557.5,290.6 l3.6,-1.6" stroke="#d860e8" stroke-width="1.2"/>
<path d="M537.5,294.2 l3.6,-1.6" stroke="#d860e8" stroke-width="1.2"/>
<path d="M541.5,294.2 l3.6,-1.6" stroke="#d860e8" stroke-width="1.2"/>
<path d="M545.5,294.2 l3.6,-1.6" stroke="#d860e8" stroke-width="1.2"/>
<path d="M549.5,294.2 l3.6,-1.6" stroke="#d860e8" stroke-width="1.2"/>
<path d="M553.5,294.2 l3.6,-1.6" stroke="#d860e8" stroke-width="1.2"/>
<path d="M557.5,294.2 l3.6,-1.6" stroke="#d860e8" stroke-width="1.2"/>
<path d="M537.5,297.8 l3.6,-1.6" stroke="#d860e8" stroke-width="1.2"/>
<path d="M541.5,297.8 l3.6,-1.6" stroke="#d860e8" stroke-width="1.2"/>
<path d="M545.5,297.8 l3.6,-1.6" stroke="#d860e8" stroke-width="1.2"/>
<path d="M549.5,297.8 l3.6,-1.6" stroke="#d860e8" stroke-width="1.2"/>
<path d="M553.5,297.8 l3.6,-1.6" stroke="#d860e8" stroke-width="1.2"/>
<path d="M557.5,297.8 l3.6,-1.6" stroke="#d860e8" stroke-width="1.2"/>
<path d="M537.5,301.4 l3.6,-1.6" stroke="#d860e8" stroke-width="1.2"/>
<path d="M541.5,301.4 l3.6,-1.6" stroke="#d860e8" stroke-width="1.2"/>
<path d="M545.5,301.4 l3.6,-1.6" stroke="#d860e8" stroke-width="1.2"/>
<path d="M549.5,301.4 l3.6,-1.6" stroke="#d860e8" stroke-width="1.2"/>
<path d="M553.5,301.4 l3.6,-1.6" stroke="#d860e8" stroke-width="1.2"/>
<path d="M557.5,301.4 l3.6,-1.6" stroke="#d860e8" stroke-width="1.2"/>
<rect x="418.9" y="305.6" width="153.3" height="1.8" fill="url(#b3l)"/>
<rect x="418.9" y="307.4" width="153.3" height="44.6" fill="url(#b3b)"/>
<polygon points="431.5,317 441.4,314 448.0,316 438.1,319" fill="#a8e4d8"/>
<polygon points="431.5,317 438.1,319 438.1,327 431.5,324.5" fill="#8cd8c4"/>
<polygon points="438.1,319 448.0,316 448.0,324 438.1,327" fill="#78ccb8"/>
<polygon points="463,317 472.6,314 479,316 469.4,319" fill="#a8e4d8"/>
<polygon points="463,317 469.4,319 469.4,327 463,324.5" fill="#8cd8c4"/>
<polygon points="469.4,319 479,316 479,324 469.4,327" fill="#78ccb8"/>
<polygon points="494.5,317 504.1,314 510.5,316 500.9,319" fill="#a8e4d8"/>
<polygon points="494.5,317 500.9,319 500.9,327 494.5,324.5" fill="#8cd8c4"/>
<polygon points="500.9,319 510.5,316 510.5,324 500.9,327" fill="#78ccb8"/>
<polygon points="473,316.5 476,315.3 476,325.5 473,327" fill="#e8a0a8"/><polygon points="503,316.5 507,315 507,325.5 503,327" fill="#e8a0a8"/>
<polygon points="541,317 551.5,314 558.5,316 548.0,319" fill="#f8c0c4"/>
<polygon points="541,317 548.0,319 548.0,327.5 541,325.0" fill="#f4b0b4"/>
<polygon points="548.0,319 558.5,316 558.5,324.5 548.0,327.5" fill="#f0a0a4"/>
<polygon points="445,313 448.5,311.5 449,313.5" fill="#3060c0"/><polygon points="476,313 479.5,311.5 480,313.5" fill="#3060c0"/><polygon points="508,313 511.5,311.5 512,313.5" fill="#3060c0"/><polygon points="555,313 558.5,311.5 559,313.5" fill="#3060c0"/>
<text x="436.0" y="311.8" font-family="Liberation Sans, Arial, sans-serif" font-size="3.0" fill="#3050a0" text-anchor="start" font-weight="normal" >Compression stress</text>
<text x="521.0" y="317.0" font-family="Liberation Sans, Arial, sans-serif" font-size="3.0" fill="#e08080" text-anchor="middle" font-weight="normal" >"Breathing" effect</text>
<rect x="450" y="319.6" width="7" height="0.6" fill="#e09090"/><rect x="485" y="319.6" width="7" height="0.6" fill="#e09090"/><rect x="514" y="320" width="9" height="0.8" fill="#e8c060"/>
<defs><linearGradient id="b3ar" x1="0" y1="0" x2="1" y2="0"><stop offset="0" stop-color="#60b8a8"/><stop offset="1" stop-color="#f08890"/></linearGradient></defs><rect x="438.7" y="329" width="107" height="0.9" fill="url(#b3ar)"/><polygon points="545.5,327.6 549,329.45 545.5,331.3" fill="#f08890"/>
<text x="494.4" y="333.6" font-family="Liberation Sans, Arial, sans-serif" font-size="3.0" fill="#3050a0" text-anchor="middle" font-weight="normal" >Gradually recovering Bi layer</text>
<polygon points="431.5,338 441.4,335 448.0,337 438.1,340" fill="#fcf0a8"/>
<polygon points="431.5,338 438.1,340 438.1,347.5 431.5,345.0" fill="#f8e890"/>
<polygon points="438.1,340 448.0,337 448.0,344.5 438.1,347.5" fill="#f0d870"/>
<polygon points="462.5,338 472.1,335 478.5,337 468.9,340" fill="#fcd0a0"/>
<polygon points="462.5,338 468.9,340 468.9,347.5 462.5,345.0" fill="#f8e890"/>
<polygon points="468.9,340 478.5,337 478.5,344.5 468.9,347.5" fill="#f0a080"/>
<rect x="450" y="341" width="8" height="0.6" fill="#e8c060"/>
<rect x="506" y="339.8" width="1.6" height="1.6" fill="#a0a8c0"/><text x="509.0" y="341.3" font-family="Liberation Sans, Arial, sans-serif" font-size="2.4" fill="#445" text-anchor="start" font-weight="normal" >Carbon layer</text>
<rect x="506" y="343.3" width="1.6" height="1.6" fill="#f0b0b8"/><text x="509.0" y="344.8" font-family="Liberation Sans, Arial, sans-serif" font-size="2.4" fill="#445" text-anchor="start" font-weight="normal" >Bi</text>
<rect x="530" y="339.8" width="1.6" height="1.6" fill="#f0e890"/><text x="533.0" y="341.3" font-family="Liberation Sans, Arial, sans-serif" font-size="2.4" fill="#445" text-anchor="start" font-weight="normal" >Na3Bi</text>
<rect x="530" y="343.3" width="1.6" height="1.6" fill="#f0a060"/><text x="533.0" y="344.8" font-family="Liberation Sans, Arial, sans-serif" font-size="2.4" fill="#445" text-anchor="start" font-weight="normal" >NaBi &amp; Na3Bi</text>
<defs><linearGradient id="b4a" x1="0" y1="0" x2="1" y2="0"><stop offset="0" stop-color="#f8c8a0"/><stop offset="1" stop-color="#e05828"/></linearGradient><radialGradient id="b4c" cx="0.5" cy="0.5" r="0.5"><stop offset="0.7" stop-color="#ffffff"/><stop offset="1" stop-color="#eeeeee"/></radialGradient></defs>
<rect x="617.2" y="276" width="155.8" height="29.7" fill="#f5f8fb" stroke="#f0c8b0" stroke-width="0.6" stroke-dasharray="1.2 0.6"/>
<circle cx="639.6" cy="289.3" r="13" fill="none" stroke="#b4c0d8" stroke-width="0.5" stroke-dasharray="1 0.8"/>
<circle cx="689" cy="289.5" r="13" fill="none" stroke="#b4c0d8" stroke-width="0.5" stroke-dasharray="1 0.8"/>
<circle cx="756.2" cy="289.3" r="13" fill="none" stroke="#b4c0d8" stroke-width="0.5" stroke-dasharray="1 0.8"/>
<polygon points="627,292.5 643,283.2 653,286 637,295.8" fill="#d0d0d0"/><polygon points="627,292.5 637,295.8 637,297 627,293.8" fill="#808080"/><polygon points="637,295.8 653,286 653,287.2 637,297" fill="#a0a0a0"/>
<polygon points="676,292.5 692,283 702,286 686,296" fill="#e0a070"/>
<circle cx="684.4" cy="289.7" r="0.9" fill="#f8d0a8"/>
<circle cx="694.3" cy="285.3" r="0.9" fill="#c87850"/>
<circle cx="688.7" cy="288.6" r="0.9" fill="#b86038"/>
<circle cx="695.1" cy="287.4" r="0.9" fill="#b86038"/>
<circle cx="684.6" cy="288.9" r="0.9" fill="#f8d0a8"/>
<circle cx="694.9" cy="284.3" r="0.9" fill="#c87850"/>
<circle cx="692.7" cy="288.5" r="0.9" fill="#b86038"/>
<circle cx="683.8" cy="293.4" r="0.9" fill="#e8b088"/>
<circle cx="698.3" cy="287.2" r="0.9" fill="#f8d0a8"/>
<circle cx="680.8" cy="293.1" r="0.9" fill="#e8b088"/>
<circle cx="684.7" cy="293.7" r="0.9" fill="#b86038"/>
<circle cx="679.0" cy="292.1" r="0.9" fill="#f8d0a8"/>
<circle cx="680.0" cy="293.1" r="0.9" fill="#b86038"/>
<circle cx="687.6" cy="287.4" r="0.9" fill="#b86038"/>
<circle cx="682.3" cy="290.1" r="0.9" fill="#b86038"/>
<circle cx="689.1" cy="291.0" r="0.9" fill="#e8b088"/>
<circle cx="692.1" cy="285.1" r="0.9" fill="#b86038"/>
<circle cx="682.7" cy="292.8" r="0.9" fill="#e8b088"/>
<circle cx="690.3" cy="291.1" r="0.9" fill="#b86038"/>
<circle cx="696.6" cy="286.4" r="0.9" fill="#c87850"/>
<circle cx="686.9" cy="293.6" r="0.9" fill="#b86038"/>
<circle cx="694.3" cy="288.0" r="0.9" fill="#b86038"/>
<circle cx="698.8" cy="285.6" r="0.9" fill="#e8b088"/>
<circle cx="694.0" cy="288.9" r="0.9" fill="#e8b088"/>
<circle cx="686.6" cy="287.1" r="0.9" fill="#f8d0a8"/>
<circle cx="683.2" cy="291.7" r="0.9" fill="#e8b088"/>
<circle cx="691.0" cy="287.5" r="0.9" fill="#e8b088"/>
<circle cx="684.0" cy="294.1" r="0.9" fill="#f8d0a8"/>
<circle cx="693.4" cy="284.5" r="0.9" fill="#e8b088"/>
<circle cx="693.6" cy="285.1" r="0.9" fill="#e8b088"/>
<circle cx="691.5" cy="286.0" r="0.9" fill="#e8b088"/>
<circle cx="689.9" cy="286.3" r="0.9" fill="#f8d0a8"/>
<circle cx="681.7" cy="291.3" r="0.9" fill="#e8b088"/>
<circle cx="687.3" cy="286.4" r="0.9" fill="#f8d0a8"/>
<circle cx="691.0" cy="289.5" r="0.9" fill="#e8b088"/>
<circle cx="683.5" cy="290.2" r="0.9" fill="#b86038"/>
<circle cx="693.6" cy="286.3" r="0.9" fill="#f8d0a8"/>
<circle cx="689.8" cy="289.0" r="0.9" fill="#c87850"/>
<circle cx="698.5" cy="286.9" r="0.9" fill="#b86038"/>
<circle cx="685.9" cy="293.3" r="0.9" fill="#f8d0a8"/>
<circle cx="691.3" cy="288.2" r="0.9" fill="#f8d0a8"/>
<circle cx="692.3" cy="292.0" r="0.9" fill="#b86038"/>
<circle cx="683.3" cy="294.4" r="0.9" fill="#c87850"/>
<circle cx="683.4" cy="291.9" r="0.9" fill="#c87850"/>
<circle cx="683.1" cy="290.7" r="0.9" fill="#e8b088"/>
<polygon points="676,292.5 686,296 686,297.3 676,293.8" fill="#806050"/>
<polygon points="743,292.5 759,283 769,286 753,296" fill="#5a5a5a"/>
<circle cx="761.1" cy="289.6" r="0.9" fill="#666"/>
<circle cx="757.1" cy="288.1" r="0.9" fill="#333"/>
<circle cx="762.7" cy="287.3" r="0.9" fill="#aaa"/>
<circle cx="749.3" cy="293.2" r="0.9" fill="#333"/>
<circle cx="748.6" cy="290.9" r="0.9" fill="#333"/>
<circle cx="750.1" cy="290.6" r="0.9" fill="#333"/>
<circle cx="766.3" cy="286.5" r="0.9" fill="#222"/>
<circle cx="762.8" cy="290.2" r="0.9" fill="#222"/>
<circle cx="761.4" cy="287.5" r="0.9" fill="#333"/>
<circle cx="759.1" cy="286.0" r="0.9" fill="#666"/>
<circle cx="756.6" cy="288.5" r="0.9" fill="#222"/>
<circle cx="755.3" cy="293.4" r="0.9" fill="#333"/>
<circle cx="751.9" cy="293.4" r="0.9" fill="#333"/>
<circle cx="751.7" cy="295.1" r="0.9" fill="#666"/>
<circle cx="758.5" cy="288.5" r="0.9" fill="#aaa"/>
<circle cx="751.0" cy="289.5" r="0.9" fill="#666"/>
<circle cx="759.3" cy="289.3" r="0.9" fill="#333"/>
<circle cx="749.4" cy="293.8" r="0.9" fill="#222"/>
<circle cx="747.8" cy="291.3" r="0.9" fill="#333"/>
<circle cx="751.0" cy="294.0" r="0.9" fill="#333"/>
<circle cx="746.4" cy="293.4" r="0.9" fill="#666"/>
<circle cx="749.9" cy="289.0" r="0.9" fill="#666"/>
<circle cx="761.2" cy="288.8" r="0.9" fill="#666"/>
<circle cx="753.0" cy="288.3" r="0.9" fill="#222"/>
<circle cx="752.4" cy="290.2" r="0.9" fill="#333"/>
<circle cx="747.4" cy="291.4" r="0.9" fill="#222"/>
<circle cx="744.2" cy="291.9" r="0.9" fill="#666"/>
<circle cx="760.6" cy="285.0" r="0.9" fill="#222"/>
<circle cx="755.1" cy="293.8" r="0.9" fill="#222"/>
<circle cx="766.5" cy="287.2" r="0.9" fill="#666"/>
<circle cx="760.8" cy="290.8" r="0.9" fill="#666"/>
<circle cx="750.2" cy="289.8" r="0.9" fill="#333"/>
<circle cx="763.1" cy="287.9" r="0.9" fill="#333"/>
<circle cx="753.3" cy="288.8" r="0.9" fill="#666"/>
<circle cx="753.8" cy="287.6" r="0.9" fill="#aaa"/>
<circle cx="756.1" cy="285.0" r="0.9" fill="#666"/>
<circle cx="753.3" cy="288.2" r="0.9" fill="#666"/>
<circle cx="750.0" cy="290.7" r="0.9" fill="#666"/>
<circle cx="748.3" cy="290.3" r="0.9" fill="#666"/>
<circle cx="762.0" cy="284.1" r="0.9" fill="#333"/>
<circle cx="762.5" cy="286.1" r="0.9" fill="#222"/>
<circle cx="758.5" cy="292.3" r="0.9" fill="#666"/>
<circle cx="762.0" cy="285.1" r="0.9" fill="#333"/>
<circle cx="751.9" cy="289.3" r="0.9" fill="#aaa"/>
<circle cx="750.1" cy="294.1" r="0.9" fill="#222"/>
<rect x="658" y="290.2" width="16" height="2.4" fill="url(#b4a)"/><polygon points="674,288.6 679,291.4 674,294.2" fill="#e05828"/>
<rect x="720" y="290" width="16" height="3" fill="url(#b4a)"/><polygon points="736,288.5 740,291.5 736,294.5" fill="#e05828"/>
<text x="667.0" y="285.3" font-family="Liberation Sans, Arial, sans-serif" font-size="3.0" fill="#a03020" text-anchor="middle" font-weight="bold" font-style="italic">Electrochemical</text>
<text x="667.0" y="288.6" font-family="Liberation Sans, Arial, sans-serif" font-size="3.0" fill="#a03020" text-anchor="middle" font-weight="bold" font-style="italic">displacement</text>
<text x="729.0" y="287.5" font-family="Liberation Sans, Arial, sans-serif" font-size="3.0" fill="#a03020" text-anchor="middle" font-weight="bold" font-style="italic">Annealing</text>
<text x="668.0" y="296.3" font-family="Liberation Sans, Arial, sans-serif" font-size="2.6" fill="#222" text-anchor="middle" font-weight="bold" >NaCl/HCl | Bi(NO3)3</text>
<text x="729.0" y="296.3" font-family="Liberation Sans, Arial, sans-serif" font-size="2.6" fill="#222" text-anchor="middle" font-weight="bold" >Ar, 300 °C, 2h</text>
<text x="639.6" y="303.3" font-family="Liberation Sans, Arial, sans-serif" font-size="3.2" fill="#c03020" text-anchor="middle" font-weight="bold" font-style="italic">copper foam</text>
<text x="689.0" y="303.3" font-family="Liberation Sans, Arial, sans-serif" font-size="3.2" fill="#333" text-anchor="middle" font-weight="bold" font-style="italic">Bi-precursor</text>
<text x="756.0" y="303.3" font-family="Liberation Sans, Arial, sans-serif" font-size="3.2" fill="#333" text-anchor="middle" font-weight="bold" font-style="italic">Bi@C-NSA</text>
<rect x="622.5" y="308.4" width="84.0" height="32.80000000000001" fill="#fff" stroke="#444" stroke-width="0.6"/>
<rect x="622.5" y="308.4" width="84.0" height="1.5" fill="#ddd"/>
<polyline points="623,320.5 626,322.3 640,322.5 660,322.6 680,322.8 706,322.8" fill="none" stroke="#9060c8" stroke-width="0.8"/>
<line x1="706.5" y1="308.4" x2="706.5" y2="341.2" stroke="#6a4ab0" stroke-width="1"/>
<text x="660.0" y="320.5" font-family="Liberation Sans, Arial, sans-serif" font-size="2.8" fill="#8050c0" text-anchor="middle" font-weight="normal" >146 mAh g⁻¹ at 1000</text>
<text x="635.0" y="314.0" font-family="Liberation Sans, Arial, sans-serif" font-size="2.8" fill="#222" text-anchor="middle" font-weight="bold" >Bi@C-NSA anode</text>
<circle cx="647.8" cy="329.0" r="0.9" fill="#3070c8"/>
<circle cx="650.0" cy="329.0" r="0.9" fill="#3070c8"/>
<circle cx="652.2" cy="329.0" r="0.9" fill="#3070c8"/>
<circle cx="647.8" cy="332.0" r="0.9" fill="#3070c8"/>
<circle cx="650.0" cy="332.0" r="0.9" fill="#3070c8"/>
<circle cx="652.2" cy="332.0" r="0.9" fill="#3070c8"/>
<circle cx="661.8" cy="329.0" r="0.9" fill="#3070c8"/>
<circle cx="664.0" cy="329.0" r="0.9" fill="#3070c8"/>
<circle cx="666.2" cy="329.0" r="0.9" fill="#3070c8"/>
<circle cx="661.8" cy="332.0" r="0.9" fill="#3070c8"/>
<circle cx="664.0" cy="332.0" r="0.9" fill="#3070c8"/>
<circle cx="666.2" cy="332.0" r="0.9" fill="#3070c8"/>
<circle cx="677.8" cy="329.0" r="0.9" fill="#3070c8"/>
<circle cx="680.0" cy="329.0" r="0.9" fill="#3070c8"/>
<circle cx="682.2" cy="329.0" r="0.9" fill="#3070c8"/>
<circle cx="677.8" cy="332.0" r="0.9" fill="#3070c8"/>
<circle cx="680.0" cy="332.0" r="0.9" fill="#3070c8"/>
<circle cx="682.2" cy="332.0" r="0.9" fill="#3070c8"/>
<circle cx="690.8" cy="329.0" r="0.9" fill="#3070c8"/>
<circle cx="693.0" cy="329.0" r="0.9" fill="#3070c8"/>
<circle cx="695.2" cy="329.0" r="0.9" fill="#3070c8"/>
<circle cx="690.8" cy="332.0" r="0.9" fill="#3070c8"/>
<circle cx="693.0" cy="332.0" r="0.9" fill="#3070c8"/>
<circle cx="695.2" cy="332.0" r="0.9" fill="#3070c8"/>
<rect x="660" y="327" width="7" height="1.5" fill="#f08030"/><rect x="676" y="327" width="7" height="1.5" fill="#f08030"/><rect x="690" y="328.5" width="4" height="4" fill="#f0c030"/>
<text x="621.7" y="342.1" font-family="Liberation Sans, Arial, sans-serif" font-size="2.7" fill="#333" text-anchor="end" font-weight="normal" >0</text>
<text x="621.7" y="336.7" font-family="Liberation Sans, Arial, sans-serif" font-size="2.7" fill="#333" text-anchor="end" font-weight="normal" >100</text>
<text x="621.7" y="331.2" font-family="Liberation Sans, Arial, sans-serif" font-size="2.7" fill="#333" text-anchor="end" font-weight="normal" >200</text>
<text x="621.7" y="325.7" font-family="Liberation Sans, Arial, sans-serif" font-size="2.7" fill="#333" text-anchor="end" font-weight="normal" >300</text>
<text x="621.7" y="320.3" font-family="Liberation Sans, Arial, sans-serif" font-size="2.7" fill="#333" text-anchor="end" font-weight="normal" >400</text>
<text x="621.7" y="314.8" font-family="Liberation Sans, Arial, sans-serif" font-size="2.7" fill="#333" text-anchor="end" font-weight="normal" >500</text>
<text x="621.7" y="309.3" font-family="Liberation Sans, Arial, sans-serif" font-size="2.7" fill="#333" text-anchor="end" font-weight="normal" >600</text>
<text x="707.3" y="342.1" font-family="Liberation Sans, Arial, sans-serif" font-size="2.7" fill="#333" text-anchor="start" font-weight="normal" >0</text>
<text x="707.3" y="336.7" font-family="Liberation Sans, Arial, sans-serif" font-size="2.7" fill="#333" text-anchor="start" font-weight="normal" >20</text>
<text x="707.3" y="331.2" font-family="Liberation Sans, Arial, sans-serif" font-size="2.7" fill="#333" text-anchor="start" font-weight="normal" >40</text>
<text x="707.3" y="325.7" font-family="Liberation Sans, Arial, sans-serif" font-size="2.7" fill="#333" text-anchor="start" font-weight="normal" >60</text>
<text x="707.3" y="320.3" font-family="Liberation Sans, Arial, sans-serif" font-size="2.7" fill="#333" text-anchor="start" font-weight="normal" >80</text>
<text x="707.3" y="314.8" font-family="Liberation Sans, Arial, sans-serif" font-size="2.7" fill="#333" text-anchor="start" font-weight="normal" >100</text>
<text x="707.3" y="309.3" font-family="Liberation Sans, Arial, sans-serif" font-size="2.7" fill="#333" text-anchor="start" font-weight="normal" ></text>
<text x="622.5" y="344.3" font-family="Liberation Sans, Arial, sans-serif" font-size="2.7" fill="#333" text-anchor="middle" font-weight="normal" >0</text>
<text x="633.0" y="344.3" font-family="Liberation Sans, Arial, sans-serif" font-size="2.7" fill="#333" text-anchor="middle" font-weight="normal" >200</text>
<text x="643.5" y="344.3" font-family="Liberation Sans, Arial, sans-serif" font-size="2.7" fill="#333" text-anchor="middle" font-weight="normal" >400</text>
<text x="654.0" y="344.3" font-family="Liberation Sans, Arial, sans-serif" font-size="2.7" fill="#333" text-anchor="middle" font-weight="normal" >600</text>
<text x="664.5" y="344.3" font-family="Liberation Sans, Arial, sans-serif" font-size="2.7" fill="#333" text-anchor="middle" font-weight="normal" >800</text>
<text x="675.0" y="344.3" font-family="Liberation Sans, Arial, sans-serif" font-size="2.7" fill="#333" text-anchor="middle" font-weight="normal" >1000</text>
<text x="685.5" y="344.3" font-family="Liberation Sans, Arial, sans-serif" font-size="2.7" fill="#333" text-anchor="middle" font-weight="normal" >1200</text>
<text x="696.0" y="344.3" font-family="Liberation Sans, Arial, sans-serif" font-size="2.7" fill="#333" text-anchor="middle" font-weight="normal" >1400</text>
<text x="706.5" y="344.3" font-family="Liberation Sans, Arial, sans-serif" font-size="2.7" fill="#333" text-anchor="middle" font-weight="normal" >1600</text>
<text x="0" y="0" font-family="Liberation Sans, Arial, sans-serif" font-size="2.7" fill="#333" text-anchor="middle" transform="translate(616.6,324.8) rotate(-90)">Capacity (mAh g⁻¹)</text>
<text x="0" y="0" font-family="Liberation Sans, Arial, sans-serif" font-size="2.7" fill="#333" text-anchor="middle" transform="translate(713.5,324.8) rotate(90)">CE (%)</text>
<text x="664.5" y="348.0" font-family="Liberation Sans, Arial, sans-serif" font-size="2.7" fill="#333" text-anchor="middle" font-weight="normal" >Cycle Number</text>
<rect x="627" y="328" width="8" height="0.8" fill="#555"/>
<rect x="627" y="331" width="8" height="0.8" fill="#555"/>
<rect x="627" y="334" width="8" height="0.8" fill="#555"/>
<rect x="726" y="308.4" width="47" height="31.0" fill="#fff"/>
<rect x="729.5" y="308.4" width="8" height="31.0" fill="#e6dcf2"/>
<rect x="740" y="308.4" width="7.5" height="31.0" fill="#e6dcf2"/>
<rect x="753.5" y="308.4" width="7.5" height="31.0" fill="#e6dcf2"/>
<rect x="766" y="308.4" width="3" height="31.0" fill="#e6dcf2"/>
<rect x="726" y="308.4" width="47" height="31.0" fill="none" stroke="#444" stroke-width="0.6"/>
<polyline points="726,323.5 735,324.3 745,324.5 760,324.8 767,324.8 768,324 773,324" fill="none" stroke="#40a060" stroke-width="0.8"/>
<circle cx="764" cy="332" r="3.3" fill="none" stroke="#3070d0" stroke-width="0.9"/><path d="M761,332 h6 M764,329 v6" stroke="#3070d0" stroke-width="0.6"/>
<text x="725.2" y="340.3" font-family="Liberation Sans, Arial, sans-serif" font-size="2.7" fill="#333" text-anchor="end" font-weight="normal" >0</text>
<text x="725.2" y="335.2" font-family="Liberation Sans, Arial, sans-serif" font-size="2.7" fill="#333" text-anchor="end" font-weight="normal" >100</text>
<text x="725.2" y="330.0" font-family="Liberation Sans, Arial, sans-serif" font-size="2.7" fill="#333" text-anchor="end" font-weight="normal" >200</text>
<text x="725.2" y="324.8" font-family="Liberation Sans, Arial, sans-serif" font-size="2.7" fill="#333" text-anchor="end" font-weight="normal" >300</text>
<text x="725.2" y="319.7" font-family="Liberation Sans, Arial, sans-serif" font-size="2.7" fill="#333" text-anchor="end" font-weight="normal" >400</text>
<text x="725.2" y="314.5" font-family="Liberation Sans, Arial, sans-serif" font-size="2.7" fill="#333" text-anchor="end" font-weight="normal" >500</text>
<text x="725.2" y="309.3" font-family="Liberation Sans, Arial, sans-serif" font-size="2.7" fill="#333" text-anchor="end" font-weight="normal" >600</text>
<text x="726.0" y="342.5" font-family="Liberation Sans, Arial, sans-serif" font-size="2.7" fill="#333" text-anchor="middle" font-weight="normal" >0</text>
<text x="732.7" y="342.5" font-family="Liberation Sans, Arial, sans-serif" font-size="2.7" fill="#333" text-anchor="middle" font-weight="normal" >10</text>
<text x="739.4" y="342.5" font-family="Liberation Sans, Arial, sans-serif" font-size="2.7" fill="#333" text-anchor="middle" font-weight="normal" >20</text>
<text x="746.1" y="342.5" font-family="Liberation Sans, Arial, sans-serif" font-size="2.7" fill="#333" text-anchor="middle" font-weight="normal" >30</text>
<text x="752.9" y="342.5" font-family="Liberation Sans, Arial, sans-serif" font-size="2.7" fill="#333" text-anchor="middle" font-weight="normal" >40</text>
<text x="759.6" y="342.5" font-family="Liberation Sans, Arial, sans-serif" font-size="2.7" fill="#333" text-anchor="middle" font-weight="normal" >50</text>
<text x="766.3" y="342.5" font-family="Liberation Sans, Arial, sans-serif" font-size="2.7" fill="#333" text-anchor="middle" font-weight="normal" >60</text>
<text x="773.0" y="342.5" font-family="Liberation Sans, Arial, sans-serif" font-size="2.7" fill="#333" text-anchor="middle" font-weight="normal" >70</text>
<text x="0" y="0" font-family="Liberation Sans, Arial, sans-serif" font-size="2.7" fill="#333" text-anchor="middle" transform="translate(720.1,323.9) rotate(-90)">Capacity (mAh g⁻¹)</text>
<text x="749.5" y="346.2" font-family="Liberation Sans, Arial, sans-serif" font-size="2.7" fill="#333" text-anchor="middle" font-weight="normal" >Cycle Number</text>
<rect x="731" y="311.5" width="10" height="0.8" fill="#555"/>
<rect x="731" y="314" width="10" height="0.8" fill="#555"/>
<defs><linearGradient id="b5g" x1="0" y1="0" x2="0" y2="1"><stop offset="0" stop-color="#cdd5ea"/><stop offset="0.6" stop-color="#e8ecf6"/><stop offset="1" stop-color="#f7f8fb"/></linearGradient><radialGradient id="b5c" cx="0.45" cy="0.45" r="0.55"><stop offset="0" stop-color="#70e8d0"/><stop offset="1" stop-color="#20a890"/></radialGradient><radialGradient id="b5sh" cx="0.5" cy="0.5" r="0.5"><stop offset="0" stop-color="#a8d8cc"/><stop offset="1" stop-color="#e8eef6" stop-opacity="0"/></radialGradient></defs>
<rect x="811.5" y="277.5" width="166.5" height="71.2" fill="url(#b5g)"/>
<ellipse cx="851" cy="335" rx="34" ry="4" fill="url(#b5sh)"/>
<polygon points="816,296 822,291.5 885,291.5 888,296" fill="#8c9494"/>
<rect x="816" y="296" width="70.8" height="12.5" fill="#3ee0bc"/>
<circle cx="821.2" cy="307.6" r="1.1" fill="#30d8b0"/>
<circle cx="819.3" cy="306.7" r="1.3" fill="#22c8a0"/>
<circle cx="876.9" cy="306.1" r="1.0" fill="#22c8a0"/>
<circle cx="868.4" cy="298.9" r="1.5" fill="#6af0d0"/>
<circle cx="866.1" cy="308.1" r="1.1" fill="#30d8b0"/>
<circle cx="833.3" cy="297.5" r="1.0" fill="#30d8b0"/>
<circle cx="847.0" cy="301.2" r="1.4" fill="#30d8b0"/>
<circle cx="869.4" cy="305.9" r="1.2" fill="#30d8b0"/>
<circle cx="836.1" cy="303.0" r="1.5" fill="#30d8b0"/>
<circle cx="853.4" cy="304.7" r="1.3" fill="#6af0d0"/>
<circle cx="847.8" cy="302.4" r="1.1" fill="#6af0d0"/>
<circle cx="822.8" cy="298.2" r="1.3" fill="#22c8a0"/>
<circle cx="816.3" cy="303.7" r="1.3" fill="#30d8b0"/>
<circle cx="830.5" cy="301.7" r="0.9" fill="#30d8b0"/>
<circle cx="816.2" cy="297.4" r="1.3" fill="#30d8b0"/>
<circle cx="855.8" cy="296.6" r="1.3" fill="#30d8b0"/>
<circle cx="833.1" cy="303.7" r="1.0" fill="#22c8a0"/>
<circle cx="833.5" cy="306.5" r="1.0" fill="#22c8a0"/>
<circle cx="837.9" cy="303.7" r="1.3" fill="#30d8b0"/>
<circle cx="825.9" cy="296.3" r="1.5" fill="#6af0d0"/>
<circle cx="881.7" cy="306.8" r="1.5" fill="#6af0d0"/>
<circle cx="851.6" cy="304.3" r="1.2" fill="#30d8b0"/>
<circle cx="866.4" cy="302.9" r="1.3" fill="#6af0d0"/>
<circle cx="875.6" cy="296.5" r="1.1" fill="#6af0d0"/>
<circle cx="885.0" cy="300.8" r="1.4" fill="#30d8b0"/>
<circle cx="836.8" cy="301.7" r="1.1" fill="#6af0d0"/>
<circle cx="821.0" cy="299.4" r="1.0" fill="#22c8a0"/>
<circle cx="855.5" cy="302.7" r="1.5" fill="#30d8b0"/>
<circle cx="878.8" cy="307.8" r="1.4" fill="#22c8a0"/>
<circle cx="825.9" cy="307.4" r="0.9" fill="#6af0d0"/>
<circle cx="833.2" cy="300.4" r="1.5" fill="#6af0d0"/>
<circle cx="858.3" cy="299.4" r="0.9" fill="#6af0d0"/>
<circle cx="886.0" cy="303.0" r="1.5" fill="#6af0d0"/>
<circle cx="880.4" cy="305.3" r="1.6" fill="#22c8a0"/>
<circle cx="858.0" cy="307.1" r="1.3" fill="#22c8a0"/>
<circle cx="826.8" cy="302.5" r="1.3" fill="#22c8a0"/>
<circle cx="827.4" cy="301.2" r="1.0" fill="#30d8b0"/>
<circle cx="881.9" cy="298.0" r="1.1" fill="#30d8b0"/>
<circle cx="835.2" cy="296.3" r="1.4" fill="#30d8b0"/>
<circle cx="868.3" cy="304.2" r="1.1" fill="#30d8b0"/>
<circle cx="881.3" cy="305.4" r="1.5" fill="#22c8a0"/>
<circle cx="878.4" cy="298.5" r="1.2" fill="#22c8a0"/>
<circle cx="883.9" cy="299.9" r="1.3" fill="#22c8a0"/>
<circle cx="858.4" cy="298.4" r="1.3" fill="#6af0d0"/>
<circle cx="884.0" cy="305.8" r="1.2" fill="#22c8a0"/>
<circle cx="856.5" cy="308.2" r="1.0" fill="#30d8b0"/>
<circle cx="845.4" cy="305.2" r="1.0" fill="#6af0d0"/>
<circle cx="879.5" cy="303.1" r="1.2" fill="#30d8b0"/>
<circle cx="884.1" cy="306.3" r="0.9" fill="#6af0d0"/>
<circle cx="851.8" cy="304.4" r="0.9" fill="#22c8a0"/>
<circle cx="855.7" cy="300.9" r="1.3" fill="#6af0d0"/>
<circle cx="843.9" cy="304.2" r="0.9" fill="#6af0d0"/>
<circle cx="839.4" cy="306.5" r="1.4" fill="#6af0d0"/>
<circle cx="866.1" cy="302.4" r="1.1" fill="#30d8b0"/>
<circle cx="859.4" cy="305.1" r="1.0" fill="#30d8b0"/>
<circle cx="850.1" cy="304.2" r="1.6" fill="#22c8a0"/>
<circle cx="846.4" cy="304.5" r="1.2" fill="#6af0d0"/>
<circle cx="882.6" cy="307.7" r="1.2" fill="#22c8a0"/>
<circle cx="878.5" cy="299.8" r="1.3" fill="#30d8b0"/>
<circle cx="872.6" cy="304.2" r="1.2" fill="#30d8b0"/>
<circle cx="820.6" cy="307.3" r="0.9" fill="#30d8b0"/>
<circle cx="848.2" cy="297.8" r="0.8" fill="#6af0d0"/>
<circle cx="863.9" cy="306.3" r="1.6" fill="#6af0d0"/>
<circle cx="882.1" cy="298.7" r="1.0" fill="#22c8a0"/>
<circle cx="831.4" cy="299.8" r="1.3" fill="#30d8b0"/>
<circle cx="846.9" cy="308.1" r="1.4" fill="#30d8b0"/>
<circle cx="843.5" cy="300.8" r="1.0" fill="#6af0d0"/>
<circle cx="837.3" cy="300.3" r="1.4" fill="#30d8b0"/>
<circle cx="822.5" cy="305.0" r="1.0" fill="#22c8a0"/>
<circle cx="870.6" cy="307.6" r="1.4" fill="#6af0d0"/>
<circle cx="861.8" cy="303.9" r="1.1" fill="#30d8b0"/>
<circle cx="825.1" cy="299.6" r="1.0" fill="#22c8a0"/>
<circle cx="872.2" cy="299.8" r="1.2" fill="#22c8a0"/>
<circle cx="821.5" cy="306.5" r="1.4" fill="#30d8b0"/>
<circle cx="833.5" cy="307.8" r="0.9" fill="#6af0d0"/>
<circle cx="850.8" cy="298.1" r="1.4" fill="#6af0d0"/>
<circle cx="818.8" cy="308.3" r="0.8" fill="#22c8a0"/>
<circle cx="885.0" cy="296.8" r="1.6" fill="#22c8a0"/>
<circle cx="824.7" cy="304.5" r="0.9" fill="#6af0d0"/>
<circle cx="871.4" cy="304.6" r="0.9" fill="#6af0d0"/>
<circle cx="849.8" cy="300.8" r="1.0" fill="#30d8b0"/>
<circle cx="847.1" cy="308.4" r="1.6" fill="#30d8b0"/>
<circle cx="844.3" cy="307.3" r="1.2" fill="#22c8a0"/>
<circle cx="861.2" cy="301.7" r="0.9" fill="#30d8b0"/>
<circle cx="817.1" cy="302.4" r="1.1" fill="#30d8b0"/>
<circle cx="877.3" cy="303.3" r="0.9" fill="#30d8b0"/>
<circle cx="840.2" cy="299.4" r="0.9" fill="#30d8b0"/>
<circle cx="832.8" cy="306.6" r="1.2" fill="#30d8b0"/>
<circle cx="816.3" cy="296.1" r="1.5" fill="#6af0d0"/>
<circle cx="826.9" cy="301.9" r="0.9" fill="#30d8b0"/>
<circle cx="880.8" cy="304.5" r="1.2" fill="#6af0d0"/>
<circle cx="823.4" cy="308.1" r="1.1" fill="#30d8b0"/>
<circle cx="835.1" cy="302.3" r="0.9" fill="#6af0d0"/>
<circle cx="819.2" cy="308.1" r="1.5" fill="#30d8b0"/>
<circle cx="848.4" cy="297.1" r="1.2" fill="#22c8a0"/>
<circle cx="838.1" cy="298.3" r="1.4" fill="#22c8a0"/>
<circle cx="818.7" cy="298.7" r="1.1" fill="#22c8a0"/>
<circle cx="851.8" cy="298.4" r="0.9" fill="#30d8b0"/>
<circle cx="860.8" cy="308.2" r="1.0" fill="#22c8a0"/>
<circle cx="865.3" cy="296.5" r="1.3" fill="#6af0d0"/>
<circle cx="835.2" cy="307.1" r="1.2" fill="#30d8b0"/>
<circle cx="879.3" cy="307.6" r="1.4" fill="#22c8a0"/>
<circle cx="841.8" cy="306.8" r="1.2" fill="#6af0d0"/>
<circle cx="818.1" cy="297.0" r="1.4" fill="#6af0d0"/>
<circle cx="832.0" cy="305.6" r="1.6" fill="#30d8b0"/>
<circle cx="853.1" cy="299.3" r="1.4" fill="#30d8b0"/>
<circle cx="870.1" cy="296.9" r="1.3" fill="#22c8a0"/>
<circle cx="867.8" cy="308.0" r="1.6" fill="#22c8a0"/>
<circle cx="826.1" cy="307.7" r="0.9" fill="#6af0d0"/>
<circle cx="856.6" cy="305.2" r="1.5" fill="#22c8a0"/>
<circle cx="867.4" cy="298.8" r="1.0" fill="#6af0d0"/>
<circle cx="826.8" cy="297.4" r="1.4" fill="#30d8b0"/>
<circle cx="877.5" cy="307.2" r="0.9" fill="#6af0d0"/>
<circle cx="846.6" cy="303.8" r="1.4" fill="#30d8b0"/>
<circle cx="831.9" cy="308.0" r="1.3" fill="#22c8a0"/>
<circle cx="874.9" cy="300.0" r="0.9" fill="#6af0d0"/>
<circle cx="828.2" cy="305.5" r="1.2" fill="#6af0d0"/>
<circle cx="872.7" cy="303.5" r="1.0" fill="#30d8b0"/>
<circle cx="867.6" cy="306.6" r="1.3" fill="#22c8a0"/>
<circle cx="840.1" cy="305.5" r="1.0" fill="#6af0d0"/>
<circle cx="854.0" cy="307.2" r="1.4" fill="#30d8b0"/>
<circle cx="819.1" cy="298.3" r="1.1" fill="#22c8a0"/>
<circle cx="880.7" cy="300.2" r="1.2" fill="#22c8a0"/>
<circle cx="877.5" cy="301.5" r="1.5" fill="#6af0d0"/>
<circle cx="836.1" cy="306.8" r="1.4" fill="#6af0d0"/>
<circle cx="884.3" cy="301.7" r="1.0" fill="#6af0d0"/>
<polygon points="815,296 818,293.8 887.8,293.8 885.8,296" fill="#8e9696"/>
<rect x="816" y="308.5" width="70.8" height="1.2" fill="#8e9696"/>
<rect x="816" y="309.5" width="70.8" height="10.5" fill="#3ee0bc"/>
<circle cx="820.5" cy="309.5" r="1.0" fill="#22c8a0"/>
<circle cx="830.4" cy="317.1" r="1.4" fill="#6af0d0"/>
<circle cx="820.4" cy="318.3" r="1.3" fill="#6af0d0"/>
<circle cx="844.8" cy="315.2" r="0.9" fill="#30d8b0"/>
<circle cx="863.6" cy="316.1" r="1.3" fill="#30d8b0"/>
<circle cx="868.8" cy="312.8" r="1.0" fill="#22c8a0"/>
<circle cx="882.8" cy="317.9" r="1.5" fill="#30d8b0"/>
<circle cx="827.7" cy="310.8" r="1.4" fill="#6af0d0"/>
<circle cx="871.6" cy="313.5" r="0.9" fill="#6af0d0"/>
<circle cx="878.5" cy="317.1" r="1.1" fill="#6af0d0"/>
<circle cx="846.7" cy="312.8" r="1.4" fill="#22c8a0"/>
<circle cx="861.3" cy="315.2" r="1.1" fill="#22c8a0"/>
<circle cx="855.1" cy="319.4" r="0.9" fill="#22c8a0"/>
<circle cx="819.6" cy="313.9" r="1.4" fill="#30d8b0"/>
<circle cx="822.9" cy="310.0" r="1.5" fill="#6af0d0"/>
<circle cx="833.0" cy="311.1" r="1.3" fill="#6af0d0"/>
<circle cx="823.1" cy="313.1" r="1.4" fill="#22c8a0"/>
<circle cx="858.5" cy="309.6" r="0.9" fill="#30d8b0"/>
<circle cx="862.1" cy="312.3" r="1.3" fill="#22c8a0"/>
<circle cx="878.8" cy="319.8" r="0.9" fill="#22c8a0"/>
<circle cx="842.3" cy="319.0" r="1.0" fill="#6af0d0"/>
<circle cx="835.3" cy="310.7" r="0.9" fill="#30d8b0"/>
<circle cx="858.3" cy="311.1" r="0.8" fill="#6af0d0"/>
<circle cx="831.9" cy="315.1" r="1.1" fill="#6af0d0"/>
<circle cx="816.3" cy="310.3" r="1.4" fill="#22c8a0"/>
<circle cx="842.0" cy="314.7" r="1.2" fill="#6af0d0"/>
<circle cx="857.6" cy="312.8" r="1.5" fill="#6af0d0"/>
<circle cx="817.1" cy="310.7" r="1.0" fill="#30d8b0"/>
<circle cx="855.4" cy="315.0" r="1.3" fill="#22c8a0"/>
<circle cx="861.9" cy="317.5" r="1.3" fill="#6af0d0"/>
<circle cx="856.1" cy="314.9" r="0.9" fill="#22c8a0"/>
<circle cx="823.1" cy="315.5" r="1.2" fill="#30d8b0"/>
<circle cx="844.6" cy="317.3" r="1.0" fill="#6af0d0"/>
<circle cx="880.7" cy="311.5" r="1.5" fill="#22c8a0"/>
<circle cx="861.3" cy="316.1" r="0.8" fill="#30d8b0"/>
<circle cx="853.1" cy="309.6" r="1.3" fill="#22c8a0"/>
<circle cx="859.6" cy="317.2" r="1.4" fill="#22c8a0"/>
<circle cx="868.4" cy="313.2" r="1.2" fill="#6af0d0"/>
<circle cx="832.6" cy="319.5" r="1.2" fill="#6af0d0"/>
<circle cx="816.6" cy="313.2" r="1.0" fill="#22c8a0"/>
<circle cx="859.5" cy="314.1" r="1.3" fill="#6af0d0"/>
<circle cx="820.6" cy="315.1" r="1.0" fill="#6af0d0"/>
<circle cx="867.9" cy="316.6" r="1.2" fill="#6af0d0"/>
<circle cx="834.9" cy="319.8" r="1.5" fill="#22c8a0"/>
<circle cx="834.6" cy="317.7" r="1.5" fill="#22c8a0"/>
<circle cx="829.7" cy="314.0" r="1.3" fill="#30d8b0"/>
<circle cx="853.8" cy="317.5" r="1.3" fill="#22c8a0"/>
<circle cx="851.9" cy="319.3" r="1.2" fill="#30d8b0"/>
<circle cx="870.2" cy="310.9" r="0.9" fill="#30d8b0"/>
<circle cx="881.7" cy="315.0" r="1.6" fill="#22c8a0"/>
<circle cx="829.4" cy="316.1" r="0.9" fill="#22c8a0"/>
<circle cx="868.7" cy="318.6" r="1.4" fill="#30d8b0"/>
<circle cx="866.9" cy="320.0" r="1.4" fill="#30d8b0"/>
<circle cx="842.9" cy="313.3" r="0.9" fill="#30d8b0"/>
<circle cx="857.1" cy="319.9" r="1.0" fill="#22c8a0"/>
<circle cx="849.0" cy="317.2" r="0.8" fill="#6af0d0"/>
<circle cx="851.3" cy="314.6" r="0.8" fill="#30d8b0"/>
<circle cx="866.9" cy="314.8" r="0.9" fill="#30d8b0"/>
<circle cx="840.3" cy="313.4" r="1.2" fill="#22c8a0"/>
<circle cx="824.4" cy="315.3" r="1.2" fill="#22c8a0"/>
<circle cx="840.3" cy="313.7" r="1.4" fill="#6af0d0"/>
<circle cx="877.6" cy="314.9" r="1.3" fill="#6af0d0"/>
<circle cx="833.0" cy="316.7" r="1.0" fill="#22c8a0"/>
<circle cx="885.2" cy="313.0" r="1.1" fill="#22c8a0"/>
<circle cx="829.6" cy="314.0" r="1.2" fill="#6af0d0"/>
<circle cx="822.8" cy="319.2" r="1.0" fill="#22c8a0"/>
<circle cx="850.2" cy="309.6" r="1.3" fill="#30d8b0"/>
<circle cx="885.7" cy="317.3" r="1.5" fill="#30d8b0"/>
<circle cx="829.4" cy="314.7" r="0.8" fill="#22c8a0"/>
<circle cx="825.6" cy="316.1" r="1.1" fill="#30d8b0"/>
<circle cx="861.9" cy="310.2" r="1.5" fill="#22c8a0"/>
<circle cx="844.8" cy="313.3" r="1.6" fill="#22c8a0"/>
<circle cx="871.2" cy="315.9" r="1.1" fill="#22c8a0"/>
<circle cx="857.1" cy="310.6" r="1.4" fill="#22c8a0"/>
<circle cx="830.2" cy="319.1" r="1.5" fill="#6af0d0"/>
<circle cx="885.5" cy="314.4" r="1.0" fill="#30d8b0"/>
<circle cx="818.8" cy="313.5" r="1.2" fill="#6af0d0"/>
<circle cx="868.2" cy="311.7" r="1.5" fill="#22c8a0"/>
<circle cx="865.5" cy="316.2" r="1.3" fill="#6af0d0"/>
<circle cx="882.6" cy="313.4" r="1.3" fill="#30d8b0"/>
<circle cx="835.0" cy="317.9" r="1.2" fill="#30d8b0"/>
<circle cx="878.7" cy="312.5" r="1.0" fill="#30d8b0"/>
<circle cx="854.5" cy="316.2" r="1.3" fill="#30d8b0"/>
<circle cx="857.1" cy="318.2" r="1.2" fill="#6af0d0"/>
<circle cx="861.3" cy="316.1" r="0.8" fill="#22c8a0"/>
<circle cx="856.8" cy="315.0" r="1.3" fill="#22c8a0"/>
<circle cx="860.5" cy="318.1" r="0.9" fill="#6af0d0"/>
<circle cx="875.9" cy="318.3" r="1.4" fill="#6af0d0"/>
<circle cx="875.5" cy="314.4" r="1.3" fill="#30d8b0"/>
<circle cx="826.0" cy="311.0" r="1.6" fill="#6af0d0"/>
<circle cx="879.7" cy="310.6" r="1.4" fill="#6af0d0"/>
<circle cx="866.4" cy="319.7" r="1.0" fill="#6af0d0"/>
<circle cx="862.4" cy="316.5" r="1.5" fill="#30d8b0"/>
<circle cx="850.6" cy="317.3" r="1.3" fill="#6af0d0"/>
<circle cx="872.0" cy="315.8" r="1.3" fill="#6af0d0"/>
<circle cx="854.3" cy="319.4" r="1.2" fill="#30d8b0"/>
<circle cx="870.9" cy="319.0" r="0.9" fill="#22c8a0"/>
<circle cx="816.4" cy="315.1" r="1.2" fill="#30d8b0"/>
<circle cx="837.0" cy="319.6" r="1.0" fill="#6af0d0"/>
<circle cx="866.9" cy="318.9" r="1.4" fill="#6af0d0"/>
<circle cx="867.4" cy="316.5" r="1.4" fill="#22c8a0"/>
<circle cx="854.8" cy="309.6" r="1.4" fill="#6af0d0"/>
<circle cx="824.7" cy="318.1" r="1.1" fill="#30d8b0"/>
<circle cx="851.6" cy="311.2" r="1.1" fill="#22c8a0"/>
<circle cx="877.9" cy="316.0" r="1.2" fill="#22c8a0"/>
<circle cx="864.6" cy="315.7" r="1.1" fill="#30d8b0"/>
<polygon points="815,309.5 818,307.3 887.8,307.3 885.8,309.5" fill="#8e9696"/>
<rect x="816" y="320.0" width="70.8" height="1.2" fill="#8e9696"/>
<rect x="816" y="321" width="70.8" height="11.5" fill="#3ee0bc"/>
<circle cx="835.5" cy="322.4" r="1.2" fill="#6af0d0"/>
<circle cx="840.2" cy="329.3" r="1.0" fill="#30d8b0"/>
<circle cx="848.2" cy="329.9" r="1.3" fill="#6af0d0"/>
<circle cx="848.1" cy="321.2" r="1.2" fill="#6af0d0"/>
<circle cx="884.5" cy="331.6" r="1.5" fill="#22c8a0"/>
<circle cx="843.5" cy="331.0" r="1.6" fill="#22c8a0"/>
<circle cx="884.6" cy="323.5" r="1.6" fill="#30d8b0"/>
<circle cx="846.7" cy="328.5" r="1.2" fill="#22c8a0"/>
<circle cx="833.8" cy="329.4" r="1.5" fill="#22c8a0"/>
<circle cx="866.9" cy="327.4" r="1.0" fill="#22c8a0"/>
<circle cx="881.9" cy="329.9" r="1.0" fill="#6af0d0"/>
<circle cx="853.5" cy="322.3" r="1.4" fill="#6af0d0"/>
<circle cx="849.7" cy="324.3" r="0.9" fill="#22c8a0"/>
<circle cx="850.7" cy="326.8" r="1.3" fill="#6af0d0"/>
<circle cx="885.6" cy="323.1" r="1.4" fill="#22c8a0"/>
<circle cx="871.1" cy="329.3" r="1.0" fill="#30d8b0"/>
<circle cx="848.6" cy="330.9" r="1.6" fill="#30d8b0"/>
<circle cx="884.2" cy="326.4" r="1.1" fill="#30d8b0"/>
<circle cx="857.8" cy="325.8" r="1.0" fill="#6af0d0"/>
<circle cx="816.5" cy="327.6" r="1.0" fill="#6af0d0"/>
<circle cx="824.0" cy="328.6" r="1.3" fill="#30d8b0"/>
<circle cx="829.1" cy="327.7" r="1.2" fill="#6af0d0"/>
<circle cx="820.3" cy="331.8" r="1.4" fill="#30d8b0"/>
<circle cx="879.1" cy="328.0" r="1.5" fill="#22c8a0"/>
<circle cx="871.9" cy="324.1" r="1.2" fill="#6af0d0"/>
<circle cx="886.1" cy="330.9" r="1.1" fill="#22c8a0"/>
<circle cx="845.9" cy="331.9" r="1.1" fill="#6af0d0"/>
<circle cx="847.7" cy="321.2" r="1.4" fill="#22c8a0"/>
<circle cx="880.5" cy="328.7" r="1.5" fill="#22c8a0"/>
<circle cx="837.8" cy="330.0" r="1.4" fill="#30d8b0"/>
<circle cx="869.5" cy="332.1" r="1.3" fill="#6af0d0"/>
<circle cx="846.1" cy="328.9" r="1.5" fill="#6af0d0"/>
<circle cx="875.9" cy="329.2" r="1.6" fill="#22c8a0"/>
<circle cx="836.4" cy="322.6" r="1.0" fill="#22c8a0"/>
<circle cx="823.2" cy="324.5" r="1.5" fill="#30d8b0"/>
<circle cx="825.2" cy="328.0" r="1.0" fill="#6af0d0"/>
<circle cx="860.1" cy="322.9" r="1.3" fill="#6af0d0"/>
<circle cx="884.9" cy="324.3" r="1.4" fill="#22c8a0"/>
<circle cx="844.9" cy="324.1" r="1.2" fill="#22c8a0"/>
<circle cx="838.8" cy="322.6" r="0.9" fill="#30d8b0"/>
<circle cx="863.4" cy="325.7" r="1.5" fill="#6af0d0"/>
<circle cx="877.6" cy="331.6" r="1.0" fill="#30d8b0"/>
<circle cx="852.5" cy="322.4" r="1.0" fill="#22c8a0"/>
<circle cx="860.6" cy="322.4" r="1.4" fill="#22c8a0"/>
<circle cx="838.9" cy="323.6" r="1.1" fill="#30d8b0"/>
<circle cx="882.1" cy="326.7" r="1.4" fill="#6af0d0"/>
<circle cx="829.4" cy="321.2" r="0.8" fill="#22c8a0"/>
<circle cx="827.3" cy="326.5" r="1.5" fill="#22c8a0"/>
<circle cx="878.5" cy="325.1" r="1.6" fill="#22c8a0"/>
<circle cx="860.1" cy="327.3" r="1.3" fill="#22c8a0"/>
<circle cx="835.7" cy="329.2" r="1.2" fill="#6af0d0"/>
<circle cx="856.7" cy="323.7" r="1.4" fill="#30d8b0"/>
<circle cx="841.3" cy="331.3" r="1.0" fill="#6af0d0"/>
<circle cx="876.0" cy="323.6" r="1.4" fill="#6af0d0"/>
<circle cx="848.3" cy="332.1" r="0.9" fill="#22c8a0"/>
<circle cx="876.0" cy="326.2" r="0.9" fill="#22c8a0"/>
<circle cx="874.7" cy="324.7" r="1.6" fill="#6af0d0"/>
<circle cx="886.6" cy="325.1" r="1.2" fill="#22c8a0"/>
<circle cx="858.3" cy="331.6" r="1.0" fill="#22c8a0"/>
<circle cx="860.8" cy="328.4" r="1.3" fill="#30d8b0"/>
<circle cx="875.1" cy="322.6" r="1.5" fill="#22c8a0"/>
<circle cx="834.5" cy="331.6" r="1.4" fill="#22c8a0"/>
<circle cx="834.5" cy="324.7" r="1.0" fill="#22c8a0"/>
<circle cx="864.4" cy="324.5" r="0.9" fill="#30d8b0"/>
<circle cx="826.3" cy="328.7" r="1.1" fill="#30d8b0"/>
<circle cx="866.1" cy="323.6" r="1.2" fill="#30d8b0"/>
<circle cx="854.6" cy="321.9" r="1.1" fill="#30d8b0"/>
<circle cx="865.7" cy="322.0" r="1.1" fill="#30d8b0"/>
<circle cx="845.4" cy="327.4" r="0.9" fill="#22c8a0"/>
<circle cx="874.5" cy="332.4" r="1.5" fill="#6af0d0"/>
<circle cx="877.7" cy="327.7" r="0.9" fill="#6af0d0"/>
<circle cx="831.5" cy="332.2" r="1.3" fill="#22c8a0"/>
<circle cx="841.3" cy="327.5" r="1.3" fill="#30d8b0"/>
<circle cx="816.5" cy="331.3" r="1.1" fill="#22c8a0"/>
<circle cx="877.8" cy="321.1" r="1.3" fill="#30d8b0"/>
<circle cx="878.8" cy="327.7" r="1.5" fill="#6af0d0"/>
<circle cx="840.3" cy="321.5" r="1.2" fill="#6af0d0"/>
<circle cx="872.3" cy="330.3" r="1.3" fill="#6af0d0"/>
<circle cx="826.7" cy="323.4" r="1.3" fill="#6af0d0"/>
<circle cx="880.8" cy="324.4" r="0.9" fill="#22c8a0"/>
<circle cx="860.0" cy="325.4" r="1.4" fill="#22c8a0"/>
<circle cx="883.1" cy="331.3" r="0.9" fill="#6af0d0"/>
<circle cx="878.9" cy="326.4" r="1.5" fill="#30d8b0"/>
<circle cx="817.0" cy="325.7" r="0.9" fill="#30d8b0"/>
<circle cx="829.8" cy="323.0" r="0.9" fill="#30d8b0"/>
<circle cx="847.1" cy="323.7" r="1.5" fill="#30d8b0"/>
<circle cx="839.8" cy="322.5" r="0.8" fill="#30d8b0"/>
<circle cx="847.4" cy="323.2" r="1.2" fill="#6af0d0"/>
<circle cx="874.1" cy="332.1" r="1.0" fill="#22c8a0"/>
<circle cx="873.8" cy="329.9" r="1.5" fill="#30d8b0"/>
<circle cx="821.1" cy="322.6" r="1.2" fill="#6af0d0"/>
<circle cx="840.5" cy="330.0" r="1.2" fill="#30d8b0"/>
<circle cx="863.2" cy="329.5" r="1.5" fill="#22c8a0"/>
<circle cx="825.0" cy="324.2" r="1.1" fill="#30d8b0"/>
<circle cx="839.6" cy="330.0" r="0.9" fill="#22c8a0"/>
<circle cx="885.0" cy="331.1" r="1.4" fill="#6af0d0"/>
<circle cx="825.7" cy="331.8" r="0.9" fill="#6af0d0"/>
<circle cx="831.3" cy="329.2" r="1.4" fill="#6af0d0"/>
<circle cx="849.5" cy="332.3" r="1.2" fill="#6af0d0"/>
<circle cx="838.3" cy="331.2" r="1.0" fill="#22c8a0"/>
<circle cx="861.3" cy="323.2" r="1.4" fill="#30d8b0"/>
<circle cx="839.5" cy="331.2" r="1.1" fill="#30d8b0"/>
<circle cx="829.0" cy="327.9" r="1.6" fill="#6af0d0"/>
<circle cx="874.2" cy="329.0" r="1.3" fill="#30d8b0"/>
<circle cx="828.7" cy="323.6" r="1.1" fill="#6af0d0"/>
<circle cx="826.3" cy="329.5" r="1.2" fill="#22c8a0"/>
<circle cx="843.7" cy="327.4" r="1.6" fill="#22c8a0"/>
<circle cx="840.4" cy="329.6" r="1.4" fill="#6af0d0"/>
<circle cx="836.5" cy="325.1" r="1.3" fill="#22c8a0"/>
<circle cx="878.8" cy="321.9" r="1.0" fill="#22c8a0"/>
<circle cx="842.3" cy="329.7" r="1.0" fill="#30d8b0"/>
<circle cx="825.3" cy="327.6" r="0.8" fill="#6af0d0"/>
<circle cx="863.2" cy="321.8" r="0.8" fill="#22c8a0"/>
<circle cx="865.1" cy="327.2" r="1.3" fill="#6af0d0"/>
<circle cx="855.0" cy="331.3" r="0.9" fill="#30d8b0"/>
<circle cx="853.6" cy="328.9" r="1.6" fill="#30d8b0"/>
<polygon points="815,321 818,318.8 887.8,318.8 885.8,321" fill="#8e9696"/>
<rect x="816" y="332.5" width="70.8" height="1.2" fill="#8e9696"/>
<text x="851.4" y="285.5" font-family="Liberation Sans, Arial, sans-serif" font-size="5.0" fill="#111" text-anchor="middle" font-weight="bold" >Quasi-array structure</text>
<path d="M874,296 L898,285 M874,296 L900,297" stroke="#60a8e8" stroke-width="0.5" stroke-dasharray="1 0.7"/><circle cx="874" cy="296" r="2" fill="#70b0f0" opacity="0.8"/>
<ellipse cx="909.5" cy="289.1" rx="11.5" ry="9.5" fill="url(#b5c)"/>
<circle cx="916.1" cy="292.5" r="2.2" fill="#50d8b8"/>
<circle cx="913.9" cy="289.1" r="2.2" fill="#50d8b8"/>
<circle cx="909.4" cy="285.5" r="2.2" fill="#88f0dc"/>
<circle cx="916.1" cy="286.0" r="2.2" fill="#38c0a0"/>
<circle cx="904.6" cy="289.8" r="2.2" fill="#38c0a0"/>
<circle cx="903.9" cy="292.2" r="2.2" fill="#88f0dc"/>
<circle cx="916.5" cy="288.7" r="2.2" fill="#50d8b8"/>
<circle cx="908.4" cy="288.1" r="2.2" fill="#50d8b8"/>
<circle cx="908.5" cy="289.0" r="2.2" fill="#88f0dc"/>
<circle cx="910.5" cy="287.8" r="2.2" fill="#50d8b8"/>
<circle cx="915.0" cy="291.9" r="2.2" fill="#88f0dc"/>
<circle cx="911.9" cy="294.4" r="2.2" fill="#88f0dc"/>
<circle cx="911.7" cy="292.4" r="2.2" fill="#50d8b8"/>
<circle cx="915.5" cy="293.0" r="2.2" fill="#88f0dc"/>
<text x="949.4" y="287.5" font-family="Liberation Sans, Arial, sans-serif" font-size="4.6" fill="#111" text-anchor="middle" font-weight="bold" >Hierarchical</text>
<text x="949.4" y="293.0" font-family="Liberation Sans, Arial, sans-serif" font-size="4.6" fill="#111" text-anchor="middle" font-weight="bold" >Bi distribution</text>
<rect x="892.7" y="301.5" width="82.3" height="46" fill="none" stroke="#c8ccd8" stroke-width="0.5" stroke-dasharray="1 1"/>
<rect x="896" y="321" width="29" height="7" fill="#3ee0bc"/>
<circle cx="910.3" cy="324.9" r="1.4" fill="#6af0d0"/>
<circle cx="904.5" cy="326.6" r="0.8" fill="#6af0d0"/>
<circle cx="906.4" cy="323.8" r="1.1" fill="#22c8a0"/>
<circle cx="905.7" cy="321.0" r="1.2" fill="#22c8a0"/>
<circle cx="914.4" cy="323.4" r="1.1" fill="#22c8a0"/>
<circle cx="899.7" cy="323.8" r="1.5" fill="#30d8b0"/>
<circle cx="924.4" cy="323.4" r="1.6" fill="#30d8b0"/>
<circle cx="906.8" cy="326.7" r="1.3" fill="#30d8b0"/>
<circle cx="913.8" cy="323.9" r="1.0" fill="#22c8a0"/>
<circle cx="897.7" cy="323.6" r="0.8" fill="#6af0d0"/>
<circle cx="898.5" cy="323.2" r="0.8" fill="#22c8a0"/>
<circle cx="899.1" cy="323.4" r="0.9" fill="#22c8a0"/>
<circle cx="899.3" cy="323.5" r="1.1" fill="#6af0d0"/>
<circle cx="903.8" cy="327.2" r="1.0" fill="#22c8a0"/>
<circle cx="907.4" cy="321.7" r="1.3" fill="#30d8b0"/>
<circle cx="910.2" cy="327.8" r="0.8" fill="#6af0d0"/>
<circle cx="917.4" cy="326.1" r="1.5" fill="#22c8a0"/>
<circle cx="920.2" cy="327.7" r="1.6" fill="#30d8b0"/>
<circle cx="909.5" cy="324.2" r="1.5" fill="#30d8b0"/>
<circle cx="902.1" cy="327.2" r="0.9" fill="#22c8a0"/>
<circle cx="917.4" cy="322.7" r="1.0" fill="#30d8b0"/>
<circle cx="909.2" cy="323.2" r="0.9" fill="#22c8a0"/>
<circle cx="901.3" cy="322.2" r="1.2" fill="#6af0d0"/>
<circle cx="922.0" cy="327.7" r="1.3" fill="#22c8a0"/>
<circle cx="920.7" cy="325.5" r="0.9" fill="#22c8a0"/>
<circle cx="899.7" cy="324.5" r="0.9" fill="#6af0d0"/>
<circle cx="908.6" cy="324.1" r="1.3" fill="#30d8b0"/>
<circle cx="912.8" cy="326.5" r="1.4" fill="#30d8b0"/>
<circle cx="918.8" cy="326.3" r="1.4" fill="#30d8b0"/>
<polygon points="895,321 898,318.8 926,318.8 924,321" fill="#8e9696"/>
<rect x="896" y="328" width="29" height="1.2" fill="#8e9696"/>
<rect x="940" y="306" width="28" height="7" fill="#3ee0bc"/>
<circle cx="966.0" cy="307.2" r="1.6" fill="#22c8a0"/>
<circle cx="965.0" cy="308.2" r="1.3" fill="#22c8a0"/>
<circle cx="954.2" cy="307.1" r="1.6" fill="#30d8b0"/>
<circle cx="944.8" cy="306.9" r="1.2" fill="#30d8b0"/>
<circle cx="940.5" cy="312.1" r="1.6" fill="#30d8b0"/>
<circle cx="944.5" cy="307.5" r="0.9" fill="#30d8b0"/>
<circle cx="952.5" cy="306.1" r="1.1" fill="#6af0d0"/>
<circle cx="965.1" cy="308.5" r="1.5" fill="#22c8a0"/>
<circle cx="948.6" cy="308.0" r="1.1" fill="#30d8b0"/>
<circle cx="957.1" cy="307.4" r="1.3" fill="#22c8a0"/>
<circle cx="956.1" cy="310.1" r="0.8" fill="#22c8a0"/>
<circle cx="943.9" cy="310.5" r="1.2" fill="#6af0d0"/>
<circle cx="967.7" cy="311.9" r="1.1" fill="#30d8b0"/>
<circle cx="964.4" cy="307.1" r="0.9" fill="#30d8b0"/>
<circle cx="960.0" cy="308.4" r="1.2" fill="#6af0d0"/>
<circle cx="955.1" cy="312.3" r="0.9" fill="#22c8a0"/>
<circle cx="960.8" cy="309.2" r="1.4" fill="#22c8a0"/>
<circle cx="957.9" cy="308.3" r="1.3" fill="#22c8a0"/>
<circle cx="966.7" cy="306.7" r="1.0" fill="#22c8a0"/>
<circle cx="967.8" cy="312.9" r="1.6" fill="#6af0d0"/>
<circle cx="966.4" cy="310.0" r="1.5" fill="#6af0d0"/>
<circle cx="966.3" cy="309.3" r="1.6" fill="#30d8b0"/>
<circle cx="947.2" cy="308.6" r="1.0" fill="#30d8b0"/>
<circle cx="944.7" cy="309.9" r="1.4" fill="#30d8b0"/>
<circle cx="951.3" cy="311.5" r="1.2" fill="#22c8a0"/>
<circle cx="940.9" cy="307.2" r="1.0" fill="#6af0d0"/>
<circle cx="961.5" cy="307.7" r="1.4" fill="#22c8a0"/>
<circle cx="962.3" cy="311.1" r="1.3" fill="#22c8a0"/>
<polygon points="939,306 942,303.8 969,303.8 967,306" fill="#8e9696"/>
<rect x="940" y="313" width="28" height="1.2" fill="#8e9696"/>
<rect x="937" y="334" width="33" height="8" fill="#3ee0bc"/>
<circle cx="951.7" cy="336.4" r="1.5" fill="#6af0d0"/>
<circle cx="958.8" cy="337.1" r="0.9" fill="#30d8b0"/>
<circle cx="943.7" cy="334.6" r="1.3" fill="#30d8b0"/>
<circle cx="957.2" cy="335.8" r="1.5" fill="#22c8a0"/>
<circle cx="947.8" cy="336.2" r="1.3" fill="#22c8a0"/>
<circle cx="967.1" cy="341.0" r="1.4" fill="#22c8a0"/>
<circle cx="962.2" cy="338.4" r="1.1" fill="#6af0d0"/>
<circle cx="953.1" cy="335.6" r="1.5" fill="#22c8a0"/>
<circle cx="969.9" cy="339.0" r="1.4" fill="#22c8a0"/>
<circle cx="937.7" cy="341.4" r="0.9" fill="#22c8a0"/>
<circle cx="967.6" cy="337.2" r="1.2" fill="#6af0d0"/>
<circle cx="939.0" cy="334.4" r="1.1" fill="#6af0d0"/>
<circle cx="969.5" cy="339.9" r="1.3" fill="#30d8b0"/>
<circle cx="939.3" cy="338.0" r="1.3" fill="#6af0d0"/>
<circle cx="964.2" cy="337.6" r="1.4" fill="#22c8a0"/>
<circle cx="963.5" cy="335.7" r="1.4" fill="#30d8b0"/>
<circle cx="954.8" cy="336.4" r="0.9" fill="#6af0d0"/>
<circle cx="941.4" cy="336.9" r="0.9" fill="#22c8a0"/>
<circle cx="953.3" cy="334.3" r="1.1" fill="#22c8a0"/>
<circle cx="963.5" cy="341.2" r="1.4" fill="#30d8b0"/>
<circle cx="953.8" cy="336.0" r="1.3" fill="#6af0d0"/>
<circle cx="938.0" cy="336.8" r="1.6" fill="#30d8b0"/>
<circle cx="937.4" cy="338.3" r="1.1" fill="#22c8a0"/>
<circle cx="939.1" cy="339.6" r="1.3" fill="#6af0d0"/>
<circle cx="949.1" cy="341.9" r="1.0" fill="#6af0d0"/>
<circle cx="945.5" cy="336.8" r="1.1" fill="#30d8b0"/>
<circle cx="939.8" cy="341.8" r="1.1" fill="#22c8a0"/>
<circle cx="950.6" cy="334.4" r="1.2" fill="#6af0d0"/>
<circle cx="938.8" cy="340.6" r="1.5" fill="#6af0d0"/>
<circle cx="950.6" cy="337.9" r="1.4" fill="#6af0d0"/>
<circle cx="950.1" cy="335.1" r="0.8" fill="#30d8b0"/>
<circle cx="947.5" cy="335.5" r="1.0" fill="#30d8b0"/>
<circle cx="968.6" cy="334.6" r="1.5" fill="#22c8a0"/>
<circle cx="969.2" cy="340.4" r="0.8" fill="#6af0d0"/>
<circle cx="951.8" cy="338.0" r="1.3" fill="#22c8a0"/>
<circle cx="954.9" cy="334.8" r="1.6" fill="#22c8a0"/>
<circle cx="946.9" cy="340.5" r="1.0" fill="#22c8a0"/>
<polygon points="936,334 939,331.8 971,331.8 969,334" fill="#8e9696"/>
<rect x="937" y="342" width="33" height="1.2" fill="#8e9696"/>
<rect x="951" y="315" width="0.8" height="12" fill="#f070a0"/><rect x="954" y="315" width="0.8" height="12" fill="#6090e0"/>
<text x="952.0" y="316.0" font-family="Liberation Sans, Arial, sans-serif" font-size="3.2" fill="#5080d0" text-anchor="middle" font-weight="normal" >Stress buffer</text>
<text x="952.0" y="328.0" font-family="Liberation Sans, Arial, sans-serif" font-size="3.2" fill="#e05090" text-anchor="middle" font-weight="normal" >Na storage</text>
<text x="911.0" y="312.0" font-family="Liberation Sans, Arial, sans-serif" font-size="3.0" fill="#666" text-anchor="middle" font-weight="normal" >Porous structure</text>
<path d="M920,318.5 L930,313" stroke="#555" stroke-width="0.4"/>
<text x="907.0" y="340.0" font-family="Liberation Sans, Arial, sans-serif" font-size="5.4" fill="#111" text-anchor="middle" font-weight="bold" >“Breathing”</text>
<rect x="820" y="344" width="6" height="2.6" fill="#28dcb0"/><text x="830.0" y="346.5" font-family="Liberation Sans, Arial, sans-serif" font-size="3.6" fill="#28c0a0" text-anchor="start" font-weight="bold" >Metallic Bi</text>
<rect x="861" y="344" width="6" height="2.6" fill="#999"/><text x="871.0" y="346.5" font-family="Liberation Sans, Arial, sans-serif" font-size="3.6" fill="#888" text-anchor="start" font-weight="normal" >N-CNSs</text>
<rect x="1008.5" y="278.4" width="167.5" height="68.2" fill="#fbe3d6"/>
<rect x="1022.7" y="281.1" width="140.79999999999995" height="56.69999999999999" fill="#dcedf7"/>
<line x1="1022.7" y1="281.5" x2="1163.5" y2="281.5" stroke="#111" stroke-width="0.9"/>
<line x1="1022.7" y1="281.1" x2="1022.7" y2="337.8" stroke="#333" stroke-width="0.7"/><line x1="1163.5" y1="281.1" x2="1163.5" y2="337.8" stroke="#333" stroke-width="0.7"/><line x1="1022.7" y1="337.8" x2="1163.5" y2="337.8" stroke="#333" stroke-width="0.7"/>
<line x1="1022.7" y1="286.5" x2="1163.5" y2="286.5" stroke="#1a9a8a" stroke-width="0.9"/>
<path d="M1023,292 Q1024,305 1027,311 Q1031,303 1040,300 Q1050,297 1065,296.2 L1163,296.8" fill="none" stroke="#f01c1c" stroke-width="0.9"/>
<path d="M1023,297 Q1024,303 1026,308 L1028,306 L1030,304.5 L1032,303 L1045,302.3 L1124.5,302" fill="none" stroke="#1c30f0" stroke-width="0.9"/>
<path d="M1023,300 Q1025,306 1027,308 Q1033,307 1045,306 L1153.8,305.5" fill="none" stroke="#18d018" stroke-width="0.9"/>
<path d="M1148,287.5 Q1152,291 1156,291.5 L1162,292" fill="none" stroke="#2040d0" stroke-width="0.5" stroke-dasharray="1 0.5"/>
<text x="1061.0" y="292.0" font-family="Liberation Sans, Arial, sans-serif" font-size="4.2" fill="#f01c1c" text-anchor="middle" font-weight="bold" >P-Bi@C-700</text>
<text x="1088.0" y="292.0" font-family="Liberation Sans, Arial, sans-serif" font-size="3.6" fill="#111" text-anchor="middle" font-weight="bold" >180.5 mAh g⁻¹</text>
<text x="1137.0" y="291.5" font-family="Liberation Sans, Arial, sans-serif" font-size="3.6" fill="#111" text-anchor="middle" font-weight="bold" >1 A g⁻¹</text>
<text x="1097.0" y="300.2" font-family="Liberation Sans, Arial, sans-serif" font-size="3.6" fill="#1c30f0" text-anchor="middle" font-weight="bold" >P-Bi@C-600</text>
<text x="1143.0" y="304.0" font-family="Liberation Sans, Arial, sans-serif" font-size="3.6" fill="#18c018" text-anchor="middle" font-weight="bold" >P-Bi@C-500</text>
<rect x="1028.9" y="311.2" width="45.2" height="25.7" fill="#6a6a6a"/>
<circle cx="1033.0" cy="322.4" r="0.6" fill="#6e6e6e"/>
<circle cx="1042.6" cy="335.5" r="1.1" fill="#8a8a8a"/>
<circle cx="1062.0" cy="334.2" r="0.8" fill="#6e6e6e"/>
<circle cx="1052.5" cy="334.0" r="1.0" fill="#a4a4a4"/>
<circle cx="1061.3" cy="321.8" r="1.0" fill="#8a8a8a"/>
<circle cx="1052.7" cy="332.2" r="1.3" fill="#a4a4a4"/>
<circle cx="1031.0" cy="312.2" r="0.6" fill="#6e6e6e"/>
<circle cx="1072.0" cy="316.9" r="0.7" fill="#6e6e6e"/>
<circle cx="1070.8" cy="316.8" r="0.5" fill="#a4a4a4"/>
<circle cx="1071.7" cy="333.0" r="1.1" fill="#6e6e6e"/>
<circle cx="1033.3" cy="314.1" r="0.6" fill="#8a8a8a"/>
<circle cx="1045.1" cy="326.5" r="0.5" fill="#6e6e6e"/>
<circle cx="1054.1" cy="314.4" r="1.2" fill="#6e6e6e"/>
<circle cx="1043.6" cy="331.7" r="1.1" fill="#3e3e3e"/>
<circle cx="1037.9" cy="334.0" r="1.1" fill="#8a8a8a"/>
<circle cx="1042.2" cy="333.6" r="0.9" fill="#6e6e6e"/>
<circle cx="1044.6" cy="326.6" r="1.0" fill="#a4a4a4"/>
<circle cx="1044.3" cy="314.5" r="0.5" fill="#a4a4a4"/>
<circle cx="1064.6" cy="312.4" r="0.4" fill="#3e3e3e"/>
<circle cx="1053.7" cy="327.9" r="1.3" fill="#8a8a8a"/>
<circle cx="1053.0" cy="314.4" r="0.5" fill="#6e6e6e"/>
<circle cx="1069.2" cy="331.8" r="0.9" fill="#8a8a8a"/>
<circle cx="1071.1" cy="330.6" r="0.8" fill="#8a8a8a"/>
<circle cx="1037.5" cy="325.3" r="0.7" fill="#8a8a8a"/>
<circle cx="1065.8" cy="322.4" r="0.6" fill="#6e6e6e"/>
<circle cx="1033.4" cy="330.0" r="0.6" fill="#3e3e3e"/>
<circle cx="1059.0" cy="329.3" r="0.9" fill="#8a8a8a"/>
<circle cx="1063.5" cy="332.2" r="0.9" fill="#8a8a8a"/>
<circle cx="1053.7" cy="315.9" r="1.2" fill="#a4a4a4"/>
<circle cx="1062.1" cy="331.1" r="0.7" fill="#3e3e3e"/>
<circle cx="1059.8" cy="330.7" r="0.7" fill="#a4a4a4"/>
<circle cx="1059.7" cy="318.7" r="0.4" fill="#8a8a8a"/>
<circle cx="1047.3" cy="323.6" r="1.0" fill="#8a8a8a"/>
<circle cx="1038.5" cy="317.0" r="1.2" fill="#6e6e6e"/>
<circle cx="1071.5" cy="318.4" r="1.1" fill="#3e3e3e"/>
<circle cx="1065.5" cy="321.7" r="1.0" fill="#8a8a8a"/>
<circle cx="1048.6" cy="334.0" r="1.0" fill="#3e3e3e"/>
<circle cx="1038.4" cy="315.9" r="1.1" fill="#a4a4a4"/>
<circle cx="1068.6" cy="329.0" r="1.1" fill="#3e3e3e"/>
<circle cx="1045.3" cy="313.5" r="1.3" fill="#6e6e6e"/>
<circle cx="1072.3" cy="325.1" r="1.3" fill="#6e6e6e"/>
<circle cx="1071.2" cy="328.2" r="0.8" fill="#6e6e6e"/>
<circle cx="1062.0" cy="324.9" r="1.2" fill="#6e6e6e"/>
<circle cx="1054.7" cy="331.6" r="1.0" fill="#3e3e3e"/>
<circle cx="1038.0" cy="319.6" r="1.2" fill="#a4a4a4"/>
<circle cx="1059.1" cy="322.3" r="0.5" fill="#6e6e6e"/>
<circle cx="1033.5" cy="330.2" r="1.3" fill="#6e6e6e"/>
<circle cx="1072.3" cy="318.9" r="1.3" fill="#8a8a8a"/>
<circle cx="1053.0" cy="335.0" r="1.2" fill="#6e6e6e"/>
<circle cx="1052.4" cy="330.2" r="1.0" fill="#a4a4a4"/>
<circle cx="1030.4" cy="325.4" r="0.9" fill="#a4a4a4"/>
<circle cx="1053.2" cy="320.1" r="1.0" fill="#3e3e3e"/>
<circle cx="1038.9" cy="333.2" r="1.1" fill="#6e6e6e"/>
<circle cx="1061.9" cy="315.7" r="1.0" fill="#8a8a8a"/>
<circle cx="1057.0" cy="328.7" r="0.6" fill="#a4a4a4"/>
<circle cx="1061.4" cy="334.4" r="1.2" fill="#3e3e3e"/>
<circle cx="1035.8" cy="328.0" r="0.7" fill="#3e3e3e"/>
<circle cx="1040.4" cy="320.6" r="0.4" fill="#a4a4a4"/>
<circle cx="1055.3" cy="313.9" r="1.2" fill="#6e6e6e"/>
<circle cx="1035.1" cy="318.8" r="0.6" fill="#6e6e6e"/>
<circle cx="1049.1" cy="326.7" r="0.4" fill="#3e3e3e"/>
<circle cx="1037.3" cy="316.9" r="1.1" fill="#6e6e6e"/>
<circle cx="1036.6" cy="324.8" r="0.6" fill="#6e6e6e"/>
<circle cx="1068.0" cy="316.0" r="0.4" fill="#a4a4a4"/>
<circle cx="1050.1" cy="326.3" r="1.2" fill="#6e6e6e"/>
<circle cx="1066.4" cy="314.8" r="0.7" fill="#a4a4a4"/>
<circle cx="1063.9" cy="314.3" r="1.2" fill="#8a8a8a"/>
<circle cx="1037.7" cy="335.6" r="0.6" fill="#a4a4a4"/>
<circle cx="1062.6" cy="335.7" r="0.5" fill="#3e3e3e"/>
<circle cx="1049.8" cy="328.2" r="1.2" fill="#6e6e6e"/>
<circle cx="1063.2" cy="319.5" r="1.1" fill="#6e6e6e"/>
<circle cx="1035.0" cy="313.4" r="0.5" fill="#6e6e6e"/>
<circle cx="1070.5" cy="333.6" r="1.2" fill="#a4a4a4"/>
<circle cx="1055.9" cy="329.5" r="0.9" fill="#6e6e6e"/>
<circle cx="1054.5" cy="317.1" r="0.4" fill="#6e6e6e"/>
<circle cx="1053.8" cy="335.9" r="0.6" fill="#a4a4a4"/>
<circle cx="1037.4" cy="318.1" r="0.7" fill="#6e6e6e"/>
<circle cx="1071.3" cy="331.0" r="1.1" fill="#8a8a8a"/>
<circle cx="1043.7" cy="329.2" r="1.1" fill="#6e6e6e"/>
<circle cx="1063.9" cy="335.8" r="0.5" fill="#6e6e6e"/>
<circle cx="1039.3" cy="313.9" r="1.1" fill="#a4a4a4"/>
<circle cx="1055.3" cy="332.9" r="0.9" fill="#8a8a8a"/>
<circle cx="1037.7" cy="314.2" r="0.7" fill="#a4a4a4"/>
<circle cx="1054.5" cy="325.8" r="0.4" fill="#8a8a8a"/>
<circle cx="1042.3" cy="315.1" r="0.7" fill="#6e6e6e"/>
<circle cx="1053.6" cy="314.0" r="0.8" fill="#6e6e6e"/>
<circle cx="1055.0" cy="312.2" r="0.9" fill="#6e6e6e"/>
<circle cx="1044.3" cy="313.1" r="0.6" fill="#3e3e3e"/>
<circle cx="1055.7" cy="334.3" r="0.5" fill="#a4a4a4"/>
<circle cx="1071.2" cy="329.3" r="0.7" fill="#3e3e3e"/>
<ellipse cx="1052" cy="323" rx="18" ry="11.5" fill="#8c8c8c" opacity="0.6"/>
<text x="1046.0" y="315.5" font-family="Liberation Sans, Arial, sans-serif" font-size="3.4" fill="#f02020" text-anchor="middle" font-weight="bold" >P-Bi@C-700</text>
<rect x="1031" y="333" width="8" height="0.8" fill="#fff"/>
<path d="M1078,321 L1084,328 L1090,321 M1078,328 L1084,321 L1090,328 M1084,321 V328" fill="none" stroke="#a040c0" stroke-width="0.9"/>
<path d="M1096,325 H1106 M1096,327 H1106" stroke="#e8c060" stroke-width="0.8"/>
<circle cx="1118" cy="325" r="5" fill="#e8c858" opacity="0.85"/><path d="M1112,319 L1124,331 M1124,319 L1112,331" stroke="#b050c0" stroke-width="0.7"/>
<path d="M1130,325 H1140 M1130,327 H1140" stroke="#e8c060" stroke-width="0.8"/>
<circle cx="1152" cy="325" r="6" fill="#e8c858" opacity="0.8"/><circle cx="1152" cy="325" r="3.5" fill="#f0d890" stroke="#b050c0" stroke-width="0.5"/>
<text x="1021.9" y="338.9" font-family="Liberation Sans, Arial, sans-serif" font-size="3.0" fill="#333" text-anchor="end" font-weight="normal" >0</text>
<text x="1021.9" y="327.5" font-family="Liberation Sans, Arial, sans-serif" font-size="3.0" fill="#333" text-anchor="end" font-weight="normal" >100</text>
<text x="1021.9" y="316.2" font-family="Liberation Sans, Arial, sans-serif" font-size="3.0" fill="#333" text-anchor="end" font-weight="normal" >200</text>
<text x="1021.9" y="304.8" font-family="Liberation Sans, Arial, sans-serif" font-size="3.0" fill="#333" text-anchor="end" font-weight="normal" >300</text>
<text x="1021.9" y="293.5" font-family="Liberation Sans, Arial, sans-serif" font-size="3.0" fill="#333" text-anchor="end" font-weight="normal" >400</text>
<text x="1021.9" y="282.2" font-family="Liberation Sans, Arial, sans-serif" font-size="3.0" fill="#333" text-anchor="end" font-weight="normal" >500</text>
<text x="1164.3" y="338.9" font-family="Liberation Sans, Arial, sans-serif" font-size="3.0" fill="#333" text-anchor="start" font-weight="normal" >0</text>
<text x="1164.3" y="327.5" font-family="Liberation Sans, Arial, sans-serif" font-size="3.0" fill="#333" text-anchor="start" font-weight="normal" >20</text>
<text x="1164.3" y="316.2" font-family="Liberation Sans, Arial, sans-serif" font-size="3.0" fill="#333" text-anchor="start" font-weight="normal" >40</text>
<text x="1164.3" y="304.8" font-family="Liberation Sans, Arial, sans-serif" font-size="3.0" fill="#333" text-anchor="start" font-weight="normal" >60</text>
<text x="1164.3" y="293.5" font-family="Liberation Sans, Arial, sans-serif" font-size="3.0" fill="#333" text-anchor="start" font-weight="normal" >80</text>
<text x="1164.3" y="282.2" font-family="Liberation Sans, Arial, sans-serif" font-size="3.0" fill="#333" text-anchor="start" font-weight="normal" >100</text>
<text x="1022.7" y="341.2" font-family="Liberation Sans, Arial, sans-serif" font-size="3.0" fill="#333" text-anchor="middle" font-weight="normal" >0</text>
<text x="1040.3" y="341.2" font-family="Liberation Sans, Arial, sans-serif" font-size="3.0" fill="#333" text-anchor="middle" font-weight="normal" >200</text>
<text x="1057.9" y="341.2" font-family="Liberation Sans, Arial, sans-serif" font-size="3.0" fill="#333" text-anchor="middle" font-weight="normal" >400</text>
<text x="1075.5" y="341.2" font-family="Liberation Sans, Arial, sans-serif" font-size="3.0" fill="#333" text-anchor="middle" font-weight="normal" >600</text>
<text x="1093.1" y="341.2" font-family="Liberation Sans, Arial, sans-serif" font-size="3.0" fill="#333" text-anchor="middle" font-weight="normal" >800</text>
<text x="1110.7" y="341.2" font-family="Liberation Sans, Arial, sans-serif" font-size="3.0" fill="#333" text-anchor="middle" font-weight="normal" >1000</text>
<text x="1128.3" y="341.2" font-family="Liberation Sans, Arial, sans-serif" font-size="3.0" fill="#333" text-anchor="middle" font-weight="normal" >1200</text>
<text x="1145.9" y="341.2" font-family="Liberation Sans, Arial, sans-serif" font-size="3.0" fill="#333" text-anchor="middle" font-weight="normal" >1400</text>
<text x="1163.5" y="341.2" font-family="Liberation Sans, Arial, sans-serif" font-size="3.0" fill="#333" text-anchor="middle" font-weight="normal" >1600</text>
<text x="0" y="0" font-family="Liberation Sans, Arial, sans-serif" font-size="3.0" fill="#333" text-anchor="middle" transform="translate(1016.1,309.5) rotate(-90)">Capacity (mAh g⁻¹)</text>
<text x="0" y="0" font-family="Liberation Sans, Arial, sans-serif" font-size="3.0" fill="#333" text-anchor="middle" transform="translate(1171.3,309.5) rotate(90)">C.E (%)</text>
<text x="1093.1" y="345.3" font-family="Liberation Sans, Arial, sans-serif" font-size="3.0" fill="#333" text-anchor="middle" font-weight="normal" >Cycle Number</text>
<rect x="10.0" y="77.6" width="173.2" height="92.80000000000001" rx="15" ry="15" fill="none" stroke="#3a6898" stroke-dasharray="11.8 5" stroke-width="2.0"/>
<rect x="209.0" y="77.6" width="173.3" height="92.80000000000001" rx="15" ry="15" fill="none" stroke="#3a6898" stroke-dasharray="11.8 5" stroke-width="2.0"/>
<rect x="408.0" y="77.6" width="173.79999999999995" height="92.80000000000001" rx="15" ry="15" fill="none" stroke="#3a6898" stroke-dasharray="11.8 5" stroke-width="2.0"/>
<rect x="606.8" y="77.6" width="173.9000000000001" height="92.80000000000001" rx="15" ry="15" fill="none" stroke="#3a6898" stroke-dasharray="11.8 5" stroke-width="2.0"/>
<rect x="805.7" y="77.6" width="173.79999999999995" height="92.80000000000001" rx="15" ry="15" fill="none" stroke="#3a6898" stroke-dasharray="11.8 5" stroke-width="2.0"/>
<rect x="1003.4" y="77.6" width="172.60000000000002" height="92.80000000000001" rx="15" ry="15" fill="none" stroke="#3a6898" stroke-dasharray="11.8 5" stroke-width="2.0"/>
<rect x="10.0" y="267.6" width="172.4" height="92.69999999999999" rx="15" ry="15" fill="none" stroke="#3a6898" stroke-dasharray="11.8 5" stroke-width="1.7"/>
<rect x="208.0" y="267.6" width="173.5" height="92.69999999999999" rx="15" ry="15" fill="none" stroke="#3a6898" stroke-dasharray="11.8 5" stroke-width="1.7"/>
<rect x="409.8" y="267.6" width="172.90000000000003" height="92.69999999999999" rx="15" ry="15" fill="none" stroke="#3a6898" stroke-dasharray="11.8 5" stroke-width="1.7"/>
<rect x="609.4" y="267.6" width="172.80000000000007" height="92.69999999999999" rx="15" ry="15" fill="none" stroke="#3a6898" stroke-dasharray="11.8 5" stroke-width="1.7"/>
<rect x="808.2" y="267.6" width="172.0999999999999" height="92.69999999999999" rx="15" ry="15" fill="none" stroke="#3a6898" stroke-dasharray="11.8 5" stroke-width="1.7"/>
<rect x="1005.2" y="267.6" width="172.79999999999995" height="92.69999999999999" rx="15" ry="15" fill="none" stroke="#3a6898" stroke-dasharray="11.8 5" stroke-width="1.7"/>
<circle cx="91.5" cy="171.3" r="2.7" fill="#6aaed0"/>
<circle cx="290.4" cy="171.3" r="2.7" fill="#6aaed0"/>
<circle cx="492.2" cy="171.3" r="2.7" fill="#6aaed0"/>
<circle cx="688.7" cy="171.3" r="2.7" fill="#6aaed0"/>
<circle cx="886.7" cy="171.3" r="2.7" fill="#6aaed0"/>
<circle cx="1084.9" cy="171.3" r="2.7" fill="#6aaed0"/>
<circle cx="94.9" cy="267.5" r="2.7" fill="#6aaed0"/>
<circle cx="294.5" cy="267.5" r="2.7" fill="#6aaed0"/>
<circle cx="494.6" cy="267.5" r="2.7" fill="#6aaed0"/>
<circle cx="696.9" cy="267.5" r="2.7" fill="#6aaed0"/>
<circle cx="893.5" cy="267.5" r="2.7" fill="#6aaed0"/>
<circle cx="1091.7" cy="267.5" r="2.7" fill="#6aaed0"/></svg>
</body></html>
